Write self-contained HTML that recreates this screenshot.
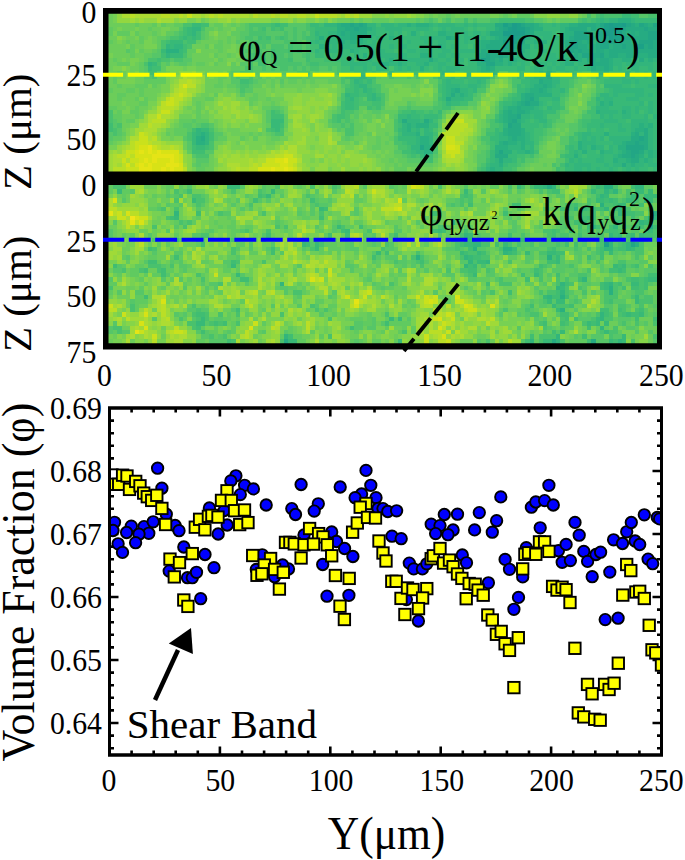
<!DOCTYPE html>
<html><head><meta charset="utf-8"><style>
html,body{margin:0;padding:0;background:#fff;width:685px;height:860px;overflow:hidden}
svg{display:block}
</style></head><body><svg width="685" height="860" viewBox="0 0 685 860"><defs><filter id="hb" x="0" y="0" width="1" height="1"><feGaussianBlur stdDeviation="0.6"/></filter></defs>
<g filter="url(#hb)"><g shape-rendering="crispEdges" transform="translate(104.112,9.422) scale(4.38800,4.37778)"><path fill="#1f988b" d="M116 4h1v1h-1z"/><path fill="#1e9d89" d="M93 3h1v1h-1zM115 3h1v1h-1zM118 3h1v1h-1zM93 4h1v1h-1zM115 4h1v1h-1zM91 5h5v1h-5zM114 5h2v1h-2zM92 6h1v1h-1zM115 6h1v1h-1z"/><path fill="#1fa187" d="M91 3h1v1h-1zM94 3h1v1h-1zM114 3h1v1h-1zM116 3h2v1h-2zM92 4h1v1h-1zM94 4h2v1h-2zM114 4h1v1h-1zM117 4h1v1h-1zM116 5h2v1h-2zM93 6h2v1h-2zM116 6h2v1h-2zM91 7h1v1h-1zM93 7h1v1h-1zM122 8h1v1h-1zM86 11h1v1h-1z"/><path fill="#21a685" d="M56 3h1v1h-1zM58 3h1v1h-1zM92 3h1v1h-1zM95 3h1v1h-1zM113 3h1v1h-1zM119 3h1v1h-1zM122 3h1v1h-1zM125 3h2v1h-2zM57 4h1v1h-1zM91 4h1v1h-1zM96 4h1v1h-1zM118 4h1v1h-1zM123 4h1v1h-1zM96 5h1v1h-1zM107 5h3v1h-3zM112 5h2v1h-2zM124 5h3v1h-3zM91 6h1v1h-1zM95 6h1v1h-1zM107 6h4v1h-4zM113 6h2v1h-2zM118 6h2v1h-2zM124 6h3v1h-3zM92 7h1v1h-1zM94 7h1v1h-1zM106 7h2v1h-2zM113 7h5v1h-5zM122 7h3v1h-3zM91 8h3v1h-3zM106 8h2v1h-2zM113 8h2v1h-2zM118 8h1v1h-1zM121 8h1v1h-1zM124 8h1v1h-1zM88 9h2v1h-2zM92 9h1v1h-1zM106 9h1v1h-1zM108 9h1v1h-1zM87 10h1v1h-1zM90 10h1v1h-1zM109 10h2v1h-2zM113 10h1v1h-1zM87 11h1v1h-1zM87 12h2v1h-2zM97 20h1v1h-1zM96 21h1v1h-1zM94 24h1v1h-1zM93 25h1v1h-1zM92 26h1v1h-1zM122 29h1v1h-1zM121 30h1v1h-1zM72 31h1v1h-1zM119 31h4v1h-4zM90 32h1v1h-1zM120 32h2v1h-2zM120 33h1v1h-1z"/><path fill="#25ab82" d="M54 3h2v1h-2zM57 3h1v1h-1zM59 3h1v1h-1zM89 3h2v1h-2zM96 3h2v1h-2zM108 3h4v1h-4zM120 3h1v1h-1zM123 3h1v1h-1zM55 4h2v1h-2zM58 4h2v1h-2zM90 4h1v1h-1zM97 4h1v1h-1zM106 4h4v1h-4zM111 4h1v1h-1zM113 4h1v1h-1zM119 4h4v1h-4zM124 4h3v1h-3zM54 5h1v1h-1zM56 5h4v1h-4zM88 5h3v1h-3zM97 5h1v1h-1zM110 5h1v1h-1zM118 5h1v1h-1zM120 5h1v1h-1zM122 5h2v1h-2zM56 6h3v1h-3zM78 6h1v1h-1zM90 6h1v1h-1zM106 6h1v1h-1zM112 6h1v1h-1zM121 6h3v1h-3zM88 7h3v1h-3zM95 7h1v1h-1zM105 7h1v1h-1zM108 7h1v1h-1zM110 7h1v1h-1zM112 7h1v1h-1zM118 7h2v1h-2zM125 7h2v1h-2zM87 8h4v1h-4zM94 8h1v1h-1zM105 8h1v1h-1zM108 8h2v1h-2zM112 8h1v1h-1zM116 8h2v1h-2zM119 8h2v1h-2zM123 8h1v1h-1zM125 8h2v1h-2zM86 9h1v1h-1zM90 9h2v1h-2zM93 9h1v1h-1zM107 9h1v1h-1zM109 9h2v1h-2zM112 9h2v1h-2zM115 9h12v1h-12zM86 10h1v1h-1zM88 10h2v1h-2zM91 10h1v1h-1zM107 10h1v1h-1zM111 10h2v1h-2zM115 10h2v1h-2zM119 10h2v1h-2zM124 10h3v1h-3zM74 11h1v1h-1zM88 11h1v1h-1zM90 11h1v1h-1zM110 11h2v1h-2zM113 11h2v1h-2zM122 11h1v1h-1zM111 12h4v1h-4zM87 13h1v1h-1zM111 13h1v1h-1zM114 13h1v1h-1zM101 15h1v1h-1zM99 16h1v1h-1zM100 17h1v1h-1zM80 18h1v1h-1zM99 18h1v1h-1zM79 19h1v1h-1zM96 19h2v1h-2zM78 20h1v1h-1zM96 20h1v1h-1zM95 21h1v1h-1zM97 21h2v1h-2zM94 22h1v1h-1zM92 23h1v1h-1zM94 23h2v1h-2zM92 24h2v1h-2zM68 25h1v1h-1zM73 25h1v1h-1zM92 25h1v1h-1zM93 26h2v1h-2zM92 27h3v1h-3zM123 27h1v1h-1zM92 28h3v1h-3zM121 28h1v1h-1zM123 28h1v1h-1zM22 29h1v1h-1zM93 29h1v1h-1zM120 29h2v1h-2zM123 29h1v1h-1zM91 30h1v1h-1zM119 30h2v1h-2zM122 30h2v1h-2zM123 31h1v1h-1zM119 32h1v1h-1zM122 32h1v1h-1zM89 33h3v1h-3zM118 33h2v1h-2zM121 33h1v1h-1zM90 34h1v1h-1zM120 34h2v1h-2zM118 35h1v1h-1z"/><path fill="#2ab07f" d="M117 2h3v1h-3zM53 3h1v1h-1zM69 3h1v1h-1zM71 3h3v1h-3zM98 3h1v1h-1zM106 3h2v1h-2zM112 3h1v1h-1zM121 3h1v1h-1zM124 3h1v1h-1zM53 4h2v1h-2zM60 4h1v1h-1zM89 4h1v1h-1zM98 4h2v1h-2zM105 4h1v1h-1zM112 4h1v1h-1zM53 5h1v1h-1zM55 5h1v1h-1zM70 5h1v1h-1zM76 5h2v1h-2zM105 5h2v1h-2zM119 5h1v1h-1zM121 5h1v1h-1zM49 6h1v1h-1zM54 6h2v1h-2zM65 6h1v1h-1zM79 6h1v1h-1zM84 6h1v1h-1zM89 6h1v1h-1zM96 6h1v1h-1zM105 6h1v1h-1zM111 6h1v1h-1zM120 6h1v1h-1zM53 7h2v1h-2zM56 7h3v1h-3zM86 7h2v1h-2zM98 7h1v1h-1zM100 7h1v1h-1zM109 7h1v1h-1zM120 7h2v1h-2zM49 8h1v1h-1zM76 8h1v1h-1zM86 8h1v1h-1zM95 8h2v1h-2zM110 8h2v1h-2zM115 8h1v1h-1zM14 9h3v1h-3zM56 9h1v1h-1zM87 9h1v1h-1zM94 9h2v1h-2zM104 9h1v1h-1zM111 9h1v1h-1zM114 9h1v1h-1zM59 10h1v1h-1zM72 10h2v1h-2zM85 10h1v1h-1zM92 10h1v1h-1zM94 10h1v1h-1zM108 10h1v1h-1zM114 10h1v1h-1zM117 10h2v1h-2zM121 10h3v1h-3zM65 11h1v1h-1zM85 11h1v1h-1zM89 11h1v1h-1zM92 11h2v1h-2zM105 11h1v1h-1zM107 11h2v1h-2zM112 11h1v1h-1zM115 11h1v1h-1zM118 11h2v1h-2zM124 11h1v1h-1zM63 12h2v1h-2zM67 12h1v1h-1zM73 12h1v1h-1zM80 12h1v1h-1zM85 12h2v1h-2zM89 12h2v1h-2zM92 12h1v1h-1zM105 12h2v1h-2zM110 12h1v1h-1zM115 12h1v1h-1zM120 12h1v1h-1zM72 13h1v1h-1zM86 13h1v1h-1zM88 13h1v1h-1zM112 13h2v1h-2zM115 13h1v1h-1zM86 14h2v1h-2zM99 14h1v1h-1zM101 14h1v1h-1zM114 14h1v1h-1zM98 15h3v1h-3zM100 16h2v1h-2zM98 17h2v1h-2zM101 17h1v1h-1zM79 18h1v1h-1zM97 18h2v1h-2zM100 18h1v1h-1zM81 19h1v1h-1zM95 19h1v1h-1zM98 19h4v1h-4zM95 20h1v1h-1zM98 20h1v1h-1zM94 21h1v1h-1zM113 21h1v1h-1zM115 21h1v1h-1zM92 22h2v1h-2zM95 22h3v1h-3zM91 23h1v1h-1zM93 23h1v1h-1zM96 23h1v1h-1zM112 23h1v1h-1zM118 23h1v1h-1zM91 24h1v1h-1zM91 25h1v1h-1zM94 25h1v1h-1zM69 26h1v1h-1zM71 26h3v1h-3zM122 26h1v1h-1zM124 26h1v1h-1zM69 27h1v1h-1zM91 27h1v1h-1zM95 27h1v1h-1zM121 27h2v1h-2zM22 28h1v1h-1zM71 28h1v1h-1zM91 28h1v1h-1zM95 28h1v1h-1zM114 28h1v1h-1zM120 28h1v1h-1zM21 29h1v1h-1zM72 29h2v1h-2zM92 29h1v1h-1zM94 29h2v1h-2zM21 30h2v1h-2zM72 30h2v1h-2zM90 30h1v1h-1zM92 30h2v1h-2zM95 30h1v1h-1zM108 30h1v1h-1zM118 30h1v1h-1zM73 31h2v1h-2zM89 31h3v1h-3zM95 31h1v1h-1zM108 31h1v1h-1zM111 31h1v1h-1zM117 31h2v1h-2zM73 32h2v1h-2zM89 32h1v1h-1zM91 32h2v1h-2zM96 32h1v1h-1zM109 32h1v1h-1zM113 32h1v1h-1zM118 32h1v1h-1zM124 32h1v1h-1zM73 33h1v1h-1zM107 33h1v1h-1zM117 33h1v1h-1zM122 33h1v1h-1zM124 33h1v1h-1zM116 34h1v1h-1zM119 34h1v1h-1zM123 34h1v1h-1zM90 35h1v1h-1zM120 35h1v1h-1zM88 36h1v1h-1zM88 37h1v1h-1z"/><path fill="#31b57b" d="M113 2h1v1h-1zM115 2h2v1h-2zM120 2h1v1h-1zM50 3h3v1h-3zM60 3h2v1h-2zM63 3h3v1h-3zM67 3h2v1h-2zM70 3h1v1h-1zM74 3h1v1h-1zM76 3h4v1h-4zM82 3h1v1h-1zM84 3h1v1h-1zM99 3h1v1h-1zM102 3h1v1h-1zM104 3h2v1h-2zM20 4h2v1h-2zM61 4h1v1h-1zM64 4h4v1h-4zM71 4h3v1h-3zM77 4h1v1h-1zM79 4h3v1h-3zM104 4h1v1h-1zM110 4h1v1h-1zM20 5h1v1h-1zM48 5h1v1h-1zM51 5h2v1h-2zM60 5h2v1h-2zM65 5h1v1h-1zM67 5h1v1h-1zM78 5h2v1h-2zM82 5h1v1h-1zM84 5h2v1h-2zM87 5h1v1h-1zM98 5h4v1h-4zM104 5h1v1h-1zM111 5h1v1h-1zM52 6h2v1h-2zM59 6h2v1h-2zM62 6h1v1h-1zM66 6h1v1h-1zM72 6h6v1h-6zM80 6h1v1h-1zM82 6h2v1h-2zM86 6h1v1h-1zM88 6h1v1h-1zM97 6h2v1h-2zM100 6h2v1h-2zM103 6h2v1h-2zM48 7h1v1h-1zM50 7h3v1h-3zM55 7h1v1h-1zM59 7h1v1h-1zM61 7h1v1h-1zM67 7h1v1h-1zM69 7h1v1h-1zM73 7h2v1h-2zM76 7h2v1h-2zM82 7h1v1h-1zM85 7h1v1h-1zM96 7h2v1h-2zM99 7h1v1h-1zM104 7h1v1h-1zM111 7h1v1h-1zM14 8h1v1h-1zM16 8h2v1h-2zM50 8h1v1h-1zM52 8h1v1h-1zM54 8h8v1h-8zM65 8h1v1h-1zM68 8h1v1h-1zM77 8h1v1h-1zM79 8h1v1h-1zM84 8h2v1h-2zM98 8h2v1h-2zM48 9h1v1h-1zM50 9h4v1h-4zM57 9h1v1h-1zM61 9h1v1h-1zM63 9h1v1h-1zM69 9h2v1h-2zM72 9h3v1h-3zM77 9h2v1h-2zM81 9h5v1h-5zM96 9h1v1h-1zM100 9h1v1h-1zM105 9h1v1h-1zM14 10h1v1h-1zM57 10h1v1h-1zM61 10h1v1h-1zM63 10h6v1h-6zM74 10h1v1h-1zM76 10h2v1h-2zM79 10h2v1h-2zM93 10h1v1h-1zM95 10h2v1h-2zM101 10h2v1h-2zM104 10h3v1h-3zM56 11h1v1h-1zM58 11h1v1h-1zM60 11h1v1h-1zM64 11h1v1h-1zM67 11h7v1h-7zM75 11h1v1h-1zM78 11h1v1h-1zM81 11h1v1h-1zM83 11h2v1h-2zM91 11h1v1h-1zM94 11h2v1h-2zM97 11h1v1h-1zM101 11h3v1h-3zM106 11h1v1h-1zM109 11h1v1h-1zM116 11h2v1h-2zM120 11h1v1h-1zM123 11h1v1h-1zM125 11h2v1h-2zM10 12h1v1h-1zM56 12h4v1h-4zM61 12h2v1h-2zM65 12h2v1h-2zM68 12h1v1h-1zM71 12h2v1h-2zM76 12h2v1h-2zM91 12h1v1h-1zM93 12h1v1h-1zM95 12h1v1h-1zM98 12h3v1h-3zM102 12h1v1h-1zM104 12h1v1h-1zM108 12h2v1h-2zM116 12h2v1h-2zM119 12h1v1h-1zM121 12h4v1h-4zM56 13h1v1h-1zM59 13h1v1h-1zM62 13h2v1h-2zM67 13h1v1h-1zM69 13h1v1h-1zM76 13h1v1h-1zM78 13h3v1h-3zM85 13h1v1h-1zM94 13h2v1h-2zM98 13h2v1h-2zM101 13h1v1h-1zM103 13h2v1h-2zM107 13h1v1h-1zM110 13h1v1h-1zM117 13h1v1h-1zM120 13h2v1h-2zM124 13h1v1h-1zM77 14h3v1h-3zM85 14h1v1h-1zM88 14h1v1h-1zM98 14h1v1h-1zM100 14h1v1h-1zM102 14h1v1h-1zM105 14h1v1h-1zM111 14h3v1h-3zM119 14h1v1h-1zM121 14h1v1h-1zM123 14h1v1h-1zM125 14h2v1h-2zM58 15h2v1h-2zM79 15h1v1h-1zM82 15h1v1h-1zM84 15h4v1h-4zM96 15h2v1h-2zM102 15h2v1h-2zM118 15h1v1h-1zM120 15h1v1h-1zM123 15h1v1h-1zM125 15h2v1h-2zM57 16h1v1h-1zM78 16h1v1h-1zM85 16h1v1h-1zM97 16h2v1h-2zM102 16h2v1h-2zM118 16h2v1h-2zM121 16h1v1h-1zM58 17h2v1h-2zM78 17h3v1h-3zM83 17h2v1h-2zM97 17h1v1h-1zM102 17h1v1h-1zM114 17h4v1h-4zM124 17h3v1h-3zM59 18h1v1h-1zM78 18h1v1h-1zM81 18h2v1h-2zM84 18h1v1h-1zM96 18h1v1h-1zM101 18h1v1h-1zM104 18h1v1h-1zM116 18h7v1h-7zM55 19h1v1h-1zM61 19h1v1h-1zM78 19h1v1h-1zM80 19h1v1h-1zM82 19h1v1h-1zM113 19h2v1h-2zM116 19h1v1h-1zM121 19h2v1h-2zM124 19h1v1h-1zM56 20h1v1h-1zM61 20h1v1h-1zM79 20h3v1h-3zM102 20h2v1h-2zM112 20h1v1h-1zM114 20h2v1h-2zM119 20h3v1h-3zM78 21h1v1h-1zM93 21h1v1h-1zM99 21h1v1h-1zM114 21h1v1h-1zM122 21h1v1h-1zM124 21h1v1h-1zM91 22h1v1h-1zM98 22h1v1h-1zM101 22h1v1h-1zM112 22h3v1h-3zM118 22h2v1h-2zM121 22h1v1h-1zM124 22h1v1h-1zM97 23h3v1h-3zM113 23h4v1h-4zM119 23h1v1h-1zM121 23h1v1h-1zM124 23h1v1h-1zM69 24h1v1h-1zM90 24h1v1h-1zM95 24h2v1h-2zM98 24h2v1h-2zM113 24h1v1h-1zM115 24h1v1h-1zM118 24h2v1h-2zM123 24h1v1h-1zM125 24h2v1h-2zM69 25h3v1h-3zM74 25h1v1h-1zM90 25h1v1h-1zM95 25h1v1h-1zM99 25h2v1h-2zM114 25h3v1h-3zM120 25h4v1h-4zM68 26h1v1h-1zM70 26h1v1h-1zM91 26h1v1h-1zM113 26h1v1h-1zM117 26h1v1h-1zM120 26h2v1h-2zM123 26h1v1h-1zM21 27h1v1h-1zM68 27h1v1h-1zM71 27h1v1h-1zM73 27h1v1h-1zM117 27h2v1h-2zM120 27h1v1h-1zM124 27h1v1h-1zM21 28h1v1h-1zM23 28h1v1h-1zM68 28h3v1h-3zM73 28h2v1h-2zM90 28h1v1h-1zM96 28h1v1h-1zM109 28h2v1h-2zM122 28h1v1h-1zM124 28h1v1h-1zM23 29h1v1h-1zM71 29h1v1h-1zM74 29h1v1h-1zM90 29h2v1h-2zM96 29h1v1h-1zM109 29h1v1h-1zM111 29h1v1h-1zM113 29h1v1h-1zM115 29h5v1h-5zM124 29h1v1h-1zM23 30h1v1h-1zM71 30h1v1h-1zM74 30h1v1h-1zM94 30h1v1h-1zM96 30h2v1h-2zM109 30h3v1h-3zM116 30h2v1h-2zM124 30h1v1h-1zM70 31h2v1h-2zM92 31h3v1h-3zM97 31h1v1h-1zM109 31h1v1h-1zM112 31h2v1h-2zM115 31h1v1h-1zM124 31h1v1h-1zM71 32h2v1h-2zM94 32h2v1h-2zM97 32h1v1h-1zM107 32h1v1h-1zM114 32h2v1h-2zM117 32h1v1h-1zM123 32h1v1h-1zM125 32h2v1h-2zM113 33h1v1h-1zM116 33h1v1h-1zM125 33h2v1h-2zM89 34h1v1h-1zM91 34h2v1h-2zM106 34h1v1h-1zM108 34h1v1h-1zM112 34h2v1h-2zM117 34h2v1h-2zM122 34h1v1h-1zM124 34h1v1h-1zM88 35h2v1h-2zM105 35h1v1h-1zM107 35h4v1h-4zM114 35h1v1h-1zM116 35h2v1h-2zM119 35h1v1h-1zM121 35h2v1h-2zM124 35h3v1h-3zM87 36h1v1h-1zM89 36h2v1h-2zM107 36h2v1h-2zM110 36h1v1h-1zM112 36h1v1h-1zM115 36h1v1h-1zM119 36h1v1h-1zM121 36h1v1h-1zM87 37h1v1h-1zM89 37h2v1h-2zM107 37h2v1h-2zM110 37h1v1h-1zM112 37h1v1h-1zM115 37h1v1h-1zM119 37h1v1h-1zM121 37h1v1h-1z"/><path fill="#38b977" d="M118 0h2v1h-2zM118 1h2v1h-2zM112 2h1v1h-1zM114 2h1v1h-1zM121 2h6v1h-6zM20 3h2v1h-2zM39 3h1v1h-1zM47 3h2v1h-2zM66 3h1v1h-1zM75 3h1v1h-1zM80 3h2v1h-2zM83 3h1v1h-1zM85 3h4v1h-4zM100 3h2v1h-2zM103 3h1v1h-1zM19 4h1v1h-1zM48 4h5v1h-5zM62 4h2v1h-2zM68 4h3v1h-3zM74 4h1v1h-1zM76 4h1v1h-1zM78 4h1v1h-1zM82 4h1v1h-1zM84 4h1v1h-1zM87 4h2v1h-2zM100 4h4v1h-4zM19 5h1v1h-1zM49 5h2v1h-2zM62 5h3v1h-3zM66 5h1v1h-1zM69 5h1v1h-1zM71 5h1v1h-1zM73 5h3v1h-3zM80 5h2v1h-2zM83 5h1v1h-1zM86 5h1v1h-1zM102 5h1v1h-1zM18 6h1v1h-1zM20 6h1v1h-1zM48 6h1v1h-1zM50 6h2v1h-2zM61 6h1v1h-1zM63 6h2v1h-2zM67 6h5v1h-5zM81 6h1v1h-1zM87 6h1v1h-1zM99 6h1v1h-1zM102 6h1v1h-1zM15 7h3v1h-3zM47 7h1v1h-1zM49 7h1v1h-1zM60 7h1v1h-1zM62 7h5v1h-5zM68 7h1v1h-1zM70 7h3v1h-3zM75 7h1v1h-1zM78 7h4v1h-4zM83 7h2v1h-2zM101 7h3v1h-3zM15 8h1v1h-1zM51 8h1v1h-1zM53 8h1v1h-1zM62 8h3v1h-3zM66 8h2v1h-2zM69 8h7v1h-7zM78 8h1v1h-1zM80 8h3v1h-3zM97 8h1v1h-1zM100 8h5v1h-5zM13 9h1v1h-1zM17 9h1v1h-1zM49 9h1v1h-1zM54 9h2v1h-2zM58 9h3v1h-3zM62 9h1v1h-1zM64 9h2v1h-2zM67 9h2v1h-2zM71 9h1v1h-1zM75 9h2v1h-2zM79 9h2v1h-2zM97 9h3v1h-3zM101 9h3v1h-3zM15 10h3v1h-3zM48 10h2v1h-2zM52 10h4v1h-4zM58 10h1v1h-1zM60 10h1v1h-1zM62 10h1v1h-1zM69 10h3v1h-3zM75 10h1v1h-1zM78 10h1v1h-1zM81 10h4v1h-4zM97 10h2v1h-2zM100 10h1v1h-1zM103 10h1v1h-1zM54 11h2v1h-2zM59 11h1v1h-1zM61 11h3v1h-3zM66 11h1v1h-1zM76 11h2v1h-2zM79 11h2v1h-2zM96 11h1v1h-1zM99 11h2v1h-2zM104 11h1v1h-1zM121 11h1v1h-1zM11 12h1v1h-1zM54 12h2v1h-2zM60 12h1v1h-1zM69 12h2v1h-2zM74 12h2v1h-2zM78 12h2v1h-2zM81 12h1v1h-1zM83 12h2v1h-2zM94 12h1v1h-1zM96 12h1v1h-1zM101 12h1v1h-1zM103 12h1v1h-1zM107 12h1v1h-1zM118 12h1v1h-1zM125 12h2v1h-2zM10 13h1v1h-1zM57 13h2v1h-2zM60 13h1v1h-1zM64 13h1v1h-1zM66 13h1v1h-1zM68 13h1v1h-1zM70 13h2v1h-2zM73 13h1v1h-1zM75 13h1v1h-1zM77 13h1v1h-1zM81 13h4v1h-4zM89 13h5v1h-5zM97 13h1v1h-1zM100 13h1v1h-1zM102 13h1v1h-1zM105 13h2v1h-2zM108 13h2v1h-2zM116 13h1v1h-1zM118 13h1v1h-1zM122 13h2v1h-2zM125 13h2v1h-2zM57 14h3v1h-3zM61 14h1v1h-1zM65 14h1v1h-1zM72 14h1v1h-1zM76 14h1v1h-1zM82 14h3v1h-3zM89 14h1v1h-1zM94 14h1v1h-1zM97 14h1v1h-1zM104 14h1v1h-1zM106 14h1v1h-1zM115 14h4v1h-4zM122 14h1v1h-1zM124 14h1v1h-1zM56 15h2v1h-2zM76 15h1v1h-1zM78 15h1v1h-1zM81 15h1v1h-1zM83 15h1v1h-1zM94 15h1v1h-1zM112 15h1v1h-1zM115 15h3v1h-3zM119 15h1v1h-1zM121 15h2v1h-2zM124 15h1v1h-1zM58 16h1v1h-1zM60 16h1v1h-1zM77 16h1v1h-1zM79 16h3v1h-3zM83 16h2v1h-2zM86 16h1v1h-1zM95 16h2v1h-2zM114 16h4v1h-4zM120 16h1v1h-1zM122 16h5v1h-5zM57 17h1v1h-1zM77 17h1v1h-1zM81 17h2v1h-2zM85 17h1v1h-1zM94 17h1v1h-1zM96 17h1v1h-1zM103 17h1v1h-1zM118 17h2v1h-2zM121 17h3v1h-3zM57 18h1v1h-1zM60 18h1v1h-1zM77 18h1v1h-1zM83 18h1v1h-1zM94 18h2v1h-2zM102 18h2v1h-2zM115 18h1v1h-1zM123 18h4v1h-4zM56 19h2v1h-2zM60 19h1v1h-1zM77 19h1v1h-1zM83 19h1v1h-1zM94 19h1v1h-1zM102 19h2v1h-2zM115 19h1v1h-1zM117 19h4v1h-4zM123 19h1v1h-1zM125 19h2v1h-2zM55 20h1v1h-1zM60 20h1v1h-1zM62 20h1v1h-1zM77 20h1v1h-1zM82 20h2v1h-2zM93 20h2v1h-2zM99 20h3v1h-3zM113 20h1v1h-1zM116 20h3v1h-3zM122 20h5v1h-5zM55 21h2v1h-2zM79 21h2v1h-2zM91 21h2v1h-2zM100 21h1v1h-1zM102 21h2v1h-2zM112 21h1v1h-1zM116 21h6v1h-6zM125 21h2v1h-2zM55 22h2v1h-2zM99 22h1v1h-1zM102 22h2v1h-2zM115 22h3v1h-3zM120 22h1v1h-1zM122 22h2v1h-2zM125 22h2v1h-2zM70 23h1v1h-1zM76 23h1v1h-1zM90 23h1v1h-1zM100 23h3v1h-3zM117 23h1v1h-1zM120 23h1v1h-1zM123 23h1v1h-1zM125 23h2v1h-2zM67 24h2v1h-2zM70 24h2v1h-2zM73 24h3v1h-3zM97 24h1v1h-1zM100 24h1v1h-1zM114 24h1v1h-1zM116 24h2v1h-2zM120 24h3v1h-3zM38 25h3v1h-3zM67 25h1v1h-1zM72 25h1v1h-1zM89 25h1v1h-1zM96 25h1v1h-1zM98 25h1v1h-1zM111 25h3v1h-3zM117 25h2v1h-2zM124 25h3v1h-3zM38 26h2v1h-2zM74 26h2v1h-2zM95 26h4v1h-4zM100 26h1v1h-1zM110 26h3v1h-3zM114 26h3v1h-3zM118 26h2v1h-2zM125 26h2v1h-2zM22 27h2v1h-2zM39 27h1v1h-1zM67 27h1v1h-1zM70 27h1v1h-1zM74 27h1v1h-1zM89 27h1v1h-1zM96 27h2v1h-2zM110 27h1v1h-1zM112 27h2v1h-2zM115 27h2v1h-2zM119 27h1v1h-1zM125 27h2v1h-2zM20 28h1v1h-1zM89 28h1v1h-1zM97 28h1v1h-1zM108 28h1v1h-1zM111 28h3v1h-3zM115 28h5v1h-5zM125 28h2v1h-2zM20 29h1v1h-1zM67 29h4v1h-4zM88 29h2v1h-2zM97 29h1v1h-1zM108 29h1v1h-1zM110 29h1v1h-1zM112 29h1v1h-1zM125 29h2v1h-2zM20 30h1v1h-1zM69 30h2v1h-2zM89 30h1v1h-1zM112 30h4v1h-4zM125 30h2v1h-2zM21 31h2v1h-2zM96 31h1v1h-1zM106 31h1v1h-1zM110 31h1v1h-1zM116 31h1v1h-1zM125 31h2v1h-2zM70 32h1v1h-1zM88 32h1v1h-1zM93 32h1v1h-1zM106 32h1v1h-1zM108 32h1v1h-1zM110 32h2v1h-2zM116 32h1v1h-1zM72 33h1v1h-1zM88 33h1v1h-1zM92 33h2v1h-2zM105 33h2v1h-2zM108 33h1v1h-1zM110 33h3v1h-3zM114 33h2v1h-2zM123 33h1v1h-1zM88 34h1v1h-1zM93 34h1v1h-1zM107 34h1v1h-1zM109 34h3v1h-3zM114 34h2v1h-2zM125 34h2v1h-2zM87 35h1v1h-1zM91 35h1v1h-1zM106 35h1v1h-1zM111 35h3v1h-3zM115 35h1v1h-1zM123 35h1v1h-1zM105 36h2v1h-2zM109 36h1v1h-1zM111 36h1v1h-1zM113 36h2v1h-2zM116 36h1v1h-1zM118 36h1v1h-1zM120 36h1v1h-1zM122 36h2v1h-2zM125 36h2v1h-2zM105 37h2v1h-2zM109 37h1v1h-1zM111 37h1v1h-1zM113 37h2v1h-2zM116 37h1v1h-1zM118 37h1v1h-1zM120 37h1v1h-1zM122 37h2v1h-2zM125 37h2v1h-2z"/><path fill="#40bd72" d="M113 0h1v1h-1zM120 0h2v1h-2zM113 1h1v1h-1zM120 1h2v1h-2zM82 2h1v1h-1zM90 2h6v1h-6zM109 2h1v1h-1zM111 2h1v1h-1zM22 3h2v1h-2zM38 3h1v1h-1zM40 3h2v1h-2zM49 3h1v1h-1zM62 3h1v1h-1zM18 4h1v1h-1zM36 4h1v1h-1zM38 4h1v1h-1zM40 4h1v1h-1zM47 4h1v1h-1zM75 4h1v1h-1zM83 4h1v1h-1zM85 4h2v1h-2zM18 5h1v1h-1zM21 5h1v1h-1zM47 5h1v1h-1zM68 5h1v1h-1zM72 5h1v1h-1zM103 5h1v1h-1zM17 6h1v1h-1zM19 6h1v1h-1zM21 6h1v1h-1zM35 6h1v1h-1zM37 6h1v1h-1zM40 6h1v1h-1zM46 6h2v1h-2zM85 6h1v1h-1zM14 7h1v1h-1zM19 7h2v1h-2zM18 8h1v1h-1zM33 8h1v1h-1zM42 8h1v1h-1zM47 8h2v1h-2zM83 8h1v1h-1zM18 9h1v1h-1zM38 9h1v1h-1zM42 9h1v1h-1zM44 9h1v1h-1zM47 9h1v1h-1zM66 9h1v1h-1zM13 10h1v1h-1zM34 10h2v1h-2zM38 10h1v1h-1zM46 10h1v1h-1zM50 10h2v1h-2zM56 10h1v1h-1zM99 10h1v1h-1zM12 11h1v1h-1zM33 11h1v1h-1zM35 11h2v1h-2zM42 11h1v1h-1zM46 11h1v1h-1zM50 11h4v1h-4zM57 11h1v1h-1zM82 11h1v1h-1zM98 11h1v1h-1zM35 12h2v1h-2zM47 12h2v1h-2zM82 12h1v1h-1zM97 12h1v1h-1zM11 13h2v1h-2zM54 13h2v1h-2zM61 13h1v1h-1zM74 13h1v1h-1zM96 13h1v1h-1zM119 13h1v1h-1zM10 14h2v1h-2zM54 14h3v1h-3zM60 14h1v1h-1zM62 14h1v1h-1zM66 14h3v1h-3zM70 14h2v1h-2zM73 14h3v1h-3zM80 14h2v1h-2zM92 14h2v1h-2zM95 14h2v1h-2zM103 14h1v1h-1zM107 14h2v1h-2zM120 14h1v1h-1zM55 15h1v1h-1zM60 15h2v1h-2zM77 15h1v1h-1zM80 15h1v1h-1zM95 15h1v1h-1zM104 15h3v1h-3zM113 15h2v1h-2zM31 16h2v1h-2zM56 16h1v1h-1zM59 16h1v1h-1zM82 16h1v1h-1zM104 16h2v1h-2zM113 16h1v1h-1zM56 17h1v1h-1zM60 17h1v1h-1zM76 17h1v1h-1zM86 17h1v1h-1zM95 17h1v1h-1zM104 17h2v1h-2zM120 17h1v1h-1zM55 18h2v1h-2zM58 18h1v1h-1zM61 18h1v1h-1zM76 18h1v1h-1zM105 18h1v1h-1zM114 18h1v1h-1zM58 19h2v1h-2zM62 19h1v1h-1zM93 19h1v1h-1zM104 19h1v1h-1zM112 19h1v1h-1zM57 20h1v1h-1zM76 20h1v1h-1zM92 20h1v1h-1zM54 21h1v1h-1zM57 21h1v1h-1zM61 21h2v1h-2zM77 21h1v1h-1zM81 21h2v1h-2zM90 21h1v1h-1zM101 21h1v1h-1zM123 21h1v1h-1zM54 22h1v1h-1zM57 22h1v1h-1zM60 22h1v1h-1zM62 22h1v1h-1zM77 22h2v1h-2zM90 22h1v1h-1zM100 22h1v1h-1zM104 22h1v1h-1zM111 22h1v1h-1zM38 23h1v1h-1zM54 23h1v1h-1zM68 23h2v1h-2zM71 23h2v1h-2zM74 23h1v1h-1zM110 23h2v1h-2zM122 23h1v1h-1zM38 24h3v1h-3zM53 24h2v1h-2zM72 24h1v1h-1zM76 24h1v1h-1zM89 24h1v1h-1zM111 24h2v1h-2zM124 24h1v1h-1zM53 25h1v1h-1zM75 25h1v1h-1zM97 25h1v1h-1zM101 25h1v1h-1zM109 25h2v1h-2zM119 25h1v1h-1zM0 26h2v1h-2zM40 26h1v1h-1zM67 26h1v1h-1zM90 26h1v1h-1zM99 26h1v1h-1zM101 26h1v1h-1zM109 26h1v1h-1zM0 27h2v1h-2zM20 27h1v1h-1zM38 27h1v1h-1zM72 27h1v1h-1zM90 27h1v1h-1zM98 27h2v1h-2zM111 27h1v1h-1zM114 27h1v1h-1zM24 28h1v1h-1zM67 28h1v1h-1zM72 28h1v1h-1zM75 28h1v1h-1zM87 28h2v1h-2zM98 28h2v1h-2zM107 28h1v1h-1zM24 29h1v1h-1zM98 29h1v1h-1zM106 29h1v1h-1zM114 29h1v1h-1zM68 30h1v1h-1zM88 30h1v1h-1zM98 30h1v1h-1zM106 30h2v1h-2zM20 31h1v1h-1zM23 31h1v1h-1zM69 31h1v1h-1zM88 31h1v1h-1zM105 31h1v1h-1zM107 31h1v1h-1zM114 31h1v1h-1zM20 32h3v1h-3zM68 32h2v1h-2zM98 32h1v1h-1zM112 32h1v1h-1zM70 33h1v1h-1zM74 33h1v1h-1zM94 33h2v1h-2zM97 33h1v1h-1zM104 33h1v1h-1zM109 33h1v1h-1zM74 34h1v1h-1zM87 34h1v1h-1zM95 34h1v1h-1zM105 34h1v1h-1zM92 35h2v1h-2zM104 35h1v1h-1zM86 36h1v1h-1zM91 36h2v1h-2zM103 36h1v1h-1zM117 36h1v1h-1zM124 36h1v1h-1zM86 37h1v1h-1zM91 37h2v1h-2zM103 37h1v1h-1zM117 37h1v1h-1zM124 37h1v1h-1z"/><path fill="#4ac16d" d="M110 0h1v1h-1zM112 0h1v1h-1zM114 0h4v1h-4zM124 0h3v1h-3zM110 1h1v1h-1zM112 1h1v1h-1zM114 1h4v1h-4zM124 1h3v1h-3zM74 2h1v1h-1zM78 2h1v1h-1zM84 2h1v1h-1zM88 2h2v1h-2zM96 2h2v1h-2zM108 2h1v1h-1zM110 2h1v1h-1zM18 3h2v1h-2zM33 3h5v1h-5zM46 3h1v1h-1zM22 4h1v1h-1zM33 4h1v1h-1zM35 4h1v1h-1zM39 4h1v1h-1zM43 4h1v1h-1zM46 4h1v1h-1zM17 5h1v1h-1zM33 5h4v1h-4zM41 5h1v1h-1zM43 5h1v1h-1zM45 5h1v1h-1zM15 6h2v1h-2zM32 6h2v1h-2zM36 6h1v1h-1zM39 6h1v1h-1zM41 6h1v1h-1zM43 6h1v1h-1zM45 6h1v1h-1zM13 7h1v1h-1zM18 7h1v1h-1zM33 7h5v1h-5zM41 7h3v1h-3zM46 7h1v1h-1zM13 8h1v1h-1zM19 8h1v1h-1zM34 8h1v1h-1zM36 8h1v1h-1zM38 8h3v1h-3zM43 8h2v1h-2zM46 8h1v1h-1zM32 9h1v1h-1zM34 9h2v1h-2zM39 9h3v1h-3zM43 9h1v1h-1zM46 9h1v1h-1zM18 10h1v1h-1zM33 10h1v1h-1zM36 10h1v1h-1zM39 10h2v1h-2zM42 10h1v1h-1zM45 10h1v1h-1zM47 10h1v1h-1zM10 11h2v1h-2zM13 11h2v1h-2zM16 11h2v1h-2zM32 11h1v1h-1zM34 11h1v1h-1zM38 11h4v1h-4zM47 11h3v1h-3zM9 12h1v1h-1zM12 12h1v1h-1zM33 12h1v1h-1zM38 12h7v1h-7zM46 12h1v1h-1zM49 12h5v1h-5zM32 13h2v1h-2zM36 13h1v1h-1zM38 13h1v1h-1zM40 13h2v1h-2zM43 13h1v1h-1zM45 13h1v1h-1zM47 13h2v1h-2zM51 13h1v1h-1zM53 13h1v1h-1zM65 13h1v1h-1zM31 14h3v1h-3zM44 14h3v1h-3zM53 14h1v1h-1zM63 14h2v1h-2zM69 14h1v1h-1zM109 14h2v1h-2zM11 15h1v1h-1zM30 15h1v1h-1zM33 15h1v1h-1zM54 15h1v1h-1zM65 15h1v1h-1zM69 15h1v1h-1zM71 15h1v1h-1zM75 15h1v1h-1zM88 15h1v1h-1zM93 15h1v1h-1zM107 15h1v1h-1zM111 15h1v1h-1zM33 16h1v1h-1zM54 16h1v1h-1zM61 16h1v1h-1zM76 16h1v1h-1zM87 16h1v1h-1zM93 16h2v1h-2zM106 16h1v1h-1zM112 16h1v1h-1zM31 17h2v1h-2zM55 17h1v1h-1zM61 17h2v1h-2zM93 17h1v1h-1zM106 17h1v1h-1zM112 17h1v1h-1zM31 18h1v1h-1zM62 18h1v1h-1zM85 18h2v1h-2zM112 18h2v1h-2zM54 19h1v1h-1zM63 19h1v1h-1zM76 19h1v1h-1zM84 19h1v1h-1zM92 19h1v1h-1zM105 19h1v1h-1zM54 20h1v1h-1zM58 20h1v1h-1zM63 20h1v1h-1zM91 20h1v1h-1zM104 20h1v1h-1zM111 20h1v1h-1zM58 21h3v1h-3zM63 21h1v1h-1zM76 21h1v1h-1zM104 21h1v1h-1zM110 21h2v1h-2zM61 22h1v1h-1zM69 22h1v1h-1zM75 22h2v1h-2zM0 23h2v1h-2zM39 23h1v1h-1zM55 23h2v1h-2zM67 23h1v1h-1zM73 23h1v1h-1zM75 23h1v1h-1zM103 23h1v1h-1zM0 24h2v1h-2zM52 24h1v1h-1zM55 24h1v1h-1zM101 24h3v1h-3zM109 24h2v1h-2zM0 25h2v1h-2zM52 25h1v1h-1zM55 25h1v1h-1zM66 25h1v1h-1zM88 25h1v1h-1zM102 25h1v1h-1zM108 25h1v1h-1zM3 26h1v1h-1zM22 26h2v1h-2zM54 26h1v1h-1zM56 26h1v1h-1zM66 26h1v1h-1zM88 26h2v1h-2zM108 26h1v1h-1zM2 27h1v1h-1zM24 27h1v1h-1zM37 27h1v1h-1zM40 27h1v1h-1zM55 27h2v1h-2zM66 27h1v1h-1zM75 27h1v1h-1zM87 27h2v1h-2zM100 27h1v1h-1zM108 27h2v1h-2zM2 28h1v1h-1zM19 28h1v1h-1zM39 28h2v1h-2zM55 28h2v1h-2zM100 28h1v1h-1zM19 29h1v1h-1zM66 29h1v1h-1zM75 29h1v1h-1zM86 29h2v1h-2zM99 29h1v1h-1zM107 29h1v1h-1zM24 30h1v1h-1zM66 30h2v1h-2zM75 30h1v1h-1zM87 30h1v1h-1zM24 31h1v1h-1zM67 31h2v1h-2zM75 31h1v1h-1zM98 31h1v1h-1zM75 32h1v1h-1zM87 32h1v1h-1zM105 32h1v1h-1zM21 33h3v1h-3zM69 33h1v1h-1zM71 33h1v1h-1zM87 33h1v1h-1zM96 33h1v1h-1zM72 34h2v1h-2zM94 34h1v1h-1zM86 35h1v1h-1zM94 35h1v1h-1zM102 35h1v1h-1zM85 36h1v1h-1zM93 36h1v1h-1zM104 36h1v1h-1zM85 37h1v1h-1zM93 37h1v1h-1zM104 37h1v1h-1z"/><path fill="#56c667" d="M122 0h2v1h-2zM122 1h2v1h-2zM71 2h1v1h-1zM73 2h1v1h-1zM75 2h1v1h-1zM77 2h1v1h-1zM80 2h2v1h-2zM83 2h1v1h-1zM85 2h3v1h-3zM98 2h2v1h-2zM32 3h1v1h-1zM42 3h4v1h-4zM17 4h1v1h-1zM32 4h1v1h-1zM34 4h1v1h-1zM37 4h1v1h-1zM41 4h2v1h-2zM44 4h2v1h-2zM16 5h1v1h-1zM22 5h1v1h-1zM31 5h2v1h-2zM37 5h4v1h-4zM42 5h1v1h-1zM44 5h1v1h-1zM46 5h1v1h-1zM14 6h1v1h-1zM22 6h1v1h-1zM31 6h1v1h-1zM34 6h1v1h-1zM38 6h1v1h-1zM42 6h1v1h-1zM44 6h1v1h-1zM30 7h1v1h-1zM38 7h3v1h-3zM44 7h1v1h-1zM31 8h2v1h-2zM35 8h1v1h-1zM41 8h1v1h-1zM45 8h1v1h-1zM5 9h1v1h-1zM12 9h1v1h-1zM31 9h1v1h-1zM33 9h1v1h-1zM36 9h2v1h-2zM45 9h1v1h-1zM11 10h2v1h-2zM31 10h2v1h-2zM37 10h1v1h-1zM41 10h1v1h-1zM43 10h2v1h-2zM15 11h1v1h-1zM18 11h2v1h-2zM37 11h1v1h-1zM43 11h3v1h-3zM14 12h1v1h-1zM17 12h2v1h-2zM31 12h2v1h-2zM37 12h1v1h-1zM45 12h1v1h-1zM9 13h1v1h-1zM34 13h2v1h-2zM37 13h1v1h-1zM39 13h1v1h-1zM42 13h1v1h-1zM44 13h1v1h-1zM46 13h1v1h-1zM49 13h2v1h-2zM52 13h1v1h-1zM9 14h1v1h-1zM12 14h1v1h-1zM29 14h2v1h-2zM34 14h10v1h-10zM48 14h1v1h-1zM52 14h1v1h-1zM90 14h2v1h-2zM9 15h2v1h-2zM29 15h1v1h-1zM31 15h2v1h-2zM35 15h1v1h-1zM42 15h3v1h-3zM46 15h1v1h-1zM62 15h1v1h-1zM66 15h3v1h-3zM70 15h1v1h-1zM92 15h1v1h-1zM108 15h1v1h-1zM110 15h1v1h-1zM29 16h2v1h-2zM34 16h1v1h-1zM40 16h1v1h-1zM55 16h1v1h-1zM107 16h1v1h-1zM111 16h1v1h-1zM30 17h1v1h-1zM33 17h1v1h-1zM54 17h1v1h-1zM87 17h1v1h-1zM113 17h1v1h-1zM32 18h2v1h-2zM93 18h1v1h-1zM31 19h1v1h-1zM85 19h1v1h-1zM111 19h1v1h-1zM59 20h1v1h-1zM84 20h2v1h-2zM105 20h1v1h-1zM69 21h1v1h-1zM75 21h1v1h-1zM83 21h2v1h-2zM38 22h2v1h-2zM53 22h1v1h-1zM63 22h1v1h-1zM67 22h2v1h-2zM70 22h5v1h-5zM79 22h1v1h-1zM89 22h1v1h-1zM110 22h1v1h-1zM37 23h1v1h-1zM40 23h1v1h-1zM53 23h1v1h-1zM57 23h1v1h-1zM61 23h2v1h-2zM77 23h1v1h-1zM89 23h1v1h-1zM104 23h2v1h-2zM109 23h1v1h-1zM37 24h1v1h-1zM57 24h1v1h-1zM66 24h1v1h-1zM2 25h1v1h-1zM20 25h1v1h-1zM37 25h1v1h-1zM51 25h1v1h-1zM54 25h1v1h-1zM56 25h1v1h-1zM76 25h1v1h-1zM87 25h1v1h-1zM103 25h2v1h-2zM2 26h1v1h-1zM18 26h2v1h-2zM21 26h1v1h-1zM24 26h1v1h-1zM52 26h2v1h-2zM55 26h1v1h-1zM76 26h1v1h-1zM102 26h1v1h-1zM106 26h2v1h-2zM3 27h1v1h-1zM19 27h1v1h-1zM53 27h1v1h-1zM101 27h1v1h-1zM106 27h2v1h-2zM0 28h2v1h-2zM3 28h1v1h-1zM25 28h2v1h-2zM38 28h1v1h-1zM66 28h1v1h-1zM101 28h2v1h-2zM106 28h1v1h-1zM0 29h2v1h-2zM18 29h1v1h-1zM25 29h1v1h-1zM55 29h1v1h-1zM100 29h1v1h-1zM104 29h2v1h-2zM19 30h1v1h-1zM86 30h1v1h-1zM99 30h1v1h-1zM104 30h2v1h-2zM19 31h1v1h-1zM87 31h1v1h-1zM23 32h2v1h-2zM66 32h2v1h-2zM86 32h1v1h-1zM104 32h1v1h-1zM20 33h1v1h-1zM68 33h1v1h-1zM75 33h1v1h-1zM85 33h2v1h-2zM98 33h1v1h-1zM21 34h3v1h-3zM69 34h3v1h-3zM85 34h2v1h-2zM96 34h2v1h-2zM103 34h2v1h-2zM21 35h1v1h-1zM85 35h1v1h-1zM95 35h1v1h-1zM103 35h1v1h-1z"/><path fill="#60ca60" d="M78 0h1v1h-1zM91 0h1v1h-1zM94 0h3v1h-3zM111 0h1v1h-1zM78 1h1v1h-1zM91 1h1v1h-1zM94 1h3v1h-3zM111 1h1v1h-1zM56 2h1v1h-1zM58 2h1v1h-1zM61 2h4v1h-4zM66 2h5v1h-5zM72 2h1v1h-1zM79 2h1v1h-1zM100 2h1v1h-1zM102 2h1v1h-1zM104 2h4v1h-4zM7 3h1v1h-1zM11 3h1v1h-1zM13 3h1v1h-1zM16 3h2v1h-2zM25 3h2v1h-2zM29 3h1v1h-1zM31 3h1v1h-1zM0 4h2v1h-2zM10 4h1v1h-1zM23 4h2v1h-2zM26 4h1v1h-1zM30 4h2v1h-2zM0 5h2v1h-2zM3 5h3v1h-3zM7 5h1v1h-1zM11 5h1v1h-1zM14 5h2v1h-2zM23 5h1v1h-1zM29 5h2v1h-2zM8 6h1v1h-1zM12 6h2v1h-2zM23 6h1v1h-1zM28 6h1v1h-1zM30 6h1v1h-1zM0 7h2v1h-2zM5 7h1v1h-1zM8 7h1v1h-1zM12 7h1v1h-1zM21 7h1v1h-1zM26 7h1v1h-1zM28 7h1v1h-1zM31 7h2v1h-2zM45 7h1v1h-1zM6 8h1v1h-1zM12 8h1v1h-1zM23 8h1v1h-1zM25 8h2v1h-2zM37 8h1v1h-1zM6 9h1v1h-1zM8 9h1v1h-1zM11 9h1v1h-1zM19 9h2v1h-2zM26 9h1v1h-1zM6 10h1v1h-1zM9 10h2v1h-2zM19 10h1v1h-1zM25 10h1v1h-1zM28 10h1v1h-1zM2 11h1v1h-1zM9 11h1v1h-1zM26 11h1v1h-1zM3 12h3v1h-3zM8 12h1v1h-1zM13 12h1v1h-1zM16 12h1v1h-1zM19 12h1v1h-1zM21 12h2v1h-2zM25 12h1v1h-1zM29 12h1v1h-1zM34 12h1v1h-1zM8 13h1v1h-1zM13 13h1v1h-1zM29 13h3v1h-3zM3 14h1v1h-1zM8 14h1v1h-1zM13 14h1v1h-1zM28 14h1v1h-1zM47 14h1v1h-1zM49 14h3v1h-3zM2 15h1v1h-1zM12 15h2v1h-2zM26 15h2v1h-2zM34 15h1v1h-1zM37 15h1v1h-1zM39 15h3v1h-3zM45 15h1v1h-1zM47 15h7v1h-7zM63 15h2v1h-2zM72 15h3v1h-3zM89 15h1v1h-1zM109 15h1v1h-1zM2 16h1v1h-1zM9 16h5v1h-5zM26 16h1v1h-1zM35 16h2v1h-2zM38 16h1v1h-1zM42 16h2v1h-2zM45 16h1v1h-1zM47 16h1v1h-1zM51 16h3v1h-3zM62 16h10v1h-10zM74 16h2v1h-2zM88 16h1v1h-1zM92 16h1v1h-1zM108 16h2v1h-2zM3 17h1v1h-1zM7 17h3v1h-3zM11 17h1v1h-1zM25 17h2v1h-2zM28 17h2v1h-2zM34 17h2v1h-2zM38 17h1v1h-1zM40 17h1v1h-1zM63 17h1v1h-1zM70 17h1v1h-1zM75 17h1v1h-1zM107 17h2v1h-2zM0 18h2v1h-2zM5 18h2v1h-2zM8 18h1v1h-1zM30 18h1v1h-1zM54 18h1v1h-1zM63 18h2v1h-2zM106 18h1v1h-1zM108 18h1v1h-1zM111 18h1v1h-1zM3 19h2v1h-2zM8 19h1v1h-1zM25 19h1v1h-1zM34 19h1v1h-1zM64 19h1v1h-1zM75 19h1v1h-1zM91 19h1v1h-1zM106 19h1v1h-1zM3 20h1v1h-1zM7 20h1v1h-1zM9 20h1v1h-1zM23 20h2v1h-2zM33 20h2v1h-2zM37 20h1v1h-1zM53 20h1v1h-1zM64 20h1v1h-1zM75 20h1v1h-1zM90 20h1v1h-1zM110 20h1v1h-1zM8 21h2v1h-2zM21 21h1v1h-1zM33 21h1v1h-1zM38 21h1v1h-1zM70 21h1v1h-1zM89 21h1v1h-1zM105 21h1v1h-1zM0 22h3v1h-3zM7 22h1v1h-1zM21 22h1v1h-1zM36 22h2v1h-2zM40 22h1v1h-1zM58 22h2v1h-2zM80 22h3v1h-3zM84 22h1v1h-1zM105 22h1v1h-1zM3 23h1v1h-1zM6 23h2v1h-2zM21 23h1v1h-1zM52 23h1v1h-1zM58 23h1v1h-1zM60 23h1v1h-1zM63 23h4v1h-4zM78 23h1v1h-1zM2 24h2v1h-2zM7 24h1v1h-1zM21 24h1v1h-1zM41 24h1v1h-1zM56 24h1v1h-1zM59 24h2v1h-2zM62 24h1v1h-1zM65 24h1v1h-1zM77 24h1v1h-1zM87 24h2v1h-2zM104 24h1v1h-1zM108 24h1v1h-1zM3 25h1v1h-1zM5 25h2v1h-2zM17 25h3v1h-3zM21 25h3v1h-3zM41 25h1v1h-1zM57 25h1v1h-1zM60 25h1v1h-1zM107 25h1v1h-1zM17 26h1v1h-1zM20 26h1v1h-1zM37 26h1v1h-1zM41 26h1v1h-1zM51 26h1v1h-1zM57 26h2v1h-2zM87 26h1v1h-1zM103 26h3v1h-3zM16 27h3v1h-3zM25 27h1v1h-1zM54 27h1v1h-1zM57 27h2v1h-2zM76 27h1v1h-1zM86 27h1v1h-1zM102 27h1v1h-1zM104 27h1v1h-1zM4 28h1v1h-1zM14 28h1v1h-1zM16 28h3v1h-3zM33 28h1v1h-1zM35 28h1v1h-1zM37 28h1v1h-1zM57 28h1v1h-1zM60 28h1v1h-1zM64 28h1v1h-1zM86 28h1v1h-1zM103 28h1v1h-1zM105 28h1v1h-1zM2 29h2v1h-2zM26 29h2v1h-2zM31 29h1v1h-1zM34 29h1v1h-1zM38 29h2v1h-2zM54 29h1v1h-1zM56 29h1v1h-1zM62 29h1v1h-1zM65 29h1v1h-1zM85 29h1v1h-1zM101 29h1v1h-1zM0 30h2v1h-2zM57 30h1v1h-1zM62 30h1v1h-1zM64 30h1v1h-1zM100 30h1v1h-1zM61 31h2v1h-2zM66 31h1v1h-1zM85 31h2v1h-2zM99 31h1v1h-1zM104 31h1v1h-1zM19 32h1v1h-1zM85 32h1v1h-1zM103 32h1v1h-1zM66 33h2v1h-2zM99 33h1v1h-1zM65 34h1v1h-1zM67 34h2v1h-2zM75 34h1v1h-1zM98 34h1v1h-1zM20 35h1v1h-1zM22 35h2v1h-2zM66 35h1v1h-1zM68 35h7v1h-7zM96 35h1v1h-1zM100 35h1v1h-1zM21 36h2v1h-2zM66 36h3v1h-3zM71 36h1v1h-1zM94 36h2v1h-2zM102 36h1v1h-1zM21 37h2v1h-2zM66 37h3v1h-3zM71 37h1v1h-1zM94 37h2v1h-2zM102 37h1v1h-1z"/><path fill="#6ccd5a" d="M0 0h2v1h-2zM74 0h1v1h-1zM76 0h2v1h-2zM79 0h1v1h-1zM81 0h7v1h-7zM90 0h1v1h-1zM92 0h1v1h-1zM97 0h1v1h-1zM109 0h1v1h-1zM0 1h2v1h-2zM74 1h1v1h-1zM76 1h2v1h-2zM79 1h1v1h-1zM81 1h7v1h-7zM90 1h1v1h-1zM92 1h1v1h-1zM97 1h1v1h-1zM109 1h1v1h-1zM0 2h2v1h-2zM22 2h1v1h-1zM50 2h1v1h-1zM53 2h3v1h-3zM57 2h1v1h-1zM59 2h2v1h-2zM65 2h1v1h-1zM76 2h1v1h-1zM101 2h1v1h-1zM103 2h1v1h-1zM0 3h7v1h-7zM8 3h3v1h-3zM14 3h2v1h-2zM24 3h1v1h-1zM28 3h1v1h-1zM30 3h1v1h-1zM2 4h1v1h-1zM4 4h3v1h-3zM8 4h2v1h-2zM11 4h2v1h-2zM15 4h2v1h-2zM25 4h1v1h-1zM27 4h2v1h-2zM8 5h3v1h-3zM12 5h1v1h-1zM26 5h2v1h-2zM0 6h3v1h-3zM5 6h2v1h-2zM9 6h1v1h-1zM11 6h1v1h-1zM24 6h1v1h-1zM26 6h2v1h-2zM29 6h1v1h-1zM2 7h1v1h-1zM4 7h1v1h-1zM6 7h2v1h-2zM11 7h1v1h-1zM22 7h4v1h-4zM27 7h1v1h-1zM29 7h1v1h-1zM0 8h5v1h-5zM7 8h2v1h-2zM20 8h3v1h-3zM27 8h2v1h-2zM30 8h1v1h-1zM0 9h5v1h-5zM9 9h2v1h-2zM22 9h4v1h-4zM27 9h1v1h-1zM30 9h1v1h-1zM2 10h4v1h-4zM7 10h2v1h-2zM20 10h4v1h-4zM26 10h2v1h-2zM29 10h1v1h-1zM0 11h2v1h-2zM3 11h1v1h-1zM5 11h1v1h-1zM8 11h1v1h-1zM20 11h5v1h-5zM27 11h1v1h-1zM30 11h2v1h-2zM0 12h3v1h-3zM7 12h1v1h-1zM15 12h1v1h-1zM20 12h1v1h-1zM23 12h1v1h-1zM26 12h2v1h-2zM0 13h2v1h-2zM6 13h2v1h-2zM18 13h1v1h-1zM21 13h8v1h-8zM0 14h3v1h-3zM4 14h1v1h-1zM6 14h1v1h-1zM14 14h1v1h-1zM23 14h1v1h-1zM26 14h1v1h-1zM0 15h2v1h-2zM3 15h2v1h-2zM7 15h2v1h-2zM23 15h1v1h-1zM25 15h1v1h-1zM28 15h1v1h-1zM36 15h1v1h-1zM38 15h1v1h-1zM90 15h2v1h-2zM0 16h2v1h-2zM7 16h2v1h-2zM23 16h3v1h-3zM27 16h2v1h-2zM37 16h1v1h-1zM39 16h1v1h-1zM41 16h1v1h-1zM44 16h1v1h-1zM46 16h1v1h-1zM48 16h3v1h-3zM72 16h1v1h-1zM110 16h1v1h-1zM0 17h3v1h-3zM4 17h3v1h-3zM12 17h1v1h-1zM23 17h2v1h-2zM27 17h1v1h-1zM37 17h1v1h-1zM41 17h5v1h-5zM47 17h2v1h-2zM53 17h1v1h-1zM64 17h2v1h-2zM68 17h2v1h-2zM71 17h1v1h-1zM73 17h1v1h-1zM92 17h1v1h-1zM111 17h1v1h-1zM2 18h3v1h-3zM7 18h1v1h-1zM9 18h4v1h-4zM23 18h4v1h-4zM28 18h2v1h-2zM34 18h3v1h-3zM38 18h1v1h-1zM44 18h1v1h-1zM53 18h1v1h-1zM66 18h1v1h-1zM70 18h2v1h-2zM75 18h1v1h-1zM87 18h1v1h-1zM91 18h2v1h-2zM107 18h1v1h-1zM110 18h1v1h-1zM0 19h3v1h-3zM5 19h3v1h-3zM9 19h3v1h-3zM22 19h2v1h-2zM30 19h1v1h-1zM32 19h2v1h-2zM35 19h2v1h-2zM53 19h1v1h-1zM86 19h1v1h-1zM90 19h1v1h-1zM107 19h1v1h-1zM109 19h2v1h-2zM0 20h3v1h-3zM4 20h3v1h-3zM10 20h2v1h-2zM20 20h3v1h-3zM32 20h1v1h-1zM35 20h2v1h-2zM38 20h3v1h-3zM68 20h4v1h-4zM106 20h2v1h-2zM109 20h1v1h-1zM0 21h4v1h-4zM5 21h3v1h-3zM20 21h1v1h-1zM22 21h1v1h-1zM34 21h1v1h-1zM36 21h2v1h-2zM39 21h1v1h-1zM53 21h1v1h-1zM64 21h1v1h-1zM66 21h3v1h-3zM71 21h4v1h-4zM85 21h1v1h-1zM106 21h2v1h-2zM109 21h1v1h-1zM3 22h2v1h-2zM6 22h1v1h-1zM8 22h2v1h-2zM19 22h1v1h-1zM22 22h1v1h-1zM41 22h1v1h-1zM52 22h1v1h-1zM64 22h3v1h-3zM83 22h1v1h-1zM88 22h1v1h-1zM108 22h2v1h-2zM2 23h1v1h-1zM8 23h1v1h-1zM20 23h1v1h-1zM23 23h1v1h-1zM36 23h1v1h-1zM41 23h1v1h-1zM51 23h1v1h-1zM59 23h1v1h-1zM88 23h1v1h-1zM106 23h1v1h-1zM108 23h1v1h-1zM4 24h3v1h-3zM8 24h1v1h-1zM17 24h3v1h-3zM22 24h2v1h-2zM36 24h1v1h-1zM51 24h1v1h-1zM58 24h1v1h-1zM61 24h1v1h-1zM63 24h1v1h-1zM105 24h3v1h-3zM4 25h1v1h-1zM25 25h1v1h-1zM36 25h1v1h-1zM58 25h1v1h-1zM63 25h1v1h-1zM65 25h1v1h-1zM86 25h1v1h-1zM105 25h2v1h-2zM4 26h2v1h-2zM16 26h1v1h-1zM25 26h1v1h-1zM36 26h1v1h-1zM59 26h1v1h-1zM62 26h1v1h-1zM64 26h2v1h-2zM86 26h1v1h-1zM4 27h1v1h-1zM14 27h2v1h-2zM26 27h1v1h-1zM28 27h3v1h-3zM36 27h1v1h-1zM41 27h1v1h-1zM52 27h1v1h-1zM59 27h1v1h-1zM62 27h4v1h-4zM103 27h1v1h-1zM105 27h1v1h-1zM15 28h1v1h-1zM27 28h1v1h-1zM29 28h4v1h-4zM34 28h1v1h-1zM36 28h1v1h-1zM54 28h1v1h-1zM58 28h2v1h-2zM62 28h2v1h-2zM65 28h1v1h-1zM104 28h1v1h-1zM4 29h1v1h-1zM15 29h1v1h-1zM32 29h1v1h-1zM37 29h1v1h-1zM40 29h2v1h-2zM57 29h2v1h-2zM60 29h2v1h-2zM63 29h2v1h-2zM102 29h1v1h-1zM2 30h1v1h-1zM18 30h1v1h-1zM25 30h2v1h-2zM30 30h1v1h-1zM37 30h2v1h-2zM53 30h3v1h-3zM60 30h2v1h-2zM63 30h1v1h-1zM65 30h1v1h-1zM85 30h1v1h-1zM103 30h1v1h-1zM18 31h1v1h-1zM25 31h1v1h-1zM60 31h1v1h-1zM63 31h3v1h-3zM100 31h1v1h-1zM103 31h1v1h-1zM61 32h1v1h-1zM63 32h1v1h-1zM65 32h1v1h-1zM84 32h1v1h-1zM99 32h3v1h-3zM24 33h1v1h-1zM62 33h1v1h-1zM64 33h2v1h-2zM76 33h1v1h-1zM84 33h1v1h-1zM100 33h1v1h-1zM103 33h1v1h-1zM20 34h1v1h-1zM24 34h1v1h-1zM63 34h2v1h-2zM66 34h1v1h-1zM84 34h1v1h-1zM99 34h4v1h-4zM24 35h1v1h-1zM64 35h2v1h-2zM67 35h1v1h-1zM75 35h1v1h-1zM97 35h3v1h-3zM101 35h1v1h-1zM23 36h2v1h-2zM64 36h1v1h-1zM70 36h1v1h-1zM72 36h3v1h-3zM84 36h1v1h-1zM96 36h1v1h-1zM98 36h4v1h-4zM23 37h2v1h-2zM64 37h1v1h-1zM70 37h1v1h-1zM72 37h3v1h-3zM84 37h1v1h-1zM96 37h1v1h-1zM98 37h4v1h-4z"/><path fill="#77d153" d="M2 0h1v1h-1zM73 0h1v1h-1zM75 0h1v1h-1zM80 0h1v1h-1zM88 0h2v1h-2zM93 0h1v1h-1zM108 0h1v1h-1zM2 1h1v1h-1zM73 1h1v1h-1zM75 1h1v1h-1zM80 1h1v1h-1zM88 1h2v1h-2zM93 1h1v1h-1zM108 1h1v1h-1zM2 2h1v1h-1zM19 2h2v1h-2zM23 2h1v1h-1zM38 2h2v1h-2zM43 2h1v1h-1zM46 2h2v1h-2zM49 2h1v1h-1zM52 2h1v1h-1zM12 3h1v1h-1zM27 3h1v1h-1zM3 4h1v1h-1zM7 4h1v1h-1zM13 4h2v1h-2zM29 4h1v1h-1zM2 5h1v1h-1zM6 5h1v1h-1zM13 5h1v1h-1zM24 5h1v1h-1zM28 5h1v1h-1zM4 6h1v1h-1zM7 6h1v1h-1zM10 6h1v1h-1zM25 6h1v1h-1zM3 7h1v1h-1zM9 7h2v1h-2zM5 8h1v1h-1zM9 8h3v1h-3zM24 8h1v1h-1zM29 8h1v1h-1zM7 9h1v1h-1zM28 9h2v1h-2zM0 10h2v1h-2zM24 10h1v1h-1zM30 10h1v1h-1zM4 11h1v1h-1zM6 11h2v1h-2zM25 11h1v1h-1zM28 11h2v1h-2zM6 12h1v1h-1zM24 12h1v1h-1zM30 12h1v1h-1zM2 13h2v1h-2zM5 13h1v1h-1zM14 13h4v1h-4zM19 13h2v1h-2zM5 14h1v1h-1zM7 14h1v1h-1zM15 14h2v1h-2zM21 14h2v1h-2zM24 14h2v1h-2zM27 14h1v1h-1zM5 15h2v1h-2zM14 15h1v1h-1zM24 15h1v1h-1zM3 16h4v1h-4zM14 16h1v1h-1zM89 16h1v1h-1zM91 16h1v1h-1zM10 17h1v1h-1zM13 17h2v1h-2zM36 17h1v1h-1zM39 17h1v1h-1zM46 17h1v1h-1zM49 17h3v1h-3zM66 17h2v1h-2zM72 17h1v1h-1zM74 17h1v1h-1zM110 17h1v1h-1zM13 18h2v1h-2zM27 18h1v1h-1zM37 18h1v1h-1zM39 18h5v1h-5zM45 18h3v1h-3zM51 18h2v1h-2zM65 18h1v1h-1zM67 18h3v1h-3zM89 18h2v1h-2zM109 18h1v1h-1zM12 19h1v1h-1zM21 19h1v1h-1zM24 19h1v1h-1zM27 19h2v1h-2zM37 19h1v1h-1zM39 19h2v1h-2zM65 19h5v1h-5zM71 19h1v1h-1zM73 19h1v1h-1zM88 19h2v1h-2zM8 20h1v1h-1zM25 20h1v1h-1zM30 20h2v1h-2zM65 20h3v1h-3zM72 20h3v1h-3zM86 20h2v1h-2zM89 20h1v1h-1zM108 20h1v1h-1zM4 21h1v1h-1zM10 21h2v1h-2zM23 21h2v1h-2zM35 21h1v1h-1zM40 21h2v1h-2zM65 21h1v1h-1zM88 21h1v1h-1zM5 22h1v1h-1zM10 22h1v1h-1zM18 22h1v1h-1zM20 22h1v1h-1zM24 22h1v1h-1zM33 22h1v1h-1zM35 22h1v1h-1zM51 22h1v1h-1zM85 22h1v1h-1zM106 22h2v1h-2zM4 23h2v1h-2zM9 23h1v1h-1zM18 23h2v1h-2zM22 23h1v1h-1zM25 23h1v1h-1zM34 23h2v1h-2zM50 23h1v1h-1zM79 23h2v1h-2zM84 23h2v1h-2zM107 23h1v1h-1zM20 24h1v1h-1zM24 24h1v1h-1zM50 24h1v1h-1zM84 24h2v1h-2zM7 25h1v1h-1zM16 25h1v1h-1zM24 25h1v1h-1zM26 25h1v1h-1zM32 25h1v1h-1zM42 25h1v1h-1zM49 25h2v1h-2zM59 25h1v1h-1zM61 25h1v1h-1zM64 25h1v1h-1zM77 25h1v1h-1zM85 25h1v1h-1zM6 26h2v1h-2zM15 26h1v1h-1zM26 26h1v1h-1zM28 26h1v1h-1zM31 26h1v1h-1zM33 26h3v1h-3zM47 26h1v1h-1zM50 26h1v1h-1zM60 26h2v1h-2zM85 26h1v1h-1zM5 27h1v1h-1zM27 27h1v1h-1zM31 27h4v1h-4zM47 27h1v1h-1zM60 27h2v1h-2zM85 27h1v1h-1zM5 28h1v1h-1zM13 28h1v1h-1zM28 28h1v1h-1zM41 28h2v1h-2zM53 28h1v1h-1zM76 28h1v1h-1zM85 28h1v1h-1zM13 29h2v1h-2zM16 29h2v1h-2zM28 29h3v1h-3zM33 29h1v1h-1zM35 29h2v1h-2zM48 29h1v1h-1zM59 29h1v1h-1zM76 29h1v1h-1zM84 29h1v1h-1zM103 29h1v1h-1zM3 30h1v1h-1zM27 30h1v1h-1zM29 30h1v1h-1zM32 30h5v1h-5zM39 30h2v1h-2zM56 30h1v1h-1zM58 30h1v1h-1zM76 30h1v1h-1zM84 30h1v1h-1zM101 30h2v1h-2zM0 31h3v1h-3zM29 31h3v1h-3zM33 31h3v1h-3zM37 31h2v1h-2zM47 31h1v1h-1zM55 31h2v1h-2zM59 31h1v1h-1zM83 31h1v1h-1zM101 31h2v1h-2zM54 32h1v1h-1zM58 32h3v1h-3zM62 32h1v1h-1zM64 32h1v1h-1zM76 32h1v1h-1zM83 32h1v1h-1zM102 32h1v1h-1zM60 33h2v1h-2zM63 33h1v1h-1zM83 33h1v1h-1zM101 33h2v1h-2zM25 34h1v1h-1zM47 34h1v1h-1zM49 34h1v1h-1zM62 34h1v1h-1zM76 34h1v1h-1zM82 34h2v1h-2zM25 35h1v1h-1zM62 35h2v1h-2zM76 35h1v1h-1zM83 35h2v1h-2zM20 36h1v1h-1zM47 36h1v1h-1zM51 36h1v1h-1zM63 36h1v1h-1zM65 36h1v1h-1zM69 36h1v1h-1zM75 36h1v1h-1zM83 36h1v1h-1zM97 36h1v1h-1zM20 37h1v1h-1zM47 37h1v1h-1zM51 37h1v1h-1zM63 37h1v1h-1zM65 37h1v1h-1zM69 37h1v1h-1zM75 37h1v1h-1zM83 37h1v1h-1zM97 37h1v1h-1z"/><path fill="#86d549" d="M61 0h3v1h-3zM65 0h1v1h-1zM71 0h2v1h-2zM98 0h3v1h-3zM104 0h2v1h-2zM61 1h3v1h-3zM65 1h1v1h-1zM71 1h2v1h-2zM98 1h3v1h-3zM104 1h2v1h-2zM16 2h1v1h-1zM21 2h1v1h-1zM24 2h2v1h-2zM29 2h1v1h-1zM31 2h7v1h-7zM40 2h2v1h-2zM44 2h2v1h-2zM48 2h1v1h-1zM51 2h1v1h-1zM25 5h1v1h-1zM3 6h1v1h-1zM21 9h1v1h-1zM28 12h1v1h-1zM4 13h1v1h-1zM17 14h3v1h-3zM15 15h2v1h-2zM15 16h1v1h-1zM73 16h1v1h-1zM90 16h1v1h-1zM22 17h1v1h-1zM52 17h1v1h-1zM88 17h2v1h-2zM91 17h1v1h-1zM109 17h1v1h-1zM22 18h1v1h-1zM48 18h3v1h-3zM72 18h3v1h-3zM88 18h1v1h-1zM13 19h1v1h-1zM26 19h1v1h-1zM29 19h1v1h-1zM38 19h1v1h-1zM41 19h3v1h-3zM45 19h4v1h-4zM52 19h1v1h-1zM70 19h1v1h-1zM72 19h1v1h-1zM74 19h1v1h-1zM87 19h1v1h-1zM108 19h1v1h-1zM12 20h1v1h-1zM26 20h1v1h-1zM29 20h1v1h-1zM41 20h2v1h-2zM45 20h2v1h-2zM48 20h2v1h-2zM52 20h1v1h-1zM88 20h1v1h-1zM19 21h1v1h-1zM25 21h1v1h-1zM31 21h2v1h-2zM42 21h1v1h-1zM45 21h1v1h-1zM52 21h1v1h-1zM87 21h1v1h-1zM108 21h1v1h-1zM11 22h1v1h-1zM23 22h1v1h-1zM25 22h2v1h-2zM31 22h1v1h-1zM34 22h1v1h-1zM47 22h1v1h-1zM49 22h1v1h-1zM86 22h1v1h-1zM17 23h1v1h-1zM24 23h1v1h-1zM33 23h1v1h-1zM42 23h2v1h-2zM47 23h1v1h-1zM81 23h3v1h-3zM86 23h2v1h-2zM25 24h2v1h-2zM29 24h1v1h-1zM35 24h1v1h-1zM45 24h1v1h-1zM64 24h1v1h-1zM78 24h1v1h-1zM86 24h1v1h-1zM8 25h1v1h-1zM15 25h1v1h-1zM27 25h2v1h-2zM30 25h2v1h-2zM35 25h1v1h-1zM45 25h2v1h-2zM48 25h1v1h-1zM62 25h1v1h-1zM27 26h1v1h-1zM29 26h2v1h-2zM32 26h1v1h-1zM42 26h1v1h-1zM46 26h1v1h-1zM49 26h1v1h-1zM63 26h1v1h-1zM6 27h1v1h-1zM13 27h1v1h-1zM42 27h1v1h-1zM49 27h2v1h-2zM77 27h1v1h-1zM6 28h1v1h-1zM12 28h1v1h-1zM47 28h2v1h-2zM52 28h1v1h-1zM61 28h1v1h-1zM84 28h1v1h-1zM5 29h1v1h-1zM42 29h1v1h-1zM46 29h2v1h-2zM52 29h2v1h-2zM83 29h1v1h-1zM4 30h1v1h-1zM28 30h1v1h-1zM31 30h1v1h-1zM46 30h3v1h-3zM59 30h1v1h-1zM83 30h1v1h-1zM26 31h1v1h-1zM28 31h1v1h-1zM32 31h1v1h-1zM36 31h1v1h-1zM39 31h1v1h-1zM46 31h1v1h-1zM48 31h2v1h-2zM52 31h1v1h-1zM54 31h1v1h-1zM57 31h1v1h-1zM76 31h1v1h-1zM84 31h1v1h-1zM18 32h1v1h-1zM25 32h2v1h-2zM29 32h1v1h-1zM31 32h1v1h-1zM33 32h1v1h-1zM35 32h2v1h-2zM47 32h1v1h-1zM49 32h1v1h-1zM51 32h2v1h-2zM57 32h1v1h-1zM82 32h1v1h-1zM19 33h1v1h-1zM25 33h1v1h-1zM45 33h3v1h-3zM50 33h1v1h-1zM53 33h1v1h-1zM82 33h1v1h-1zM19 34h1v1h-1zM45 34h2v1h-2zM48 34h1v1h-1zM51 34h1v1h-1zM53 34h1v1h-1zM55 34h1v1h-1zM61 34h1v1h-1zM19 35h1v1h-1zM26 35h1v1h-1zM46 35h3v1h-3zM51 35h2v1h-2zM54 35h2v1h-2zM58 35h1v1h-1zM61 35h1v1h-1zM77 35h1v1h-1zM82 35h1v1h-1zM19 36h1v1h-1zM25 36h1v1h-1zM52 36h2v1h-2zM55 36h3v1h-3zM59 36h1v1h-1zM61 36h1v1h-1zM76 36h1v1h-1zM78 36h2v1h-2zM82 36h1v1h-1zM19 37h1v1h-1zM25 37h1v1h-1zM52 37h2v1h-2zM55 37h3v1h-3zM59 37h1v1h-1zM61 37h1v1h-1zM76 37h1v1h-1zM78 37h2v1h-2zM82 37h1v1h-1z"/><path fill="#93d741" d="M3 0h1v1h-1zM64 0h1v1h-1zM66 0h3v1h-3zM70 0h1v1h-1zM101 0h3v1h-3zM106 0h2v1h-2zM3 1h1v1h-1zM64 1h1v1h-1zM66 1h3v1h-3zM70 1h1v1h-1zM101 1h3v1h-3zM106 1h2v1h-2zM3 2h3v1h-3zM7 2h1v1h-1zM9 2h3v1h-3zM17 2h2v1h-2zM26 2h2v1h-2zM30 2h1v1h-1zM42 2h1v1h-1zM20 14h1v1h-1zM17 15h1v1h-1zM21 15h2v1h-2zM16 16h1v1h-1zM22 16h1v1h-1zM15 17h1v1h-1zM21 17h1v1h-1zM90 17h1v1h-1zM15 18h1v1h-1zM21 18h1v1h-1zM14 19h1v1h-1zM20 19h1v1h-1zM44 19h1v1h-1zM49 19h2v1h-2zM13 20h1v1h-1zM19 20h1v1h-1zM27 20h2v1h-2zM43 20h2v1h-2zM47 20h1v1h-1zM50 20h2v1h-2zM12 21h1v1h-1zM18 21h1v1h-1zM27 21h2v1h-2zM43 21h2v1h-2zM46 21h5v1h-5zM86 21h1v1h-1zM17 22h1v1h-1zM28 22h1v1h-1zM30 22h1v1h-1zM32 22h1v1h-1zM42 22h1v1h-1zM45 22h2v1h-2zM48 22h1v1h-1zM50 22h1v1h-1zM87 22h1v1h-1zM10 23h2v1h-2zM16 23h1v1h-1zM26 23h3v1h-3zM31 23h2v1h-2zM44 23h3v1h-3zM48 23h2v1h-2zM9 24h1v1h-1zM16 24h1v1h-1zM27 24h2v1h-2zM31 24h2v1h-2zM34 24h1v1h-1zM42 24h1v1h-1zM46 24h1v1h-1zM49 24h1v1h-1zM79 24h1v1h-1zM83 24h1v1h-1zM9 25h1v1h-1zM14 25h1v1h-1zM29 25h1v1h-1zM33 25h2v1h-2zM44 25h1v1h-1zM14 26h1v1h-1zM45 26h1v1h-1zM48 26h1v1h-1zM77 26h1v1h-1zM84 26h1v1h-1zM12 27h1v1h-1zM35 27h1v1h-1zM43 27h2v1h-2zM46 27h1v1h-1zM48 27h1v1h-1zM51 27h1v1h-1zM84 27h1v1h-1zM43 28h4v1h-4zM49 28h2v1h-2zM12 29h1v1h-1zM43 29h2v1h-2zM49 29h2v1h-2zM5 30h1v1h-1zM14 30h4v1h-4zM42 30h2v1h-2zM49 30h2v1h-2zM82 30h1v1h-1zM3 31h1v1h-1zM27 31h1v1h-1zM41 31h1v1h-1zM44 31h2v1h-2zM50 31h2v1h-2zM53 31h1v1h-1zM58 31h1v1h-1zM82 31h1v1h-1zM0 32h2v1h-2zM3 32h1v1h-1zM27 32h2v1h-2zM30 32h1v1h-1zM32 32h1v1h-1zM34 32h1v1h-1zM37 32h1v1h-1zM44 32h3v1h-3zM48 32h1v1h-1zM50 32h1v1h-1zM53 32h1v1h-1zM55 32h2v1h-2zM18 33h1v1h-1zM26 33h1v1h-1zM28 33h1v1h-1zM31 33h1v1h-1zM33 33h2v1h-2zM51 33h2v1h-2zM54 33h1v1h-1zM56 33h4v1h-4zM18 34h1v1h-1zM27 34h1v1h-1zM50 34h1v1h-1zM52 34h1v1h-1zM54 34h1v1h-1zM56 34h3v1h-3zM60 34h1v1h-1zM27 35h1v1h-1zM45 35h1v1h-1zM49 35h2v1h-2zM53 35h1v1h-1zM56 35h2v1h-2zM59 35h2v1h-2zM79 35h1v1h-1zM81 35h1v1h-1zM26 36h2v1h-2zM45 36h2v1h-2zM48 36h3v1h-3zM58 36h1v1h-1zM60 36h1v1h-1zM62 36h1v1h-1zM77 36h1v1h-1zM80 36h2v1h-2zM26 37h2v1h-2zM45 37h2v1h-2zM48 37h3v1h-3zM58 37h1v1h-1zM60 37h1v1h-1zM62 37h1v1h-1zM77 37h1v1h-1zM80 37h2v1h-2z"/><path fill="#a0da39" d="M22 0h1v1h-1zM33 0h1v1h-1zM54 0h1v1h-1zM58 0h3v1h-3zM69 0h1v1h-1zM22 1h1v1h-1zM33 1h1v1h-1zM54 1h1v1h-1zM58 1h3v1h-3zM69 1h1v1h-1zM6 2h1v1h-1zM8 2h1v1h-1zM13 2h3v1h-3zM28 2h1v1h-1zM19 15h2v1h-2zM21 16h1v1h-1zM16 17h1v1h-1zM19 18h2v1h-2zM51 19h1v1h-1zM18 20h1v1h-1zM17 21h1v1h-1zM26 21h1v1h-1zM29 21h2v1h-2zM51 21h1v1h-1zM27 22h1v1h-1zM29 22h1v1h-1zM43 22h2v1h-2zM29 23h2v1h-2zM15 24h1v1h-1zM30 24h1v1h-1zM33 24h1v1h-1zM43 24h2v1h-2zM47 24h2v1h-2zM82 24h1v1h-1zM43 25h1v1h-1zM47 25h1v1h-1zM78 25h1v1h-1zM82 25h3v1h-3zM8 26h2v1h-2zM13 26h1v1h-1zM43 26h2v1h-2zM78 26h1v1h-1zM83 26h1v1h-1zM7 27h2v1h-2zM45 27h1v1h-1zM7 28h1v1h-1zM11 28h1v1h-1zM51 28h1v1h-1zM83 28h1v1h-1zM45 29h1v1h-1zM82 29h1v1h-1zM13 30h1v1h-1zM41 30h1v1h-1zM44 30h2v1h-2zM52 30h1v1h-1zM4 31h1v1h-1zM17 31h1v1h-1zM40 31h1v1h-1zM81 31h1v1h-1zM2 32h1v1h-1zM39 32h1v1h-1zM77 32h1v1h-1zM0 33h2v1h-2zM27 33h1v1h-1zM29 33h2v1h-2zM32 33h1v1h-1zM35 33h2v1h-2zM44 33h1v1h-1zM48 33h2v1h-2zM55 33h1v1h-1zM0 34h2v1h-2zM26 34h1v1h-1zM28 34h5v1h-5zM34 34h1v1h-1zM59 34h1v1h-1zM77 34h1v1h-1zM81 34h1v1h-1zM0 35h2v1h-2zM3 35h1v1h-1zM18 35h1v1h-1zM31 35h2v1h-2zM44 35h1v1h-1zM78 35h1v1h-1zM80 35h1v1h-1zM0 36h2v1h-2zM28 36h1v1h-1zM54 36h1v1h-1zM0 37h2v1h-2zM28 37h1v1h-1zM54 37h1v1h-1z"/><path fill="#addc30" d="M4 0h2v1h-2zM7 0h6v1h-6zM15 0h2v1h-2zM18 0h1v1h-1zM20 0h2v1h-2zM23 0h1v1h-1zM25 0h1v1h-1zM27 0h6v1h-6zM35 0h3v1h-3zM39 0h1v1h-1zM42 0h2v1h-2zM46 0h2v1h-2zM53 0h1v1h-1zM56 0h1v1h-1zM4 1h2v1h-2zM7 1h6v1h-6zM15 1h2v1h-2zM18 1h1v1h-1zM20 1h2v1h-2zM23 1h1v1h-1zM25 1h1v1h-1zM27 1h6v1h-6zM35 1h3v1h-3zM39 1h1v1h-1zM42 1h2v1h-2zM46 1h2v1h-2zM53 1h1v1h-1zM56 1h1v1h-1zM12 2h1v1h-1zM18 15h1v1h-1zM17 16h2v1h-2zM20 16h1v1h-1zM16 18h1v1h-1zM15 19h1v1h-1zM19 19h1v1h-1zM12 22h1v1h-1zM16 22h1v1h-1zM12 23h1v1h-1zM15 23h1v1h-1zM10 24h2v1h-2zM13 24h2v1h-2zM80 24h2v1h-2zM10 25h1v1h-1zM79 25h1v1h-1zM11 26h2v1h-2zM9 27h3v1h-3zM82 27h2v1h-2zM10 28h1v1h-1zM81 28h2v1h-2zM6 29h2v1h-2zM10 29h1v1h-1zM51 29h1v1h-1zM77 29h1v1h-1zM80 29h2v1h-2zM11 30h2v1h-2zM51 30h1v1h-1zM77 30h1v1h-1zM5 31h1v1h-1zM13 31h2v1h-2zM16 31h1v1h-1zM42 31h2v1h-2zM77 31h1v1h-1zM4 32h1v1h-1zM17 32h1v1h-1zM38 32h1v1h-1zM40 32h1v1h-1zM42 32h2v1h-2zM81 32h1v1h-1zM2 33h1v1h-1zM37 33h2v1h-2zM43 33h1v1h-1zM77 33h1v1h-1zM80 33h2v1h-2zM2 34h2v1h-2zM5 34h1v1h-1zM33 34h1v1h-1zM35 34h2v1h-2zM44 34h1v1h-1zM78 34h3v1h-3zM2 35h1v1h-1zM28 35h3v1h-3zM33 35h1v1h-1zM35 35h1v1h-1zM29 36h1v1h-1zM31 36h2v1h-2zM44 36h1v1h-1zM29 37h1v1h-1zM31 37h2v1h-2zM44 37h1v1h-1z"/><path fill="#bade28" d="M6 0h1v1h-1zM13 0h2v1h-2zM17 0h1v1h-1zM24 0h1v1h-1zM26 0h1v1h-1zM34 0h1v1h-1zM38 0h1v1h-1zM40 0h2v1h-2zM44 0h2v1h-2zM49 0h4v1h-4zM55 0h1v1h-1zM57 0h1v1h-1zM6 1h1v1h-1zM13 1h2v1h-2zM17 1h1v1h-1zM24 1h1v1h-1zM26 1h1v1h-1zM34 1h1v1h-1zM38 1h1v1h-1zM40 1h2v1h-2zM44 1h2v1h-2zM49 1h4v1h-4zM55 1h1v1h-1zM57 1h1v1h-1zM19 16h1v1h-1zM17 17h1v1h-1zM19 17h2v1h-2zM17 18h2v1h-2zM16 19h1v1h-1zM18 19h1v1h-1zM14 20h1v1h-1zM16 20h2v1h-2zM13 21h1v1h-1zM16 21h1v1h-1zM13 22h3v1h-3zM11 25h3v1h-3zM10 26h1v1h-1zM79 26h4v1h-4zM78 27h4v1h-4zM9 28h1v1h-1zM77 28h4v1h-4zM11 29h1v1h-1zM6 30h1v1h-1zM10 30h1v1h-1zM80 30h2v1h-2zM6 31h1v1h-1zM12 31h1v1h-1zM15 31h1v1h-1zM41 32h1v1h-1zM3 33h2v1h-2zM6 33h1v1h-1zM39 33h2v1h-2zM78 33h1v1h-1zM4 35h1v1h-1zM6 35h1v1h-1zM34 35h1v1h-1zM43 35h1v1h-1zM2 36h3v1h-3zM18 36h1v1h-1zM30 36h1v1h-1zM33 36h2v1h-2zM2 37h3v1h-3zM18 37h1v1h-1zM30 37h1v1h-1zM33 37h2v1h-2z"/><path fill="#cae11f" d="M19 0h1v1h-1zM48 0h1v1h-1zM19 1h1v1h-1zM48 1h1v1h-1zM17 19h1v1h-1zM15 20h1v1h-1zM14 21h2v1h-2zM13 23h2v1h-2zM12 24h1v1h-1zM80 25h2v1h-2zM8 28h1v1h-1zM8 29h2v1h-2zM78 29h2v1h-2zM7 30h3v1h-3zM78 30h2v1h-2zM7 31h1v1h-1zM11 31h1v1h-1zM80 31h1v1h-1zM5 32h2v1h-2zM78 32h3v1h-3zM5 33h1v1h-1zM17 33h1v1h-1zM41 33h2v1h-2zM79 33h1v1h-1zM4 34h1v1h-1zM6 34h2v1h-2zM17 34h1v1h-1zM37 34h2v1h-2zM42 34h2v1h-2zM36 35h4v1h-4zM42 35h1v1h-1zM5 36h3v1h-3zM43 36h1v1h-1zM5 37h3v1h-3zM43 37h1v1h-1z"/><path fill="#d8e219" d="M18 17h1v1h-1zM8 31h2v1h-2zM78 31h2v1h-2zM7 32h1v1h-1zM9 32h1v1h-1zM11 32h1v1h-1zM13 32h4v1h-4zM7 33h4v1h-4zM16 33h1v1h-1zM8 34h1v1h-1zM10 34h1v1h-1zM12 34h3v1h-3zM16 34h1v1h-1zM39 34h2v1h-2zM5 35h1v1h-1zM7 35h1v1h-1zM9 35h1v1h-1zM11 35h3v1h-3zM17 35h1v1h-1zM40 35h2v1h-2zM11 36h2v1h-2zM14 36h1v1h-1zM16 36h2v1h-2zM35 36h3v1h-3zM39 36h2v1h-2zM42 36h1v1h-1zM11 37h2v1h-2zM14 37h1v1h-1zM16 37h2v1h-2zM35 37h3v1h-3zM39 37h2v1h-2zM42 37h1v1h-1z"/><path fill="#e5e419" d="M10 31h1v1h-1zM8 32h1v1h-1zM10 32h1v1h-1zM12 32h1v1h-1zM11 33h5v1h-5zM9 34h1v1h-1zM11 34h1v1h-1zM15 34h1v1h-1zM41 34h1v1h-1zM8 35h1v1h-1zM10 35h1v1h-1zM14 35h3v1h-3zM8 36h3v1h-3zM13 36h1v1h-1zM15 36h1v1h-1zM38 36h1v1h-1zM41 36h1v1h-1zM8 37h3v1h-3zM13 37h1v1h-1zM15 37h1v1h-1zM38 37h1v1h-1zM41 37h1v1h-1z"/></g></g>
<g filter="url(#hb)"><g shape-rendering="crispEdges" transform="translate(104.112,180.606) scale(4.38800,4.39444)"><path fill="#1fa187" d="M114 14h1v1h-1z"/><path fill="#21a685" d="M120 14h1v1h-1z"/><path fill="#25ab82" d="M101 0h1v1h-1zM101 1h1v1h-1zM124 10h1v1h-1zM41 36h1v1h-1zM102 36h1v1h-1zM111 36h1v1h-1zM41 37h1v1h-1zM102 37h1v1h-1zM111 37h1v1h-1z"/><path fill="#2ab07f" d="M114 0h2v1h-2zM114 1h2v1h-2zM113 5h1v1h-1zM125 7h2v1h-2zM124 8h1v1h-1zM118 10h1v1h-1zM92 13h1v1h-1zM109 13h1v1h-1zM121 14h1v1h-1zM84 15h1v1h-1zM91 15h2v1h-2zM71 17h1v1h-1zM101 17h1v1h-1zM115 24h1v1h-1zM115 25h1v1h-1zM104 26h1v1h-1zM104 29h1v1h-1z"/><path fill="#31b57b" d="M100 0h1v1h-1zM102 0h1v1h-1zM121 0h2v1h-2zM100 1h1v1h-1zM102 1h1v1h-1zM121 1h2v1h-2zM114 2h1v1h-1zM116 2h1v1h-1zM113 3h1v1h-1zM123 4h1v1h-1zM107 6h1v1h-1zM114 6h1v1h-1zM117 6h1v1h-1zM16 7h1v1h-1zM117 7h1v1h-1zM125 8h2v1h-2zM79 9h1v1h-1zM122 9h1v1h-1zM124 9h1v1h-1zM111 10h1v1h-1zM116 10h1v1h-1zM82 12h1v1h-1zM115 12h1v1h-1zM108 13h1v1h-1zM84 14h2v1h-2zM115 14h1v1h-1zM119 14h1v1h-1zM114 15h2v1h-2zM119 15h1v1h-1zM91 16h1v1h-1zM82 17h1v1h-1zM83 18h1v1h-1zM87 18h1v1h-1zM82 19h1v1h-1zM109 22h1v1h-1zM40 23h1v1h-1zM104 23h1v1h-1zM115 23h1v1h-1zM103 24h1v1h-1zM104 25h1v1h-1zM101 26h1v1h-1zM113 30h1v1h-1zM113 31h1v1h-1zM113 33h1v1h-1zM41 35h1v1h-1zM103 35h1v1h-1zM97 36h1v1h-1zM103 36h1v1h-1zM117 36h1v1h-1zM97 37h1v1h-1zM103 37h1v1h-1zM117 37h1v1h-1z"/><path fill="#38b977" d="M28 0h3v1h-3zM94 0h1v1h-1zM98 0h2v1h-2zM112 0h1v1h-1zM28 1h3v1h-3zM94 1h1v1h-1zM98 1h2v1h-2zM112 1h1v1h-1zM3 2h1v1h-1zM38 2h1v1h-1zM82 2h1v1h-1zM111 2h1v1h-1zM121 2h2v1h-2zM124 2h1v1h-1zM37 3h1v1h-1zM114 3h1v1h-1zM120 3h2v1h-2zM123 3h4v1h-4zM20 4h1v1h-1zM112 4h2v1h-2zM115 4h1v1h-1zM119 4h2v1h-2zM124 4h1v1h-1zM117 5h2v1h-2zM49 6h1v1h-1zM109 6h1v1h-1zM16 8h1v1h-1zM110 8h1v1h-1zM109 9h1v1h-1zM117 9h1v1h-1zM123 9h1v1h-1zM53 10h1v1h-1zM110 10h1v1h-1zM55 11h1v1h-1zM76 11h1v1h-1zM106 11h1v1h-1zM124 11h1v1h-1zM83 12h1v1h-1zM117 12h1v1h-1zM120 12h1v1h-1zM122 12h1v1h-1zM16 13h1v1h-1zM83 13h1v1h-1zM94 13h2v1h-2zM102 13h1v1h-1zM115 13h1v1h-1zM122 13h1v1h-1zM45 14h1v1h-1zM48 14h1v1h-1zM82 14h2v1h-2zM91 14h1v1h-1zM48 15h1v1h-1zM93 15h1v1h-1zM120 15h1v1h-1zM62 16h1v1h-1zM81 16h1v1h-1zM85 16h1v1h-1zM92 16h1v1h-1zM96 16h1v1h-1zM101 16h2v1h-2zM115 16h1v1h-1zM83 17h1v1h-1zM103 17h1v1h-1zM85 18h2v1h-2zM103 18h1v1h-1zM29 19h1v1h-1zM84 19h1v1h-1zM116 19h1v1h-1zM118 19h1v1h-1zM117 20h1v1h-1zM30 21h1v1h-1zM84 21h1v1h-1zM98 21h1v1h-1zM124 22h3v1h-3zM114 23h1v1h-1zM120 23h2v1h-2zM104 24h1v1h-1zM114 24h1v1h-1zM100 26h1v1h-1zM121 26h1v1h-1zM101 27h1v1h-1zM103 27h2v1h-2zM121 27h1v1h-1zM102 28h1v1h-1zM103 29h1v1h-1zM119 30h1v1h-1zM122 30h1v1h-1zM22 31h1v1h-1zM65 31h1v1h-1zM67 31h1v1h-1zM112 31h1v1h-1zM21 32h2v1h-2zM110 32h1v1h-1zM112 32h1v1h-1zM114 32h1v1h-1zM104 34h1v1h-1zM114 34h1v1h-1zM118 35h1v1h-1zM42 36h2v1h-2zM67 36h1v1h-1zM100 36h2v1h-2zM115 36h1v1h-1zM118 36h1v1h-1zM42 37h2v1h-2zM67 37h1v1h-1zM100 37h2v1h-2zM115 37h1v1h-1zM118 37h1v1h-1z"/><path fill="#40bd72" d="M113 0h1v1h-1zM120 0h1v1h-1zM113 1h1v1h-1zM120 1h1v1h-1zM19 2h1v1h-1zM102 2h2v1h-2zM115 2h1v1h-1zM35 3h1v1h-1zM82 3h1v1h-1zM112 3h1v1h-1zM34 4h1v1h-1zM47 4h1v1h-1zM114 4h1v1h-1zM116 4h1v1h-1zM83 5h1v1h-1zM93 5h2v1h-2zM107 5h1v1h-1zM116 5h1v1h-1zM122 5h1v1h-1zM50 6h1v1h-1zM104 6h1v1h-1zM110 6h2v1h-2zM113 6h1v1h-1zM116 6h1v1h-1zM21 7h1v1h-1zM75 7h1v1h-1zM91 7h1v1h-1zM111 7h1v1h-1zM118 7h3v1h-3zM15 8h1v1h-1zM49 8h1v1h-1zM105 8h1v1h-1zM108 8h2v1h-2zM111 8h1v1h-1zM120 8h1v1h-1zM107 9h2v1h-2zM116 9h1v1h-1zM58 10h1v1h-1zM77 10h1v1h-1zM108 10h1v1h-1zM112 10h1v1h-1zM115 10h1v1h-1zM121 10h2v1h-2zM125 10h2v1h-2zM54 11h1v1h-1zM75 11h1v1h-1zM77 11h1v1h-1zM82 11h1v1h-1zM102 11h1v1h-1zM110 11h1v1h-1zM115 11h2v1h-2zM123 11h1v1h-1zM37 12h1v1h-1zM51 12h1v1h-1zM55 12h1v1h-1zM66 12h1v1h-1zM92 12h1v1h-1zM102 12h1v1h-1zM108 12h1v1h-1zM116 12h1v1h-1zM119 12h1v1h-1zM123 12h2v1h-2zM21 13h1v1h-1zM46 13h1v1h-1zM82 13h1v1h-1zM84 13h1v1h-1zM93 13h1v1h-1zM103 13h2v1h-2zM113 13h2v1h-2zM22 14h1v1h-1zM46 14h1v1h-1zM81 14h1v1h-1zM89 14h1v1h-1zM105 14h1v1h-1zM107 14h1v1h-1zM118 14h1v1h-1zM10 15h1v1h-1zM38 15h1v1h-1zM83 15h1v1h-1zM102 15h1v1h-1zM113 15h1v1h-1zM117 15h2v1h-2zM38 16h1v1h-1zM64 16h1v1h-1zM82 16h1v1h-1zM86 16h1v1h-1zM93 16h1v1h-1zM103 16h2v1h-2zM113 16h1v1h-1zM16 17h1v1h-1zM61 17h1v1h-1zM84 17h2v1h-2zM110 17h1v1h-1zM113 17h1v1h-1zM10 18h2v1h-2zM29 18h1v1h-1zM72 18h1v1h-1zM101 18h2v1h-2zM2 19h1v1h-1zM83 19h1v1h-1zM99 19h1v1h-1zM117 19h1v1h-1zM121 19h1v1h-1zM9 20h1v1h-1zM13 20h1v1h-1zM83 20h2v1h-2zM98 20h1v1h-1zM115 20h2v1h-2zM118 20h1v1h-1zM13 21h1v1h-1zM95 21h1v1h-1zM103 21h1v1h-1zM124 21h3v1h-3zM31 22h2v1h-2zM96 22h1v1h-1zM108 22h1v1h-1zM120 22h2v1h-2zM123 22h1v1h-1zM87 23h1v1h-1zM105 23h1v1h-1zM113 23h1v1h-1zM117 23h1v1h-1zM123 23h1v1h-1zM113 24h1v1h-1zM118 24h1v1h-1zM120 24h2v1h-2zM123 24h1v1h-1zM92 25h1v1h-1zM103 25h1v1h-1zM9 26h1v1h-1zM102 26h2v1h-2zM105 26h1v1h-1zM115 27h1v1h-1zM97 28h1v1h-1zM106 28h1v1h-1zM30 29h1v1h-1zM113 29h2v1h-2zM117 29h1v1h-1zM122 29h1v1h-1zM21 30h2v1h-2zM104 30h2v1h-2zM114 30h1v1h-1zM118 30h1v1h-1zM120 30h2v1h-2zM105 31h1v1h-1zM107 31h1v1h-1zM121 31h1v1h-1zM125 31h2v1h-2zM25 32h1v1h-1zM27 32h1v1h-1zM64 32h1v1h-1zM100 32h1v1h-1zM104 32h1v1h-1zM111 32h1v1h-1zM21 33h1v1h-1zM56 33h1v1h-1zM110 33h1v1h-1zM22 34h1v1h-1zM102 34h1v1h-1zM42 35h1v1h-1zM97 35h1v1h-1zM109 35h1v1h-1zM28 36h1v1h-1zM96 36h1v1h-1zM110 36h1v1h-1zM116 36h1v1h-1zM28 37h1v1h-1zM96 37h1v1h-1zM110 37h1v1h-1zM116 37h1v1h-1z"/><path fill="#4ac16d" d="M2 0h3v1h-3zM39 0h1v1h-1zM47 0h1v1h-1zM52 0h1v1h-1zM76 0h1v1h-1zM92 0h1v1h-1zM95 0h1v1h-1zM97 0h1v1h-1zM111 0h1v1h-1zM116 0h1v1h-1zM2 1h3v1h-3zM39 1h1v1h-1zM47 1h1v1h-1zM52 1h1v1h-1zM76 1h1v1h-1zM92 1h1v1h-1zM95 1h1v1h-1zM97 1h1v1h-1zM111 1h1v1h-1zM116 1h1v1h-1zM16 2h1v1h-1zM29 2h1v1h-1zM35 2h1v1h-1zM99 2h1v1h-1zM101 2h1v1h-1zM112 2h2v1h-2zM119 2h1v1h-1zM17 3h1v1h-1zM20 3h2v1h-2zM36 3h1v1h-1zM46 3h1v1h-1zM81 3h1v1h-1zM83 3h1v1h-1zM119 3h1v1h-1zM16 4h1v1h-1zM21 4h2v1h-2zM81 4h1v1h-1zM83 4h1v1h-1zM110 4h1v1h-1zM118 4h1v1h-1zM121 4h1v1h-1zM21 5h1v1h-1zM33 5h1v1h-1zM48 5h1v1h-1zM79 5h1v1h-1zM81 5h1v1h-1zM105 5h2v1h-2zM110 5h1v1h-1zM114 5h2v1h-2zM120 5h1v1h-1zM13 6h1v1h-1zM16 6h1v1h-1zM105 6h2v1h-2zM112 6h1v1h-1zM119 6h1v1h-1zM124 6h1v1h-1zM26 7h1v1h-1zM36 7h1v1h-1zM49 7h1v1h-1zM108 7h3v1h-3zM115 7h1v1h-1zM121 7h2v1h-2zM14 8h1v1h-1zM106 8h1v1h-1zM114 8h1v1h-1zM116 8h2v1h-2zM123 8h1v1h-1zM17 9h1v1h-1zM19 9h1v1h-1zM75 9h1v1h-1zM110 9h2v1h-2zM118 9h1v1h-1zM121 9h1v1h-1zM11 10h1v1h-1zM18 10h1v1h-1zM39 10h1v1h-1zM41 10h1v1h-1zM54 10h1v1h-1zM76 10h1v1h-1zM105 10h1v1h-1zM120 10h1v1h-1zM32 11h1v1h-1zM37 11h1v1h-1zM60 11h1v1h-1zM100 11h2v1h-2zM103 11h1v1h-1zM108 11h1v1h-1zM114 11h1v1h-1zM117 11h1v1h-1zM125 11h2v1h-2zM22 12h2v1h-2zM81 12h1v1h-1zM95 12h1v1h-1zM101 12h1v1h-1zM104 12h2v1h-2zM112 12h2v1h-2zM125 12h2v1h-2zM11 13h1v1h-1zM29 13h1v1h-1zM36 13h1v1h-1zM44 13h2v1h-2zM48 13h1v1h-1zM79 13h1v1h-1zM85 13h1v1h-1zM96 13h1v1h-1zM101 13h1v1h-1zM106 13h1v1h-1zM112 13h1v1h-1zM116 13h1v1h-1zM118 13h2v1h-2zM123 13h1v1h-1zM49 14h1v1h-1zM64 14h1v1h-1zM80 14h1v1h-1zM86 14h2v1h-2zM92 14h1v1h-1zM94 14h1v1h-1zM97 14h1v1h-1zM103 14h1v1h-1zM113 14h1v1h-1zM117 14h1v1h-1zM122 14h1v1h-1zM11 15h1v1h-1zM29 15h1v1h-1zM47 15h1v1h-1zM63 15h1v1h-1zM80 15h1v1h-1zM90 15h1v1h-1zM101 15h1v1h-1zM107 15h1v1h-1zM110 15h1v1h-1zM112 15h1v1h-1zM116 15h1v1h-1zM121 15h2v1h-2zM29 16h1v1h-1zM71 16h1v1h-1zM83 16h2v1h-2zM99 16h2v1h-2zM112 16h1v1h-1zM121 16h2v1h-2zM70 17h1v1h-1zM72 17h1v1h-1zM81 17h1v1h-1zM86 17h2v1h-2zM102 17h1v1h-1zM121 17h1v1h-1zM30 18h1v1h-1zM36 18h1v1h-1zM66 18h1v1h-1zM71 18h1v1h-1zM84 18h1v1h-1zM92 18h1v1h-1zM112 18h1v1h-1zM117 18h2v1h-2zM10 19h3v1h-3zM15 19h1v1h-1zM72 19h1v1h-1zM86 19h1v1h-1zM100 19h1v1h-1zM106 19h1v1h-1zM120 19h1v1h-1zM124 19h1v1h-1zM4 20h1v1h-1zM8 20h1v1h-1zM12 20h1v1h-1zM78 20h1v1h-1zM81 20h2v1h-2zM87 20h1v1h-1zM99 20h1v1h-1zM110 20h1v1h-1zM21 21h1v1h-1zM83 21h1v1h-1zM99 21h1v1h-1zM108 21h2v1h-2zM22 22h1v1h-1zM90 22h1v1h-1zM99 22h1v1h-1zM103 22h1v1h-1zM105 22h1v1h-1zM119 22h1v1h-1zM122 22h1v1h-1zM26 23h1v1h-1zM65 23h1v1h-1zM90 23h3v1h-3zM103 23h1v1h-1zM106 23h1v1h-1zM116 23h1v1h-1zM122 23h1v1h-1zM0 24h2v1h-2zM105 24h1v1h-1zM108 24h1v1h-1zM116 24h1v1h-1zM122 24h1v1h-1zM43 25h2v1h-2zM88 25h1v1h-1zM99 25h1v1h-1zM101 25h2v1h-2zM105 25h1v1h-1zM109 25h1v1h-1zM114 25h1v1h-1zM116 25h1v1h-1zM121 25h2v1h-2zM114 26h3v1h-3zM120 26h1v1h-1zM123 26h2v1h-2zM100 27h1v1h-1zM107 27h1v1h-1zM114 27h1v1h-1zM122 27h3v1h-3zM6 28h1v1h-1zM20 28h1v1h-1zM47 28h1v1h-1zM103 28h3v1h-3zM117 28h2v1h-2zM122 28h1v1h-1zM6 29h1v1h-1zM21 29h1v1h-1zM48 29h1v1h-1zM50 29h1v1h-1zM91 29h1v1h-1zM96 29h1v1h-1zM118 29h1v1h-1zM121 29h1v1h-1zM20 30h1v1h-1zM23 30h1v1h-1zM26 30h1v1h-1zM30 30h1v1h-1zM40 30h1v1h-1zM64 30h1v1h-1zM97 30h2v1h-2zM112 30h1v1h-1zM115 30h1v1h-1zM117 30h1v1h-1zM17 31h1v1h-1zM21 31h1v1h-1zM23 31h1v1h-1zM51 31h1v1h-1zM104 31h1v1h-1zM111 31h1v1h-1zM114 31h2v1h-2zM19 32h2v1h-2zM24 32h1v1h-1zM26 32h1v1h-1zM30 32h1v1h-1zM99 32h1v1h-1zM105 32h1v1h-1zM109 32h1v1h-1zM118 32h1v1h-1zM121 32h1v1h-1zM125 32h2v1h-2zM2 33h2v1h-2zM20 33h1v1h-1zM100 33h1v1h-1zM116 33h1v1h-1zM3 34h1v1h-1zM68 34h1v1h-1zM113 34h1v1h-1zM115 34h2v1h-2zM24 35h1v1h-1zM27 35h1v1h-1zM51 35h1v1h-1zM99 35h4v1h-4zM115 35h1v1h-1zM125 35h2v1h-2zM29 36h1v1h-1zM40 36h1v1h-1zM87 36h1v1h-1zM99 36h1v1h-1zM104 36h1v1h-1zM120 36h1v1h-1zM29 37h1v1h-1zM40 37h1v1h-1zM87 37h1v1h-1zM99 37h1v1h-1zM104 37h1v1h-1zM120 37h1v1h-1z"/><path fill="#56c667" d="M19 0h1v1h-1zM31 0h1v1h-1zM36 0h1v1h-1zM53 0h1v1h-1zM59 0h1v1h-1zM65 0h1v1h-1zM82 0h1v1h-1zM19 1h1v1h-1zM31 1h1v1h-1zM36 1h1v1h-1zM53 1h1v1h-1zM59 1h1v1h-1zM65 1h1v1h-1zM82 1h1v1h-1zM6 2h1v1h-1zM18 2h1v1h-1zM36 2h1v1h-1zM48 2h1v1h-1zM52 2h1v1h-1zM83 2h1v1h-1zM86 2h1v1h-1zM92 2h1v1h-1zM94 2h1v1h-1zM110 2h1v1h-1zM117 2h1v1h-1zM123 2h1v1h-1zM14 3h1v1h-1zM16 3h1v1h-1zM22 3h1v1h-1zM32 3h1v1h-1zM40 3h1v1h-1zM47 3h1v1h-1zM103 3h2v1h-2zM111 3h1v1h-1zM122 3h1v1h-1zM4 4h1v1h-1zM30 4h1v1h-1zM35 4h1v1h-1zM37 4h1v1h-1zM48 4h1v1h-1zM51 4h1v1h-1zM80 4h1v1h-1zM82 4h1v1h-1zM111 4h1v1h-1zM117 4h1v1h-1zM122 4h1v1h-1zM125 4h2v1h-2zM14 5h1v1h-1zM17 5h1v1h-1zM22 5h1v1h-1zM29 5h1v1h-1zM47 5h1v1h-1zM49 5h2v1h-2zM78 5h1v1h-1zM80 5h1v1h-1zM108 5h1v1h-1zM12 6h1v1h-1zM21 6h1v1h-1zM31 6h1v1h-1zM33 6h1v1h-1zM47 6h1v1h-1zM57 6h1v1h-1zM82 6h1v1h-1zM91 6h1v1h-1zM94 6h1v1h-1zM100 6h1v1h-1zM115 6h1v1h-1zM118 6h1v1h-1zM27 7h2v1h-2zM44 7h1v1h-1zM47 7h1v1h-1zM57 7h1v1h-1zM105 7h2v1h-2zM113 7h1v1h-1zM116 7h1v1h-1zM124 7h1v1h-1zM92 8h1v1h-1zM104 8h1v1h-1zM121 8h1v1h-1zM2 9h1v1h-1zM18 9h1v1h-1zM39 9h1v1h-1zM53 9h1v1h-1zM71 9h1v1h-1zM80 9h1v1h-1zM93 9h1v1h-1zM104 9h3v1h-3zM113 9h1v1h-1zM115 9h1v1h-1zM125 9h2v1h-2zM16 10h1v1h-1zM48 10h1v1h-1zM52 10h1v1h-1zM66 10h1v1h-1zM82 10h1v1h-1zM93 10h1v1h-1zM99 10h1v1h-1zM104 10h1v1h-1zM113 10h1v1h-1zM117 10h1v1h-1zM119 10h1v1h-1zM123 10h1v1h-1zM0 11h2v1h-2zM14 11h1v1h-1zM24 11h1v1h-1zM31 11h1v1h-1zM52 11h1v1h-1zM66 11h2v1h-2zM83 11h1v1h-1zM92 11h2v1h-2zM104 11h1v1h-1zM109 11h1v1h-1zM112 11h1v1h-1zM120 11h2v1h-2zM0 12h2v1h-2zM10 12h1v1h-1zM20 12h2v1h-2zM36 12h1v1h-1zM59 12h1v1h-1zM61 12h1v1h-1zM65 12h1v1h-1zM76 12h1v1h-1zM85 12h1v1h-1zM103 12h1v1h-1zM109 12h3v1h-3zM17 13h1v1h-1zM22 13h1v1h-1zM28 13h1v1h-1zM39 13h1v1h-1zM47 13h1v1h-1zM49 13h1v1h-1zM52 13h1v1h-1zM80 13h1v1h-1zM98 13h1v1h-1zM100 13h1v1h-1zM105 13h1v1h-1zM107 13h1v1h-1zM117 13h1v1h-1zM125 13h2v1h-2zM33 14h1v1h-1zM38 14h1v1h-1zM47 14h1v1h-1zM56 14h1v1h-1zM61 14h1v1h-1zM65 14h1v1h-1zM95 14h2v1h-2zM99 14h4v1h-4zM104 14h1v1h-1zM109 14h1v1h-1zM112 14h1v1h-1zM116 14h1v1h-1zM30 15h1v1h-1zM33 15h1v1h-1zM37 15h1v1h-1zM45 15h1v1h-1zM56 15h2v1h-2zM64 15h2v1h-2zM78 15h2v1h-2zM81 15h1v1h-1zM85 15h2v1h-2zM95 15h1v1h-1zM97 15h2v1h-2zM103 15h1v1h-1zM108 15h1v1h-1zM11 16h1v1h-1zM16 16h2v1h-2zM40 16h1v1h-1zM61 16h1v1h-1zM87 16h1v1h-1zM90 16h1v1h-1zM94 16h1v1h-1zM97 16h1v1h-1zM107 16h2v1h-2zM111 16h1v1h-1zM116 16h1v1h-1zM118 16h1v1h-1zM120 16h1v1h-1zM5 17h1v1h-1zM30 17h1v1h-1zM62 17h1v1h-1zM64 17h3v1h-3zM68 17h1v1h-1zM96 17h2v1h-2zM99 17h2v1h-2zM104 17h1v1h-1zM108 17h1v1h-1zM111 17h1v1h-1zM9 18h1v1h-1zM15 18h1v1h-1zM17 18h1v1h-1zM27 18h2v1h-2zM61 18h1v1h-1zM67 18h2v1h-2zM70 18h1v1h-1zM73 18h1v1h-1zM81 18h2v1h-2zM96 18h1v1h-1zM104 18h1v1h-1zM108 18h1v1h-1zM110 18h1v1h-1zM122 18h2v1h-2zM3 19h1v1h-1zM13 19h1v1h-1zM17 19h2v1h-2zM28 19h1v1h-1zM44 19h1v1h-1zM55 19h2v1h-2zM68 19h1v1h-1zM70 19h1v1h-1zM78 19h1v1h-1zM101 19h1v1h-1zM103 19h3v1h-3zM113 19h1v1h-1zM119 19h1v1h-1zM2 20h2v1h-2zM18 20h1v1h-1zM56 20h1v1h-1zM67 20h1v1h-1zM73 20h1v1h-1zM88 20h1v1h-1zM94 20h1v1h-1zM97 20h1v1h-1zM102 20h3v1h-3zM107 20h1v1h-1zM113 20h1v1h-1zM121 20h1v1h-1zM123 20h4v1h-4zM14 21h1v1h-1zM31 21h1v1h-1zM78 21h2v1h-2zM82 21h1v1h-1zM87 21h2v1h-2zM101 21h1v1h-1zM106 21h2v1h-2zM110 21h1v1h-1zM117 21h2v1h-2zM123 21h1v1h-1zM0 22h2v1h-2zM13 22h1v1h-1zM17 22h1v1h-1zM60 22h1v1h-1zM83 22h2v1h-2zM89 22h1v1h-1zM114 22h2v1h-2zM22 23h1v1h-1zM24 23h2v1h-2zM32 23h1v1h-1zM61 23h1v1h-1zM100 23h1v1h-1zM109 23h2v1h-2zM124 23h1v1h-1zM18 24h1v1h-1zM23 24h1v1h-1zM25 24h1v1h-1zM40 24h2v1h-2zM63 24h1v1h-1zM82 24h1v1h-1zM87 24h1v1h-1zM98 24h1v1h-1zM109 24h1v1h-1zM117 24h1v1h-1zM3 25h1v1h-1zM7 25h2v1h-2zM41 25h1v1h-1zM52 25h1v1h-1zM75 25h1v1h-1zM86 25h1v1h-1zM106 25h1v1h-1zM111 25h1v1h-1zM120 25h1v1h-1zM44 26h1v1h-1zM51 26h1v1h-1zM107 26h1v1h-1zM122 26h1v1h-1zM6 27h1v1h-1zM97 27h1v1h-1zM99 27h1v1h-1zM102 27h1v1h-1zM106 27h1v1h-1zM108 27h1v1h-1zM116 27h3v1h-3zM38 28h1v1h-1zM44 28h1v1h-1zM48 28h1v1h-1zM96 28h1v1h-1zM99 28h2v1h-2zM114 28h2v1h-2zM119 28h1v1h-1zM125 28h2v1h-2zM19 29h2v1h-2zM22 29h2v1h-2zM29 29h1v1h-1zM97 29h1v1h-1zM107 29h1v1h-1zM115 29h1v1h-1zM123 29h1v1h-1zM16 30h1v1h-1zM18 30h1v1h-1zM49 30h1v1h-1zM90 30h1v1h-1zM94 30h1v1h-1zM96 30h1v1h-1zM103 30h1v1h-1zM106 30h1v1h-1zM108 30h1v1h-1zM110 30h1v1h-1zM123 30h1v1h-1zM125 30h2v1h-2zM11 31h1v1h-1zM20 31h1v1h-1zM25 31h2v1h-2zM61 31h1v1h-1zM69 31h1v1h-1zM98 31h1v1h-1zM100 31h1v1h-1zM108 31h3v1h-3zM117 31h3v1h-3zM2 32h1v1h-1zM23 32h1v1h-1zM57 32h2v1h-2zM61 32h1v1h-1zM63 32h1v1h-1zM117 32h1v1h-1zM123 32h1v1h-1zM0 33h2v1h-2zM57 33h2v1h-2zM60 33h2v1h-2zM94 33h1v1h-1zM101 33h1v1h-1zM104 33h1v1h-1zM119 33h2v1h-2zM0 34h2v1h-2zM4 34h2v1h-2zM21 34h1v1h-1zM23 34h1v1h-1zM28 34h1v1h-1zM36 34h1v1h-1zM41 34h1v1h-1zM100 34h1v1h-1zM103 34h1v1h-1zM112 34h1v1h-1zM121 34h1v1h-1zM124 34h1v1h-1zM22 35h2v1h-2zM26 35h1v1h-1zM107 35h1v1h-1zM111 35h3v1h-3zM116 35h2v1h-2zM24 36h4v1h-4zM57 36h1v1h-1zM85 36h1v1h-1zM95 36h1v1h-1zM112 36h3v1h-3zM125 36h2v1h-2zM24 37h4v1h-4zM57 37h1v1h-1zM85 37h1v1h-1zM95 37h1v1h-1zM112 37h3v1h-3zM125 37h2v1h-2z"/><path fill="#60ca60" d="M0 0h2v1h-2zM14 0h2v1h-2zM17 0h1v1h-1zM37 0h2v1h-2zM44 0h1v1h-1zM66 0h1v1h-1zM68 0h1v1h-1zM88 0h2v1h-2zM103 0h1v1h-1zM123 0h2v1h-2zM0 1h2v1h-2zM14 1h2v1h-2zM17 1h1v1h-1zM37 1h2v1h-2zM44 1h1v1h-1zM66 1h1v1h-1zM68 1h1v1h-1zM88 1h2v1h-2zM103 1h1v1h-1zM123 1h2v1h-2zM0 2h2v1h-2zM4 2h2v1h-2zM14 2h1v1h-1zM17 2h1v1h-1zM28 2h1v1h-1zM37 2h1v1h-1zM39 2h2v1h-2zM46 2h1v1h-1zM66 2h1v1h-1zM81 2h1v1h-1zM95 2h1v1h-1zM98 2h1v1h-1zM100 2h1v1h-1zM120 2h1v1h-1zM4 3h1v1h-1zM11 3h1v1h-1zM15 3h1v1h-1zM23 3h1v1h-1zM33 3h1v1h-1zM38 3h1v1h-1zM45 3h1v1h-1zM48 3h1v1h-1zM57 3h1v1h-1zM101 3h1v1h-1zM110 3h1v1h-1zM115 3h2v1h-2zM118 3h1v1h-1zM23 4h1v1h-1zM28 4h1v1h-1zM33 4h1v1h-1zM45 4h1v1h-1zM49 4h2v1h-2zM57 4h2v1h-2zM68 4h1v1h-1zM72 4h1v1h-1zM78 4h2v1h-2zM86 4h1v1h-1zM94 4h1v1h-1zM101 4h1v1h-1zM104 4h1v1h-1zM12 5h1v1h-1zM15 5h2v1h-2zM20 5h1v1h-1zM32 5h1v1h-1zM51 5h1v1h-1zM92 5h1v1h-1zM104 5h1v1h-1zM109 5h1v1h-1zM111 5h1v1h-1zM121 5h1v1h-1zM124 5h1v1h-1zM10 6h2v1h-2zM44 6h1v1h-1zM95 6h1v1h-1zM102 6h1v1h-1zM121 6h1v1h-1zM25 7h1v1h-1zM35 7h1v1h-1zM45 7h1v1h-1zM51 7h1v1h-1zM56 7h1v1h-1zM74 7h1v1h-1zM76 7h1v1h-1zM92 7h1v1h-1zM104 7h1v1h-1zM107 7h1v1h-1zM21 8h1v1h-1zM28 8h1v1h-1zM39 8h1v1h-1zM45 8h2v1h-2zM55 8h1v1h-1zM67 8h1v1h-1zM73 8h1v1h-1zM75 8h1v1h-1zM91 8h1v1h-1zM94 8h1v1h-1zM118 8h2v1h-2zM16 9h1v1h-1zM20 9h1v1h-1zM25 9h1v1h-1zM29 9h1v1h-1zM40 9h1v1h-1zM49 9h1v1h-1zM52 9h1v1h-1zM57 9h2v1h-2zM64 9h1v1h-1zM81 9h1v1h-1zM87 9h1v1h-1zM92 9h1v1h-1zM99 9h1v1h-1zM103 9h1v1h-1zM112 9h1v1h-1zM114 9h1v1h-1zM119 9h2v1h-2zM26 10h1v1h-1zM28 10h2v1h-2zM32 10h2v1h-2zM40 10h1v1h-1zM55 10h2v1h-2zM59 10h1v1h-1zM72 10h1v1h-1zM75 10h1v1h-1zM78 10h1v1h-1zM83 10h1v1h-1zM94 10h1v1h-1zM98 10h1v1h-1zM103 10h1v1h-1zM106 10h1v1h-1zM109 10h1v1h-1zM114 10h1v1h-1zM23 11h1v1h-1zM29 11h2v1h-2zM33 11h1v1h-1zM41 11h1v1h-1zM49 11h1v1h-1zM53 11h1v1h-1zM59 11h1v1h-1zM78 11h1v1h-1zM81 11h1v1h-1zM94 11h2v1h-2zM105 11h1v1h-1zM119 11h1v1h-1zM4 12h1v1h-1zM6 12h1v1h-1zM16 12h1v1h-1zM29 12h1v1h-1zM50 12h1v1h-1zM60 12h1v1h-1zM78 12h1v1h-1zM86 12h2v1h-2zM90 12h2v1h-2zM93 12h2v1h-2zM96 12h1v1h-1zM100 12h1v1h-1zM106 12h2v1h-2zM118 12h1v1h-1zM121 12h1v1h-1zM0 13h2v1h-2zM18 13h1v1h-1zM33 13h1v1h-1zM59 13h1v1h-1zM61 13h1v1h-1zM65 13h1v1h-1zM99 13h1v1h-1zM110 13h1v1h-1zM120 13h2v1h-2zM12 14h1v1h-1zM14 14h1v1h-1zM21 14h1v1h-1zM30 14h2v1h-2zM50 14h3v1h-3zM55 14h1v1h-1zM60 14h1v1h-1zM62 14h1v1h-1zM73 14h1v1h-1zM79 14h1v1h-1zM90 14h1v1h-1zM93 14h1v1h-1zM108 14h1v1h-1zM15 15h1v1h-1zM17 15h1v1h-1zM39 15h1v1h-1zM46 15h1v1h-1zM49 15h1v1h-1zM51 15h3v1h-3zM55 15h1v1h-1zM66 15h1v1h-1zM77 15h1v1h-1zM82 15h1v1h-1zM87 15h1v1h-1zM89 15h1v1h-1zM94 15h1v1h-1zM96 15h1v1h-1zM99 15h2v1h-2zM104 15h3v1h-3zM33 16h2v1h-2zM37 16h1v1h-1zM49 16h1v1h-1zM51 16h1v1h-1zM53 16h1v1h-1zM57 16h1v1h-1zM63 16h1v1h-1zM66 16h2v1h-2zM72 16h1v1h-1zM78 16h3v1h-3zM109 16h1v1h-1zM114 16h1v1h-1zM117 16h1v1h-1zM4 17h1v1h-1zM10 17h2v1h-2zM15 17h1v1h-1zM17 17h1v1h-1zM28 17h2v1h-2zM73 17h1v1h-1zM78 17h1v1h-1zM80 17h1v1h-1zM89 17h1v1h-1zM92 17h2v1h-2zM107 17h1v1h-1zM112 17h1v1h-1zM116 17h1v1h-1zM120 17h1v1h-1zM122 17h1v1h-1zM124 17h1v1h-1zM5 18h1v1h-1zM12 18h1v1h-1zM16 18h1v1h-1zM22 18h2v1h-2zM55 18h1v1h-1zM62 18h1v1h-1zM65 18h1v1h-1zM69 18h1v1h-1zM97 18h1v1h-1zM99 18h2v1h-2zM106 18h2v1h-2zM113 18h1v1h-1zM116 18h1v1h-1zM119 18h3v1h-3zM4 19h1v1h-1zM7 19h2v1h-2zM14 19h1v1h-1zM19 19h1v1h-1zM27 19h1v1h-1zM30 19h1v1h-1zM57 19h1v1h-1zM62 19h1v1h-1zM66 19h2v1h-2zM85 19h1v1h-1zM87 19h1v1h-1zM98 19h1v1h-1zM107 19h1v1h-1zM122 19h1v1h-1zM125 19h2v1h-2zM6 20h2v1h-2zM14 20h2v1h-2zM17 20h1v1h-1zM23 20h1v1h-1zM27 20h2v1h-2zM30 20h1v1h-1zM43 20h1v1h-1zM61 20h1v1h-1zM71 20h1v1h-1zM76 20h1v1h-1zM85 20h1v1h-1zM95 20h2v1h-2zM100 20h1v1h-1zM105 20h2v1h-2zM109 20h1v1h-1zM114 20h1v1h-1zM119 20h2v1h-2zM122 20h1v1h-1zM3 21h1v1h-1zM6 21h2v1h-2zM9 21h1v1h-1zM11 21h2v1h-2zM16 21h1v1h-1zM22 21h1v1h-1zM29 21h1v1h-1zM58 21h1v1h-1zM60 21h1v1h-1zM65 21h1v1h-1zM67 21h2v1h-2zM77 21h1v1h-1zM96 21h2v1h-2zM104 21h1v1h-1zM115 21h1v1h-1zM119 21h1v1h-1zM122 21h1v1h-1zM8 22h1v1h-1zM15 22h1v1h-1zM19 22h1v1h-1zM29 22h2v1h-2zM33 22h1v1h-1zM59 22h1v1h-1zM66 22h1v1h-1zM79 22h1v1h-1zM85 22h3v1h-3zM91 22h3v1h-3zM101 22h1v1h-1zM104 22h1v1h-1zM106 22h2v1h-2zM110 22h1v1h-1zM118 22h1v1h-1zM0 23h3v1h-3zM9 23h1v1h-1zM14 23h1v1h-1zM18 23h1v1h-1zM44 23h1v1h-1zM62 23h1v1h-1zM66 23h1v1h-1zM96 23h2v1h-2zM99 23h1v1h-1zM102 23h1v1h-1zM108 23h1v1h-1zM111 23h2v1h-2zM118 23h2v1h-2zM125 23h2v1h-2zM8 24h1v1h-1zM13 24h1v1h-1zM39 24h1v1h-1zM42 24h2v1h-2zM45 24h1v1h-1zM55 24h1v1h-1zM62 24h1v1h-1zM64 24h2v1h-2zM68 24h1v1h-1zM76 24h1v1h-1zM101 24h1v1h-1zM0 25h2v1h-2zM23 25h1v1h-1zM26 25h1v1h-1zM45 25h1v1h-1zM84 25h1v1h-1zM87 25h1v1h-1zM98 25h1v1h-1zM100 25h1v1h-1zM113 25h1v1h-1zM117 25h1v1h-1zM119 25h1v1h-1zM123 25h1v1h-1zM125 25h2v1h-2zM7 26h2v1h-2zM43 26h1v1h-1zM52 26h1v1h-1zM66 26h1v1h-1zM86 26h1v1h-1zM92 26h1v1h-1zM99 26h1v1h-1zM106 26h1v1h-1zM109 26h1v1h-1zM113 26h1v1h-1zM118 26h2v1h-2zM125 26h2v1h-2zM7 27h3v1h-3zM31 27h1v1h-1zM43 27h1v1h-1zM48 27h2v1h-2zM69 27h1v1h-1zM77 27h2v1h-2zM91 27h1v1h-1zM98 27h1v1h-1zM113 27h1v1h-1zM125 27h2v1h-2zM7 28h1v1h-1zM19 28h1v1h-1zM22 28h1v1h-1zM51 28h2v1h-2zM68 28h1v1h-1zM70 28h1v1h-1zM95 28h1v1h-1zM101 28h1v1h-1zM109 28h1v1h-1zM121 28h1v1h-1zM124 28h1v1h-1zM7 29h1v1h-1zM36 29h1v1h-1zM46 29h1v1h-1zM49 29h1v1h-1zM51 29h1v1h-1zM90 29h1v1h-1zM94 29h2v1h-2zM98 29h1v1h-1zM105 29h1v1h-1zM119 29h1v1h-1zM125 29h2v1h-2zM17 30h1v1h-1zM28 30h1v1h-1zM32 30h1v1h-1zM52 30h1v1h-1zM60 30h1v1h-1zM67 30h2v1h-2zM95 30h1v1h-1zM99 30h1v1h-1zM109 30h1v1h-1zM111 30h1v1h-1zM124 30h1v1h-1zM18 31h1v1h-1zM24 31h1v1h-1zM27 31h2v1h-2zM30 31h1v1h-1zM56 31h3v1h-3zM60 31h1v1h-1zM64 31h1v1h-1zM66 31h1v1h-1zM96 31h1v1h-1zM99 31h1v1h-1zM102 31h1v1h-1zM116 31h1v1h-1zM120 31h1v1h-1zM29 32h1v1h-1zM36 32h1v1h-1zM59 32h2v1h-2zM65 32h5v1h-5zM98 32h1v1h-1zM106 32h1v1h-1zM119 32h1v1h-1zM122 32h1v1h-1zM22 33h1v1h-1zM25 33h1v1h-1zM29 33h1v1h-1zM42 33h1v1h-1zM55 33h1v1h-1zM64 33h1v1h-1zM68 33h1v1h-1zM70 33h1v1h-1zM102 33h1v1h-1zM105 33h2v1h-2zM112 33h1v1h-1zM114 33h1v1h-1zM121 33h1v1h-1zM2 34h1v1h-1zM24 34h2v1h-2zM27 34h1v1h-1zM29 34h1v1h-1zM35 34h1v1h-1zM42 34h1v1h-1zM47 34h1v1h-1zM57 34h1v1h-1zM63 34h1v1h-1zM67 34h1v1h-1zM70 34h1v1h-1zM97 34h1v1h-1zM101 34h1v1h-1zM117 34h1v1h-1zM25 35h1v1h-1zM40 35h1v1h-1zM43 35h2v1h-2zM49 35h1v1h-1zM108 35h1v1h-1zM21 36h2v1h-2zM44 36h2v1h-2zM56 36h1v1h-1zM58 36h1v1h-1zM61 36h2v1h-2zM66 36h1v1h-1zM86 36h1v1h-1zM98 36h1v1h-1zM106 36h4v1h-4zM21 37h2v1h-2zM44 37h2v1h-2zM56 37h1v1h-1zM58 37h1v1h-1zM61 37h2v1h-2zM66 37h1v1h-1zM86 37h1v1h-1zM98 37h1v1h-1zM106 37h4v1h-4z"/><path fill="#6ccd5a" d="M9 0h3v1h-3zM13 0h1v1h-1zM18 0h1v1h-1zM25 0h1v1h-1zM43 0h1v1h-1zM45 0h1v1h-1zM51 0h1v1h-1zM58 0h1v1h-1zM67 0h1v1h-1zM74 0h1v1h-1zM81 0h1v1h-1zM84 0h1v1h-1zM86 0h1v1h-1zM91 0h1v1h-1zM93 0h1v1h-1zM96 0h1v1h-1zM110 0h1v1h-1zM117 0h1v1h-1zM9 1h3v1h-3zM13 1h1v1h-1zM18 1h1v1h-1zM25 1h1v1h-1zM43 1h1v1h-1zM45 1h1v1h-1zM51 1h1v1h-1zM58 1h1v1h-1zM67 1h1v1h-1zM74 1h1v1h-1zM81 1h1v1h-1zM84 1h1v1h-1zM86 1h1v1h-1zM91 1h1v1h-1zM93 1h1v1h-1zM96 1h1v1h-1zM110 1h1v1h-1zM117 1h1v1h-1zM20 2h3v1h-3zM27 2h1v1h-1zM30 2h1v1h-1zM53 2h1v1h-1zM67 2h2v1h-2zM75 2h1v1h-1zM91 2h1v1h-1zM97 2h1v1h-1zM104 2h1v1h-1zM109 2h1v1h-1zM118 2h1v1h-1zM125 2h2v1h-2zM3 3h1v1h-1zM5 3h1v1h-1zM9 3h1v1h-1zM12 3h2v1h-2zM19 3h1v1h-1zM29 3h1v1h-1zM34 3h1v1h-1zM49 3h1v1h-1zM51 3h1v1h-1zM59 3h1v1h-1zM74 3h1v1h-1zM84 3h1v1h-1zM92 3h3v1h-3zM102 3h1v1h-1zM106 3h1v1h-1zM108 3h1v1h-1zM117 3h1v1h-1zM5 4h1v1h-1zM10 4h2v1h-2zM13 4h2v1h-2zM18 4h1v1h-1zM27 4h1v1h-1zM29 4h1v1h-1zM36 4h1v1h-1zM39 4h1v1h-1zM43 4h1v1h-1zM46 4h1v1h-1zM52 4h1v1h-1zM59 4h1v1h-1zM71 4h1v1h-1zM73 4h1v1h-1zM88 4h1v1h-1zM92 4h2v1h-2zM106 4h2v1h-2zM10 5h2v1h-2zM23 5h1v1h-1zM25 5h1v1h-1zM28 5h1v1h-1zM30 5h1v1h-1zM40 5h1v1h-1zM45 5h1v1h-1zM57 5h1v1h-1zM82 5h1v1h-1zM84 5h4v1h-4zM119 5h1v1h-1zM125 5h2v1h-2zM15 6h1v1h-1zM17 6h1v1h-1zM22 6h2v1h-2zM28 6h1v1h-1zM30 6h1v1h-1zM32 6h1v1h-1zM35 6h1v1h-1zM41 6h1v1h-1zM45 6h1v1h-1zM76 6h1v1h-1zM78 6h3v1h-3zM85 6h2v1h-2zM93 6h1v1h-1zM101 6h1v1h-1zM103 6h1v1h-1zM108 6h1v1h-1zM120 6h1v1h-1zM122 6h1v1h-1zM125 6h2v1h-2zM13 7h1v1h-1zM15 7h1v1h-1zM17 7h1v1h-1zM23 7h1v1h-1zM30 7h1v1h-1zM39 7h3v1h-3zM46 7h1v1h-1zM48 7h1v1h-1zM50 7h1v1h-1zM52 7h2v1h-2zM58 7h1v1h-1zM72 7h1v1h-1zM77 7h1v1h-1zM80 7h1v1h-1zM84 7h3v1h-3zM90 7h1v1h-1zM93 7h1v1h-1zM100 7h1v1h-1zM12 8h1v1h-1zM17 8h1v1h-1zM20 8h1v1h-1zM24 8h1v1h-1zM26 8h2v1h-2zM29 8h1v1h-1zM44 8h1v1h-1zM47 8h2v1h-2zM50 8h1v1h-1zM53 8h2v1h-2zM69 8h1v1h-1zM77 8h1v1h-1zM79 8h2v1h-2zM93 8h1v1h-1zM107 8h1v1h-1zM112 8h2v1h-2zM122 8h1v1h-1zM11 9h2v1h-2zM15 9h1v1h-1zM24 9h1v1h-1zM26 9h3v1h-3zM38 9h1v1h-1zM41 9h1v1h-1zM54 9h2v1h-2zM65 9h3v1h-3zM72 9h1v1h-1zM76 9h2v1h-2zM84 9h1v1h-1zM90 9h1v1h-1zM0 10h3v1h-3zM13 10h1v1h-1zM17 10h1v1h-1zM24 10h2v1h-2zM27 10h1v1h-1zM31 10h1v1h-1zM43 10h1v1h-1zM49 10h1v1h-1zM60 10h2v1h-2zM67 10h1v1h-1zM69 10h1v1h-1zM80 10h1v1h-1zM87 10h1v1h-1zM102 10h1v1h-1zM107 10h1v1h-1zM2 11h1v1h-1zM8 11h2v1h-2zM11 11h1v1h-1zM16 11h1v1h-1zM22 11h1v1h-1zM25 11h1v1h-1zM28 11h1v1h-1zM36 11h1v1h-1zM40 11h1v1h-1zM42 11h1v1h-1zM48 11h1v1h-1zM51 11h1v1h-1zM69 11h1v1h-1zM85 11h2v1h-2zM88 11h1v1h-1zM90 11h2v1h-2zM96 11h1v1h-1zM98 11h2v1h-2zM111 11h1v1h-1zM113 11h1v1h-1zM122 11h1v1h-1zM2 12h1v1h-1zM5 12h1v1h-1zM9 12h1v1h-1zM11 12h1v1h-1zM24 12h1v1h-1zM28 12h1v1h-1zM34 12h1v1h-1zM38 12h1v1h-1zM42 12h1v1h-1zM54 12h1v1h-1zM67 12h2v1h-2zM80 12h1v1h-1zM84 12h1v1h-1zM114 12h1v1h-1zM10 13h1v1h-1zM12 13h1v1h-1zM30 13h3v1h-3zM34 13h1v1h-1zM50 13h2v1h-2zM66 13h1v1h-1zM73 13h1v1h-1zM81 13h1v1h-1zM87 13h1v1h-1zM89 13h1v1h-1zM91 13h1v1h-1zM97 13h1v1h-1zM111 13h1v1h-1zM124 13h1v1h-1zM5 14h1v1h-1zM10 14h1v1h-1zM18 14h3v1h-3zM28 14h1v1h-1zM36 14h2v1h-2zM53 14h2v1h-2zM59 14h1v1h-1zM72 14h1v1h-1zM78 14h1v1h-1zM98 14h1v1h-1zM123 14h4v1h-4zM4 15h2v1h-2zM9 15h1v1h-1zM12 15h1v1h-1zM36 15h1v1h-1zM54 15h1v1h-1zM59 15h1v1h-1zM88 15h1v1h-1zM109 15h1v1h-1zM111 15h1v1h-1zM124 15h1v1h-1zM4 16h1v1h-1zM10 16h1v1h-1zM12 16h2v1h-2zM19 16h1v1h-1zM24 16h2v1h-2zM28 16h1v1h-1zM30 16h1v1h-1zM45 16h1v1h-1zM47 16h2v1h-2zM50 16h1v1h-1zM60 16h1v1h-1zM70 16h1v1h-1zM88 16h1v1h-1zM95 16h1v1h-1zM98 16h1v1h-1zM106 16h1v1h-1zM110 16h1v1h-1zM119 16h1v1h-1zM9 17h1v1h-1zM12 17h2v1h-2zM23 17h1v1h-1zM26 17h1v1h-1zM31 17h1v1h-1zM37 17h1v1h-1zM39 17h1v1h-1zM46 17h1v1h-1zM53 17h1v1h-1zM57 17h1v1h-1zM60 17h1v1h-1zM63 17h1v1h-1zM74 17h2v1h-2zM90 17h1v1h-1zM98 17h1v1h-1zM117 17h2v1h-2zM8 18h1v1h-1zM14 18h1v1h-1zM24 18h1v1h-1zM34 18h2v1h-2zM56 18h1v1h-1zM64 18h1v1h-1zM74 18h1v1h-1zM77 18h2v1h-2zM91 18h1v1h-1zM95 18h1v1h-1zM105 18h1v1h-1zM111 18h1v1h-1zM115 18h1v1h-1zM9 19h1v1h-1zM24 19h3v1h-3zM34 19h1v1h-1zM39 19h1v1h-1zM43 19h1v1h-1zM60 19h1v1h-1zM69 19h1v1h-1zM71 19h1v1h-1zM73 19h3v1h-3zM77 19h1v1h-1zM81 19h1v1h-1zM88 19h2v1h-2zM111 19h2v1h-2zM114 19h2v1h-2zM0 20h2v1h-2zM5 20h1v1h-1zM10 20h2v1h-2zM19 20h2v1h-2zM33 20h1v1h-1zM39 20h1v1h-1zM48 20h1v1h-1zM50 20h1v1h-1zM57 20h2v1h-2zM60 20h1v1h-1zM65 20h1v1h-1zM72 20h1v1h-1zM75 20h1v1h-1zM80 20h1v1h-1zM93 20h1v1h-1zM108 20h1v1h-1zM2 21h1v1h-1zM5 21h1v1h-1zM17 21h1v1h-1zM23 21h1v1h-1zM32 21h2v1h-2zM40 21h1v1h-1zM43 21h1v1h-1zM66 21h1v1h-1zM71 21h1v1h-1zM81 21h1v1h-1zM89 21h1v1h-1zM92 21h1v1h-1zM94 21h1v1h-1zM100 21h1v1h-1zM102 21h1v1h-1zM105 21h1v1h-1zM116 21h1v1h-1zM3 22h1v1h-1zM7 22h1v1h-1zM21 22h1v1h-1zM23 22h1v1h-1zM63 22h1v1h-1zM65 22h1v1h-1zM88 22h1v1h-1zM98 22h1v1h-1zM100 22h1v1h-1zM112 22h1v1h-1zM117 22h1v1h-1zM19 23h1v1h-1zM21 23h1v1h-1zM23 23h1v1h-1zM28 23h1v1h-1zM30 23h1v1h-1zM33 23h1v1h-1zM39 23h1v1h-1zM46 23h1v1h-1zM59 23h1v1h-1zM63 23h1v1h-1zM76 23h1v1h-1zM86 23h1v1h-1zM94 23h1v1h-1zM5 24h2v1h-2zM12 24h1v1h-1zM24 24h1v1h-1zM44 24h1v1h-1zM61 24h1v1h-1zM66 24h2v1h-2zM81 24h1v1h-1zM83 24h1v1h-1zM91 24h3v1h-3zM99 24h2v1h-2zM102 24h1v1h-1zM5 25h1v1h-1zM10 25h1v1h-1zM17 25h1v1h-1zM20 25h1v1h-1zM22 25h1v1h-1zM25 25h1v1h-1zM31 25h1v1h-1zM36 25h1v1h-1zM42 25h1v1h-1zM46 25h1v1h-1zM63 25h1v1h-1zM66 25h3v1h-3zM83 25h1v1h-1zM93 25h1v1h-1zM107 25h2v1h-2zM112 25h1v1h-1zM118 25h1v1h-1zM124 25h1v1h-1zM0 26h2v1h-2zM3 26h3v1h-3zM10 26h1v1h-1zM15 26h2v1h-2zM18 26h1v1h-1zM22 26h1v1h-1zM24 26h1v1h-1zM48 26h1v1h-1zM68 26h1v1h-1zM76 26h3v1h-3zM84 26h2v1h-2zM90 26h1v1h-1zM93 26h1v1h-1zM98 26h1v1h-1zM117 26h1v1h-1zM5 27h1v1h-1zM16 27h1v1h-1zM27 27h1v1h-1zM44 27h1v1h-1zM52 27h1v1h-1zM63 27h1v1h-1zM66 27h1v1h-1zM70 27h1v1h-1zM86 27h1v1h-1zM90 27h1v1h-1zM92 27h1v1h-1zM95 27h2v1h-2zM105 27h1v1h-1zM120 27h1v1h-1zM5 28h1v1h-1zM8 28h2v1h-2zM21 28h1v1h-1zM23 28h1v1h-1zM29 28h2v1h-2zM35 28h1v1h-1zM40 28h1v1h-1zM69 28h1v1h-1zM91 28h1v1h-1zM98 28h1v1h-1zM107 28h2v1h-2zM116 28h1v1h-1zM120 28h1v1h-1zM11 29h1v1h-1zM27 29h2v1h-2zM32 29h1v1h-1zM35 29h1v1h-1zM47 29h1v1h-1zM52 29h1v1h-1zM54 29h1v1h-1zM64 29h1v1h-1zM69 29h1v1h-1zM92 29h2v1h-2zM102 29h1v1h-1zM106 29h1v1h-1zM116 29h1v1h-1zM124 29h1v1h-1zM19 30h1v1h-1zM29 30h1v1h-1zM33 30h1v1h-1zM35 30h1v1h-1zM37 30h1v1h-1zM50 30h2v1h-2zM54 30h1v1h-1zM58 30h2v1h-2zM63 30h1v1h-1zM69 30h1v1h-1zM89 30h1v1h-1zM16 31h1v1h-1zM29 31h1v1h-1zM34 31h1v1h-1zM44 31h1v1h-1zM55 31h1v1h-1zM59 31h1v1h-1zM68 31h1v1h-1zM81 31h1v1h-1zM90 31h1v1h-1zM122 31h3v1h-3zM17 32h1v1h-1zM28 32h1v1h-1zM41 32h1v1h-1zM62 32h1v1h-1zM101 32h1v1h-1zM113 32h1v1h-1zM115 32h2v1h-2zM120 32h1v1h-1zM124 32h1v1h-1zM4 33h2v1h-2zM13 33h1v1h-1zM43 33h1v1h-1zM48 33h1v1h-1zM50 33h1v1h-1zM59 33h1v1h-1zM66 33h2v1h-2zM87 33h1v1h-1zM103 33h1v1h-1zM109 33h1v1h-1zM115 33h1v1h-1zM118 33h1v1h-1zM123 33h4v1h-4zM43 34h1v1h-1zM50 34h1v1h-1zM56 34h1v1h-1zM62 34h1v1h-1zM89 34h1v1h-1zM94 34h1v1h-1zM98 34h1v1h-1zM105 34h1v1h-1zM109 34h1v1h-1zM125 34h2v1h-2zM2 35h1v1h-1zM13 35h1v1h-1zM28 35h1v1h-1zM34 35h1v1h-1zM45 35h2v1h-2zM56 35h2v1h-2zM59 35h1v1h-1zM61 35h1v1h-1zM66 35h1v1h-1zM85 35h2v1h-2zM94 35h1v1h-1zM96 35h1v1h-1zM98 35h1v1h-1zM106 35h1v1h-1zM110 35h1v1h-1zM120 35h1v1h-1zM124 35h1v1h-1zM0 36h2v1h-2zM6 36h1v1h-1zM23 36h1v1h-1zM35 36h1v1h-1zM59 36h1v1h-1zM64 36h1v1h-1zM81 36h3v1h-3zM88 36h1v1h-1zM105 36h1v1h-1zM124 36h1v1h-1zM0 37h2v1h-2zM6 37h1v1h-1zM23 37h1v1h-1zM35 37h1v1h-1zM59 37h1v1h-1zM64 37h1v1h-1zM81 37h3v1h-3zM88 37h1v1h-1zM105 37h1v1h-1zM124 37h1v1h-1z"/><path fill="#77d153" d="M5 0h1v1h-1zM20 0h1v1h-1zM24 0h1v1h-1zM35 0h1v1h-1zM49 0h1v1h-1zM77 0h1v1h-1zM80 0h1v1h-1zM83 0h1v1h-1zM85 0h1v1h-1zM87 0h1v1h-1zM105 0h1v1h-1zM118 0h2v1h-2zM125 0h2v1h-2zM5 1h1v1h-1zM20 1h1v1h-1zM24 1h1v1h-1zM35 1h1v1h-1zM49 1h1v1h-1zM77 1h1v1h-1zM80 1h1v1h-1zM83 1h1v1h-1zM85 1h1v1h-1zM87 1h1v1h-1zM105 1h1v1h-1zM118 1h2v1h-2zM125 1h2v1h-2zM2 2h1v1h-1zM10 2h2v1h-2zM13 2h1v1h-1zM15 2h1v1h-1zM31 2h1v1h-1zM34 2h1v1h-1zM41 2h1v1h-1zM45 2h1v1h-1zM54 2h1v1h-1zM58 2h2v1h-2zM74 2h1v1h-1zM76 2h1v1h-1zM90 2h1v1h-1zM93 2h1v1h-1zM96 2h1v1h-1zM0 3h2v1h-2zM10 3h1v1h-1zM28 3h1v1h-1zM31 3h1v1h-1zM39 3h1v1h-1zM41 3h1v1h-1zM65 3h1v1h-1zM68 3h1v1h-1zM70 3h2v1h-2zM76 3h1v1h-1zM78 3h2v1h-2zM88 3h1v1h-1zM95 3h2v1h-2zM99 3h1v1h-1zM109 3h1v1h-1zM3 4h1v1h-1zM19 4h1v1h-1zM24 4h1v1h-1zM32 4h1v1h-1zM38 4h1v1h-1zM44 4h1v1h-1zM77 4h1v1h-1zM84 4h2v1h-2zM89 4h2v1h-2zM95 4h1v1h-1zM99 4h1v1h-1zM102 4h1v1h-1zM108 4h1v1h-1zM13 5h1v1h-1zM19 5h1v1h-1zM26 5h1v1h-1zM31 5h1v1h-1zM34 5h2v1h-2zM43 5h2v1h-2zM46 5h1v1h-1zM59 5h2v1h-2zM72 5h1v1h-1zM95 5h2v1h-2zM100 5h4v1h-4zM112 5h1v1h-1zM20 6h1v1h-1zM24 6h1v1h-1zM27 6h1v1h-1zM34 6h1v1h-1zM40 6h1v1h-1zM48 6h1v1h-1zM58 6h1v1h-1zM71 6h1v1h-1zM81 6h1v1h-1zM83 6h1v1h-1zM87 6h1v1h-1zM90 6h1v1h-1zM92 6h1v1h-1zM96 6h1v1h-1zM123 6h1v1h-1zM11 7h2v1h-2zM14 7h1v1h-1zM31 7h1v1h-1zM37 7h1v1h-1zM42 7h1v1h-1zM79 7h1v1h-1zM94 7h1v1h-1zM99 7h1v1h-1zM102 7h2v1h-2zM112 7h1v1h-1zM114 7h1v1h-1zM11 8h1v1h-1zM13 8h1v1h-1zM18 8h1v1h-1zM25 8h1v1h-1zM34 8h1v1h-1zM40 8h1v1h-1zM42 8h2v1h-2zM52 8h1v1h-1zM58 8h1v1h-1zM63 8h1v1h-1zM74 8h1v1h-1zM76 8h1v1h-1zM89 8h1v1h-1zM103 8h1v1h-1zM115 8h1v1h-1zM14 9h1v1h-1zM22 9h2v1h-2zM32 9h2v1h-2zM37 9h1v1h-1zM42 9h1v1h-1zM50 9h2v1h-2zM59 9h1v1h-1zM68 9h1v1h-1zM70 9h1v1h-1zM74 9h1v1h-1zM82 9h2v1h-2zM86 9h1v1h-1zM89 9h1v1h-1zM94 9h1v1h-1zM97 9h1v1h-1zM7 10h1v1h-1zM14 10h1v1h-1zM22 10h1v1h-1zM30 10h1v1h-1zM34 10h1v1h-1zM42 10h1v1h-1zM46 10h1v1h-1zM51 10h1v1h-1zM57 10h1v1h-1zM62 10h2v1h-2zM65 10h1v1h-1zM68 10h1v1h-1zM71 10h1v1h-1zM73 10h1v1h-1zM79 10h1v1h-1zM81 10h1v1h-1zM84 10h1v1h-1zM90 10h1v1h-1zM92 10h1v1h-1zM97 10h1v1h-1zM101 10h1v1h-1zM3 11h1v1h-1zM12 11h1v1h-1zM17 11h1v1h-1zM21 11h1v1h-1zM26 11h2v1h-2zM35 11h1v1h-1zM38 11h2v1h-2zM50 11h1v1h-1zM57 11h2v1h-2zM68 11h1v1h-1zM74 11h1v1h-1zM107 11h1v1h-1zM3 12h1v1h-1zM17 12h1v1h-1zM26 12h1v1h-1zM30 12h1v1h-1zM33 12h1v1h-1zM35 12h1v1h-1zM39 12h2v1h-2zM46 12h3v1h-3zM73 12h1v1h-1zM77 12h1v1h-1zM79 12h1v1h-1zM88 12h2v1h-2zM97 12h3v1h-3zM2 13h1v1h-1zM5 13h2v1h-2zM14 13h1v1h-1zM20 13h1v1h-1zM23 13h1v1h-1zM27 13h1v1h-1zM53 13h1v1h-1zM55 13h1v1h-1zM60 13h1v1h-1zM62 13h2v1h-2zM69 13h1v1h-1zM74 13h1v1h-1zM77 13h1v1h-1zM88 13h1v1h-1zM90 13h1v1h-1zM4 14h1v1h-1zM6 14h1v1h-1zM15 14h1v1h-1zM24 14h1v1h-1zM26 14h1v1h-1zM43 14h1v1h-1zM58 14h1v1h-1zM66 14h1v1h-1zM106 14h1v1h-1zM110 14h1v1h-1zM14 15h1v1h-1zM16 15h1v1h-1zM18 15h1v1h-1zM20 15h1v1h-1zM22 15h1v1h-1zM27 15h2v1h-2zM31 15h2v1h-2zM34 15h1v1h-1zM44 15h1v1h-1zM58 15h1v1h-1zM60 15h3v1h-3zM72 15h1v1h-1zM123 15h1v1h-1zM125 15h2v1h-2zM5 16h1v1h-1zM8 16h1v1h-1zM14 16h1v1h-1zM23 16h1v1h-1zM39 16h1v1h-1zM55 16h2v1h-2zM59 16h1v1h-1zM65 16h1v1h-1zM68 16h2v1h-2zM73 16h2v1h-2zM77 16h1v1h-1zM89 16h1v1h-1zM123 16h1v1h-1zM125 16h2v1h-2zM6 17h1v1h-1zM8 17h1v1h-1zM19 17h1v1h-1zM27 17h1v1h-1zM33 17h4v1h-4zM38 17h1v1h-1zM45 17h1v1h-1zM55 17h2v1h-2zM69 17h1v1h-1zM79 17h1v1h-1zM88 17h1v1h-1zM94 17h1v1h-1zM109 17h1v1h-1zM114 17h2v1h-2zM119 17h1v1h-1zM125 17h2v1h-2zM0 18h3v1h-3zM13 18h1v1h-1zM18 18h1v1h-1zM20 18h1v1h-1zM37 18h2v1h-2zM60 18h1v1h-1zM63 18h1v1h-1zM89 18h1v1h-1zM93 18h2v1h-2zM109 18h1v1h-1zM6 19h1v1h-1zM16 19h1v1h-1zM23 19h1v1h-1zM32 19h2v1h-2zM38 19h1v1h-1zM53 19h1v1h-1zM61 19h1v1h-1zM79 19h1v1h-1zM91 19h1v1h-1zM94 19h4v1h-4zM102 19h1v1h-1zM108 19h1v1h-1zM16 20h1v1h-1zM21 20h2v1h-2zM26 20h1v1h-1zM29 20h1v1h-1zM40 20h2v1h-2zM45 20h1v1h-1zM54 20h2v1h-2zM59 20h1v1h-1zM74 20h1v1h-1zM86 20h1v1h-1zM90 20h1v1h-1zM101 20h1v1h-1zM112 20h1v1h-1zM8 21h1v1h-1zM15 21h1v1h-1zM20 21h1v1h-1zM26 21h3v1h-3zM37 21h1v1h-1zM53 21h2v1h-2zM59 21h1v1h-1zM61 21h1v1h-1zM75 21h1v1h-1zM86 21h1v1h-1zM90 21h1v1h-1zM111 21h1v1h-1zM113 21h2v1h-2zM6 22h1v1h-1zM10 22h1v1h-1zM14 22h1v1h-1zM18 22h1v1h-1zM20 22h1v1h-1zM26 22h1v1h-1zM50 22h1v1h-1zM58 22h1v1h-1zM61 22h1v1h-1zM64 22h1v1h-1zM67 22h2v1h-2zM70 22h3v1h-3zM94 22h2v1h-2zM111 22h1v1h-1zM113 22h1v1h-1zM6 23h1v1h-1zM8 23h1v1h-1zM10 23h1v1h-1zM20 23h1v1h-1zM31 23h1v1h-1zM34 23h1v1h-1zM43 23h1v1h-1zM45 23h1v1h-1zM60 23h1v1h-1zM67 23h1v1h-1zM71 23h1v1h-1zM77 23h1v1h-1zM81 23h2v1h-2zM84 23h1v1h-1zM89 23h1v1h-1zM93 23h1v1h-1zM2 24h3v1h-3zM7 24h1v1h-1zM10 24h1v1h-1zM16 24h1v1h-1zM20 24h1v1h-1zM22 24h1v1h-1zM47 24h1v1h-1zM51 24h1v1h-1zM57 24h1v1h-1zM86 24h1v1h-1zM88 24h1v1h-1zM90 24h1v1h-1zM97 24h1v1h-1zM110 24h1v1h-1zM119 24h1v1h-1zM124 24h3v1h-3zM2 25h1v1h-1zM9 25h1v1h-1zM12 25h1v1h-1zM15 25h1v1h-1zM18 25h1v1h-1zM35 25h1v1h-1zM51 25h1v1h-1zM57 25h1v1h-1zM62 25h1v1h-1zM65 25h1v1h-1zM69 25h1v1h-1zM73 25h1v1h-1zM77 25h1v1h-1zM82 25h1v1h-1zM89 25h1v1h-1zM91 25h1v1h-1zM97 25h1v1h-1zM110 25h1v1h-1zM14 26h1v1h-1zM17 26h1v1h-1zM19 26h3v1h-3zM23 26h1v1h-1zM35 26h1v1h-1zM49 26h1v1h-1zM67 26h1v1h-1zM79 26h1v1h-1zM91 26h1v1h-1zM108 26h1v1h-1zM10 27h1v1h-1zM14 27h1v1h-1zM18 27h1v1h-1zM20 27h1v1h-1zM28 27h1v1h-1zM30 27h1v1h-1zM36 27h1v1h-1zM38 27h1v1h-1zM46 27h1v1h-1zM50 27h2v1h-2zM68 27h1v1h-1zM79 27h1v1h-1zM119 27h1v1h-1zM36 28h1v1h-1zM42 28h2v1h-2zM49 28h1v1h-1zM64 28h1v1h-1zM71 28h1v1h-1zM79 28h1v1h-1zM90 28h1v1h-1zM92 28h2v1h-2zM113 28h1v1h-1zM123 28h1v1h-1zM4 29h1v1h-1zM15 29h1v1h-1zM18 29h1v1h-1zM25 29h1v1h-1zM31 29h1v1h-1zM38 29h1v1h-1zM41 29h1v1h-1zM58 29h1v1h-1zM62 29h2v1h-2zM68 29h1v1h-1zM70 29h1v1h-1zM99 29h1v1h-1zM101 29h1v1h-1zM108 29h1v1h-1zM111 29h1v1h-1zM120 29h1v1h-1zM3 30h1v1h-1zM24 30h2v1h-2zM27 30h1v1h-1zM47 30h2v1h-2zM53 30h1v1h-1zM57 30h1v1h-1zM61 30h2v1h-2zM65 30h1v1h-1zM74 30h1v1h-1zM80 30h1v1h-1zM85 30h1v1h-1zM92 30h1v1h-1zM101 30h2v1h-2zM116 30h1v1h-1zM31 31h2v1h-2zM37 31h4v1h-4zM50 31h1v1h-1zM53 31h2v1h-2zM62 31h2v1h-2zM70 31h1v1h-1zM92 31h4v1h-4zM101 31h1v1h-1zM4 32h1v1h-1zM16 32h1v1h-1zM37 32h1v1h-1zM42 32h1v1h-1zM48 32h1v1h-1zM50 32h1v1h-1zM54 32h3v1h-3zM70 32h1v1h-1zM90 32h4v1h-4zM95 32h1v1h-1zM103 32h1v1h-1zM107 32h2v1h-2zM19 33h1v1h-1zM23 33h2v1h-2zM26 33h1v1h-1zM28 33h1v1h-1zM35 33h2v1h-2zM40 33h2v1h-2zM44 33h1v1h-1zM49 33h1v1h-1zM51 33h1v1h-1zM54 33h1v1h-1zM62 33h2v1h-2zM85 33h1v1h-1zM92 33h1v1h-1zM98 33h1v1h-1zM108 33h1v1h-1zM111 33h1v1h-1zM117 33h1v1h-1zM13 34h1v1h-1zM26 34h1v1h-1zM40 34h1v1h-1zM44 34h1v1h-1zM49 34h1v1h-1zM51 34h1v1h-1zM54 34h2v1h-2zM58 34h1v1h-1zM61 34h1v1h-1zM65 34h2v1h-2zM79 34h1v1h-1zM85 34h1v1h-1zM93 34h1v1h-1zM96 34h1v1h-1zM99 34h1v1h-1zM108 34h1v1h-1zM118 34h3v1h-3zM122 34h2v1h-2zM0 35h2v1h-2zM4 35h1v1h-1zM21 35h1v1h-1zM30 35h1v1h-1zM35 35h1v1h-1zM47 35h1v1h-1zM55 35h1v1h-1zM62 35h1v1h-1zM65 35h1v1h-1zM67 35h1v1h-1zM84 35h1v1h-1zM87 35h1v1h-1zM92 35h1v1h-1zM105 35h1v1h-1zM114 35h1v1h-1zM119 35h1v1h-1zM121 35h2v1h-2zM2 36h2v1h-2zM9 36h1v1h-1zM12 36h2v1h-2zM31 36h1v1h-1zM36 36h1v1h-1zM46 36h1v1h-1zM49 36h1v1h-1zM52 36h1v1h-1zM63 36h1v1h-1zM90 36h1v1h-1zM121 36h1v1h-1zM2 37h2v1h-2zM9 37h1v1h-1zM12 37h2v1h-2zM31 37h1v1h-1zM36 37h1v1h-1zM46 37h1v1h-1zM49 37h1v1h-1zM52 37h1v1h-1zM63 37h1v1h-1zM90 37h1v1h-1zM121 37h1v1h-1z"/><path fill="#86d549" d="M12 0h1v1h-1zM27 0h1v1h-1zM41 0h1v1h-1zM46 0h1v1h-1zM48 0h1v1h-1zM64 0h1v1h-1zM75 0h1v1h-1zM79 0h1v1h-1zM90 0h1v1h-1zM104 0h1v1h-1zM12 1h1v1h-1zM27 1h1v1h-1zM41 1h1v1h-1zM46 1h1v1h-1zM48 1h1v1h-1zM64 1h1v1h-1zM75 1h1v1h-1zM79 1h1v1h-1zM90 1h1v1h-1zM104 1h1v1h-1zM9 2h1v1h-1zM12 2h1v1h-1zM23 2h1v1h-1zM26 2h1v1h-1zM44 2h1v1h-1zM47 2h1v1h-1zM49 2h1v1h-1zM65 2h1v1h-1zM70 2h1v1h-1zM85 2h1v1h-1zM87 2h1v1h-1zM8 3h1v1h-1zM24 3h1v1h-1zM26 3h1v1h-1zM30 3h1v1h-1zM52 3h2v1h-2zM58 3h1v1h-1zM60 3h1v1h-1zM67 3h1v1h-1zM69 3h1v1h-1zM73 3h1v1h-1zM75 3h1v1h-1zM77 3h1v1h-1zM80 3h1v1h-1zM85 3h3v1h-3zM89 3h2v1h-2zM97 3h2v1h-2zM100 3h1v1h-1zM105 3h1v1h-1zM9 4h1v1h-1zM12 4h1v1h-1zM41 4h2v1h-2zM60 4h1v1h-1zM63 4h1v1h-1zM70 4h1v1h-1zM74 4h3v1h-3zM91 4h1v1h-1zM103 4h1v1h-1zM105 4h1v1h-1zM109 4h1v1h-1zM3 5h1v1h-1zM7 5h1v1h-1zM24 5h1v1h-1zM37 5h2v1h-2zM56 5h1v1h-1zM58 5h1v1h-1zM61 5h2v1h-2zM71 5h1v1h-1zM75 5h1v1h-1zM77 5h1v1h-1zM88 5h1v1h-1zM91 5h1v1h-1zM97 5h1v1h-1zM123 5h1v1h-1zM14 6h1v1h-1zM18 6h1v1h-1zM25 6h2v1h-2zM29 6h1v1h-1zM36 6h1v1h-1zM39 6h1v1h-1zM42 6h1v1h-1zM46 6h1v1h-1zM51 6h1v1h-1zM62 6h1v1h-1zM70 6h1v1h-1zM74 6h2v1h-2zM84 6h1v1h-1zM97 6h2v1h-2zM10 7h1v1h-1zM18 7h1v1h-1zM24 7h1v1h-1zM38 7h1v1h-1zM43 7h1v1h-1zM61 7h2v1h-2zM69 7h2v1h-2zM123 7h1v1h-1zM19 8h1v1h-1zM22 8h2v1h-2zM35 8h3v1h-3zM41 8h1v1h-1zM57 8h1v1h-1zM59 8h1v1h-1zM61 8h2v1h-2zM66 8h1v1h-1zM68 8h1v1h-1zM78 8h1v1h-1zM81 8h2v1h-2zM84 8h1v1h-1zM88 8h1v1h-1zM90 8h1v1h-1zM95 8h1v1h-1zM98 8h4v1h-4zM0 9h2v1h-2zM3 9h1v1h-1zM10 9h1v1h-1zM13 9h1v1h-1zM30 9h1v1h-1zM36 9h1v1h-1zM46 9h1v1h-1zM56 9h1v1h-1zM63 9h1v1h-1zM73 9h1v1h-1zM78 9h1v1h-1zM85 9h1v1h-1zM95 9h1v1h-1zM98 9h1v1h-1zM3 10h1v1h-1zM9 10h2v1h-2zM12 10h1v1h-1zM15 10h1v1h-1zM19 10h1v1h-1zM36 10h2v1h-2zM47 10h1v1h-1zM64 10h1v1h-1zM74 10h1v1h-1zM85 10h2v1h-2zM91 10h1v1h-1zM95 10h1v1h-1zM100 10h1v1h-1zM4 11h1v1h-1zM10 11h1v1h-1zM13 11h1v1h-1zM34 11h1v1h-1zM43 11h2v1h-2zM56 11h1v1h-1zM65 11h1v1h-1zM70 11h2v1h-2zM80 11h1v1h-1zM87 11h1v1h-1zM97 11h1v1h-1zM118 11h1v1h-1zM7 12h1v1h-1zM15 12h1v1h-1zM18 12h2v1h-2zM25 12h1v1h-1zM31 12h1v1h-1zM41 12h1v1h-1zM43 12h1v1h-1zM45 12h1v1h-1zM52 12h2v1h-2zM62 12h1v1h-1zM64 12h1v1h-1zM69 12h2v1h-2zM72 12h1v1h-1zM75 12h1v1h-1zM3 13h2v1h-2zM13 13h1v1h-1zM19 13h1v1h-1zM35 13h1v1h-1zM37 13h2v1h-2zM43 13h1v1h-1zM64 13h1v1h-1zM72 13h1v1h-1zM78 13h1v1h-1zM3 14h1v1h-1zM9 14h1v1h-1zM11 14h1v1h-1zM13 14h1v1h-1zM16 14h1v1h-1zM23 14h1v1h-1zM29 14h1v1h-1zM32 14h1v1h-1zM34 14h1v1h-1zM57 14h1v1h-1zM67 14h1v1h-1zM70 14h1v1h-1zM74 14h1v1h-1zM77 14h1v1h-1zM88 14h1v1h-1zM111 14h1v1h-1zM0 15h2v1h-2zM6 15h1v1h-1zM23 15h4v1h-4zM35 15h1v1h-1zM41 15h1v1h-1zM67 15h1v1h-1zM69 15h1v1h-1zM71 15h1v1h-1zM73 15h3v1h-3zM6 16h1v1h-1zM9 16h1v1h-1zM15 16h1v1h-1zM18 16h1v1h-1zM26 16h1v1h-1zM35 16h1v1h-1zM44 16h1v1h-1zM52 16h1v1h-1zM54 16h1v1h-1zM58 16h1v1h-1zM75 16h1v1h-1zM124 16h1v1h-1zM7 17h1v1h-1zM22 17h1v1h-1zM32 17h1v1h-1zM42 17h1v1h-1zM44 17h1v1h-1zM48 17h1v1h-1zM52 17h1v1h-1zM59 17h1v1h-1zM77 17h1v1h-1zM4 18h1v1h-1zM6 18h2v1h-2zM19 18h1v1h-1zM46 18h1v1h-1zM53 18h1v1h-1zM58 18h2v1h-2zM76 18h1v1h-1zM79 18h1v1h-1zM88 18h1v1h-1zM90 18h1v1h-1zM98 18h1v1h-1zM114 18h1v1h-1zM124 18h3v1h-3zM0 19h2v1h-2zM5 19h1v1h-1zM20 19h1v1h-1zM31 19h1v1h-1zM35 19h1v1h-1zM42 19h1v1h-1zM58 19h1v1h-1zM65 19h1v1h-1zM76 19h1v1h-1zM80 19h1v1h-1zM92 19h1v1h-1zM109 19h2v1h-2zM123 19h1v1h-1zM32 20h1v1h-1zM34 20h1v1h-1zM37 20h2v1h-2zM42 20h1v1h-1zM44 20h1v1h-1zM52 20h1v1h-1zM62 20h1v1h-1zM68 20h1v1h-1zM77 20h1v1h-1zM79 20h1v1h-1zM0 21h2v1h-2zM4 21h1v1h-1zM19 21h1v1h-1zM24 21h1v1h-1zM34 21h1v1h-1zM38 21h1v1h-1zM44 21h1v1h-1zM49 21h2v1h-2zM55 21h3v1h-3zM63 21h2v1h-2zM70 21h1v1h-1zM76 21h1v1h-1zM80 21h1v1h-1zM85 21h1v1h-1zM91 21h1v1h-1zM93 21h1v1h-1zM112 21h1v1h-1zM120 21h2v1h-2zM5 22h1v1h-1zM9 22h1v1h-1zM11 22h1v1h-1zM24 22h2v1h-2zM34 22h1v1h-1zM36 22h1v1h-1zM39 22h3v1h-3zM44 22h2v1h-2zM55 22h1v1h-1zM57 22h1v1h-1zM62 22h1v1h-1zM76 22h1v1h-1zM78 22h1v1h-1zM80 22h1v1h-1zM82 22h1v1h-1zM116 22h1v1h-1zM5 23h1v1h-1zM7 23h1v1h-1zM11 23h1v1h-1zM13 23h1v1h-1zM37 23h1v1h-1zM50 23h1v1h-1zM54 23h2v1h-2zM64 23h1v1h-1zM70 23h1v1h-1zM75 23h1v1h-1zM80 23h1v1h-1zM83 23h1v1h-1zM95 23h1v1h-1zM101 23h1v1h-1zM9 24h1v1h-1zM14 24h2v1h-2zM19 24h1v1h-1zM31 24h4v1h-4zM37 24h1v1h-1zM46 24h1v1h-1zM59 24h1v1h-1zM69 24h3v1h-3zM77 24h1v1h-1zM84 24h1v1h-1zM89 24h1v1h-1zM95 24h1v1h-1zM106 24h1v1h-1zM112 24h1v1h-1zM13 25h1v1h-1zM16 25h1v1h-1zM24 25h1v1h-1zM39 25h2v1h-2zM47 25h3v1h-3zM56 25h1v1h-1zM61 25h1v1h-1zM64 25h1v1h-1zM70 25h1v1h-1zM74 25h1v1h-1zM76 25h1v1h-1zM85 25h1v1h-1zM96 25h1v1h-1zM2 26h1v1h-1zM27 26h1v1h-1zM38 26h1v1h-1zM41 26h2v1h-2zM50 26h1v1h-1zM53 26h1v1h-1zM57 26h1v1h-1zM60 26h1v1h-1zM62 26h1v1h-1zM65 26h1v1h-1zM83 26h1v1h-1zM87 26h2v1h-2zM94 26h2v1h-2zM97 26h1v1h-1zM110 26h1v1h-1zM3 27h1v1h-1zM15 27h1v1h-1zM17 27h1v1h-1zM21 27h3v1h-3zM26 27h1v1h-1zM29 27h1v1h-1zM35 27h1v1h-1zM37 27h1v1h-1zM40 27h1v1h-1zM47 27h1v1h-1zM54 27h2v1h-2zM64 27h1v1h-1zM84 27h2v1h-2zM93 27h2v1h-2zM109 27h2v1h-2zM17 28h1v1h-1zM24 28h1v1h-1zM31 28h1v1h-1zM37 28h1v1h-1zM46 28h1v1h-1zM50 28h1v1h-1zM53 28h3v1h-3zM59 28h1v1h-1zM63 28h1v1h-1zM66 28h1v1h-1zM75 28h1v1h-1zM77 28h1v1h-1zM85 28h1v1h-1zM87 28h1v1h-1zM94 28h1v1h-1zM112 28h1v1h-1zM3 29h1v1h-1zM16 29h2v1h-2zM24 29h1v1h-1zM40 29h1v1h-1zM45 29h1v1h-1zM59 29h1v1h-1zM65 29h1v1h-1zM73 29h2v1h-2zM89 29h1v1h-1zM100 29h1v1h-1zM109 29h2v1h-2zM2 30h1v1h-1zM15 30h1v1h-1zM31 30h1v1h-1zM34 30h1v1h-1zM41 30h1v1h-1zM43 30h1v1h-1zM45 30h1v1h-1zM55 30h2v1h-2zM70 30h1v1h-1zM91 30h1v1h-1zM93 30h1v1h-1zM107 30h1v1h-1zM4 31h1v1h-1zM15 31h1v1h-1zM19 31h1v1h-1zM42 31h1v1h-1zM45 31h1v1h-1zM48 31h2v1h-2zM52 31h1v1h-1zM80 31h1v1h-1zM89 31h1v1h-1zM91 31h1v1h-1zM97 31h1v1h-1zM103 31h1v1h-1zM106 31h1v1h-1zM0 32h2v1h-2zM5 32h2v1h-2zM18 32h1v1h-1zM31 32h1v1h-1zM35 32h1v1h-1zM45 32h1v1h-1zM49 32h1v1h-1zM73 32h1v1h-1zM82 32h2v1h-2zM86 32h1v1h-1zM94 32h1v1h-1zM96 32h1v1h-1zM102 32h1v1h-1zM11 33h1v1h-1zM27 33h1v1h-1zM30 33h1v1h-1zM34 33h1v1h-1zM37 33h1v1h-1zM45 33h1v1h-1zM78 33h1v1h-1zM80 33h1v1h-1zM89 33h1v1h-1zM93 33h1v1h-1zM96 33h2v1h-2zM122 33h1v1h-1zM12 34h1v1h-1zM19 34h2v1h-2zM31 34h1v1h-1zM37 34h1v1h-1zM48 34h1v1h-1zM53 34h1v1h-1zM59 34h2v1h-2zM69 34h1v1h-1zM83 34h1v1h-1zM86 34h2v1h-2zM95 34h1v1h-1zM106 34h1v1h-1zM110 34h2v1h-2zM3 35h1v1h-1zM7 35h1v1h-1zM29 35h1v1h-1zM36 35h2v1h-2zM50 35h1v1h-1zM54 35h1v1h-1zM63 35h2v1h-2zM68 35h2v1h-2zM89 35h1v1h-1zM104 35h1v1h-1zM4 36h1v1h-1zM7 36h2v1h-2zM18 36h2v1h-2zM32 36h1v1h-1zM47 36h1v1h-1zM50 36h2v1h-2zM55 36h1v1h-1zM60 36h1v1h-1zM65 36h1v1h-1zM69 36h3v1h-3zM74 36h1v1h-1zM80 36h1v1h-1zM119 36h1v1h-1zM122 36h2v1h-2zM4 37h1v1h-1zM7 37h2v1h-2zM18 37h2v1h-2zM32 37h1v1h-1zM47 37h1v1h-1zM50 37h2v1h-2zM55 37h1v1h-1zM60 37h1v1h-1zM65 37h1v1h-1zM69 37h3v1h-3zM74 37h1v1h-1zM80 37h1v1h-1zM119 37h1v1h-1zM122 37h2v1h-2z"/><path fill="#93d741" d="M16 0h1v1h-1zM21 0h2v1h-2zM26 0h1v1h-1zM32 0h1v1h-1zM34 0h1v1h-1zM40 0h1v1h-1zM42 0h1v1h-1zM50 0h1v1h-1zM54 0h1v1h-1zM60 0h1v1h-1zM73 0h1v1h-1zM16 1h1v1h-1zM21 1h2v1h-2zM26 1h1v1h-1zM32 1h1v1h-1zM34 1h1v1h-1zM40 1h1v1h-1zM42 1h1v1h-1zM50 1h1v1h-1zM54 1h1v1h-1zM60 1h1v1h-1zM73 1h1v1h-1zM24 2h1v1h-1zM32 2h2v1h-2zM42 2h1v1h-1zM51 2h1v1h-1zM57 2h1v1h-1zM64 2h1v1h-1zM71 2h1v1h-1zM73 2h1v1h-1zM77 2h1v1h-1zM79 2h1v1h-1zM84 2h1v1h-1zM89 2h1v1h-1zM105 2h1v1h-1zM108 2h1v1h-1zM2 3h1v1h-1zM7 3h1v1h-1zM18 3h1v1h-1zM25 3h1v1h-1zM44 3h1v1h-1zM64 3h1v1h-1zM66 3h1v1h-1zM72 3h1v1h-1zM91 3h1v1h-1zM6 4h3v1h-3zM15 4h1v1h-1zM31 4h1v1h-1zM40 4h1v1h-1zM53 4h4v1h-4zM62 4h1v1h-1zM66 4h1v1h-1zM69 4h1v1h-1zM87 4h1v1h-1zM96 4h1v1h-1zM98 4h1v1h-1zM100 4h1v1h-1zM2 5h1v1h-1zM4 5h3v1h-3zM9 5h1v1h-1zM27 5h1v1h-1zM36 5h1v1h-1zM41 5h1v1h-1zM52 5h1v1h-1zM63 5h1v1h-1zM68 5h1v1h-1zM73 5h1v1h-1zM90 5h1v1h-1zM98 5h1v1h-1zM8 6h1v1h-1zM38 6h1v1h-1zM53 6h2v1h-2zM60 6h1v1h-1zM68 6h1v1h-1zM73 6h1v1h-1zM77 6h1v1h-1zM88 6h1v1h-1zM99 6h1v1h-1zM19 7h2v1h-2zM22 7h1v1h-1zM29 7h1v1h-1zM32 7h2v1h-2zM54 7h1v1h-1zM59 7h1v1h-1zM63 7h1v1h-1zM66 7h1v1h-1zM71 7h1v1h-1zM73 7h1v1h-1zM78 7h1v1h-1zM82 7h1v1h-1zM87 7h1v1h-1zM89 7h1v1h-1zM95 7h1v1h-1zM101 7h1v1h-1zM56 8h1v1h-1zM64 8h2v1h-2zM71 8h2v1h-2zM83 8h1v1h-1zM85 8h2v1h-2zM97 8h1v1h-1zM102 8h1v1h-1zM21 9h1v1h-1zM35 9h1v1h-1zM43 9h2v1h-2zM47 9h2v1h-2zM60 9h1v1h-1zM88 9h1v1h-1zM91 9h1v1h-1zM100 9h3v1h-3zM4 10h1v1h-1zM21 10h1v1h-1zM23 10h1v1h-1zM35 10h1v1h-1zM38 10h1v1h-1zM70 10h1v1h-1zM88 10h2v1h-2zM5 11h3v1h-3zM18 11h1v1h-1zM64 11h1v1h-1zM72 11h2v1h-2zM79 11h1v1h-1zM89 11h1v1h-1zM12 12h3v1h-3zM27 12h1v1h-1zM49 12h1v1h-1zM71 12h1v1h-1zM9 13h1v1h-1zM26 13h1v1h-1zM40 13h2v1h-2zM54 13h1v1h-1zM56 13h1v1h-1zM58 13h1v1h-1zM86 13h1v1h-1zM0 14h2v1h-2zM25 14h1v1h-1zM27 14h1v1h-1zM35 14h1v1h-1zM39 14h1v1h-1zM41 14h1v1h-1zM44 14h1v1h-1zM63 14h1v1h-1zM68 14h1v1h-1zM13 15h1v1h-1zM19 15h1v1h-1zM50 15h1v1h-1zM70 15h1v1h-1zM76 15h1v1h-1zM3 16h1v1h-1zM21 16h1v1h-1zM27 16h1v1h-1zM31 16h1v1h-1zM46 16h1v1h-1zM76 16h1v1h-1zM2 17h1v1h-1zM18 17h1v1h-1zM24 17h1v1h-1zM40 17h1v1h-1zM49 17h1v1h-1zM54 17h1v1h-1zM67 17h1v1h-1zM91 17h1v1h-1zM95 17h1v1h-1zM105 17h1v1h-1zM123 17h1v1h-1zM3 18h1v1h-1zM25 18h2v1h-2zM31 18h3v1h-3zM40 18h3v1h-3zM45 18h1v1h-1zM49 18h1v1h-1zM54 18h1v1h-1zM57 18h1v1h-1zM75 18h1v1h-1zM80 18h1v1h-1zM21 19h1v1h-1zM45 19h1v1h-1zM54 19h1v1h-1zM63 19h2v1h-2zM24 20h1v1h-1zM31 20h1v1h-1zM36 20h1v1h-1zM46 20h1v1h-1zM49 20h1v1h-1zM53 20h1v1h-1zM63 20h1v1h-1zM66 20h1v1h-1zM89 20h1v1h-1zM91 20h2v1h-2zM111 20h1v1h-1zM10 21h1v1h-1zM18 21h1v1h-1zM41 21h1v1h-1zM45 21h1v1h-1zM72 21h2v1h-2zM2 22h1v1h-1zM12 22h1v1h-1zM37 22h1v1h-1zM56 22h1v1h-1zM77 22h1v1h-1zM97 22h1v1h-1zM3 23h1v1h-1zM12 23h1v1h-1zM15 23h1v1h-1zM29 23h1v1h-1zM41 23h1v1h-1zM47 23h1v1h-1zM57 23h1v1h-1zM68 23h1v1h-1zM72 23h1v1h-1zM78 23h1v1h-1zM88 23h1v1h-1zM98 23h1v1h-1zM107 23h1v1h-1zM17 24h1v1h-1zM27 24h2v1h-2zM30 24h1v1h-1zM36 24h1v1h-1zM38 24h1v1h-1zM48 24h1v1h-1zM53 24h1v1h-1zM56 24h1v1h-1zM58 24h1v1h-1zM72 24h4v1h-4zM78 24h2v1h-2zM85 24h1v1h-1zM94 24h1v1h-1zM96 24h1v1h-1zM107 24h1v1h-1zM111 24h1v1h-1zM4 25h1v1h-1zM6 25h1v1h-1zM11 25h1v1h-1zM19 25h1v1h-1zM21 25h1v1h-1zM28 25h1v1h-1zM55 25h1v1h-1zM71 25h1v1h-1zM78 25h1v1h-1zM81 25h1v1h-1zM90 25h1v1h-1zM95 25h1v1h-1zM6 26h1v1h-1zM26 26h1v1h-1zM32 26h2v1h-2zM36 26h2v1h-2zM45 26h3v1h-3zM56 26h1v1h-1zM81 26h2v1h-2zM89 26h1v1h-1zM96 26h1v1h-1zM111 26h1v1h-1zM0 27h3v1h-3zM4 27h1v1h-1zM11 27h1v1h-1zM19 27h1v1h-1zM39 27h1v1h-1zM42 27h1v1h-1zM45 27h1v1h-1zM53 27h1v1h-1zM62 27h1v1h-1zM65 27h1v1h-1zM76 27h1v1h-1zM88 27h1v1h-1zM112 27h1v1h-1zM4 28h1v1h-1zM10 28h1v1h-1zM14 28h1v1h-1zM27 28h2v1h-2zM34 28h1v1h-1zM41 28h1v1h-1zM45 28h1v1h-1zM60 28h1v1h-1zM62 28h1v1h-1zM67 28h1v1h-1zM80 28h1v1h-1zM86 28h1v1h-1zM111 28h1v1h-1zM5 29h1v1h-1zM8 29h1v1h-1zM26 29h1v1h-1zM33 29h2v1h-2zM37 29h1v1h-1zM39 29h1v1h-1zM43 29h1v1h-1zM53 29h1v1h-1zM55 29h1v1h-1zM57 29h1v1h-1zM66 29h2v1h-2zM71 29h2v1h-2zM77 29h1v1h-1zM79 29h1v1h-1zM81 29h1v1h-1zM87 29h2v1h-2zM112 29h1v1h-1zM6 30h2v1h-2zM12 30h1v1h-1zM36 30h1v1h-1zM38 30h2v1h-2zM44 30h1v1h-1zM66 30h1v1h-1zM71 30h1v1h-1zM87 30h2v1h-2zM0 31h2v1h-2zM10 31h1v1h-1zM12 31h1v1h-1zM35 31h1v1h-1zM41 31h1v1h-1zM43 31h1v1h-1zM46 31h1v1h-1zM83 31h2v1h-2zM7 32h1v1h-1zM11 32h1v1h-1zM32 32h2v1h-2zM38 32h1v1h-1zM43 32h1v1h-1zM52 32h2v1h-2zM75 32h1v1h-1zM80 32h1v1h-1zM84 32h2v1h-2zM97 32h1v1h-1zM10 33h1v1h-1zM12 33h1v1h-1zM14 33h2v1h-2zM17 33h2v1h-2zM31 33h2v1h-2zM47 33h1v1h-1zM52 33h1v1h-1zM69 33h1v1h-1zM73 33h1v1h-1zM75 33h1v1h-1zM82 33h1v1h-1zM86 33h1v1h-1zM88 33h1v1h-1zM90 33h1v1h-1zM95 33h1v1h-1zM107 33h1v1h-1zM30 34h1v1h-1zM34 34h1v1h-1zM38 34h1v1h-1zM45 34h1v1h-1zM52 34h1v1h-1zM64 34h1v1h-1zM71 34h1v1h-1zM73 34h1v1h-1zM84 34h1v1h-1zM90 34h1v1h-1zM8 35h1v1h-1zM12 35h1v1h-1zM14 35h1v1h-1zM19 35h2v1h-2zM38 35h2v1h-2zM48 35h1v1h-1zM58 35h1v1h-1zM60 35h1v1h-1zM70 35h2v1h-2zM78 35h1v1h-1zM82 35h2v1h-2zM90 35h2v1h-2zM93 35h1v1h-1zM95 35h1v1h-1zM10 36h1v1h-1zM20 36h1v1h-1zM33 36h1v1h-1zM39 36h1v1h-1zM53 36h2v1h-2zM68 36h1v1h-1zM72 36h1v1h-1zM75 36h1v1h-1zM79 36h1v1h-1zM84 36h1v1h-1zM91 36h1v1h-1zM10 37h1v1h-1zM20 37h1v1h-1zM33 37h1v1h-1zM39 37h1v1h-1zM53 37h2v1h-2zM68 37h1v1h-1zM72 37h1v1h-1zM75 37h1v1h-1zM79 37h1v1h-1zM84 37h1v1h-1zM91 37h1v1h-1z"/><path fill="#a0da39" d="M6 0h3v1h-3zM23 0h1v1h-1zM33 0h1v1h-1zM61 0h3v1h-3zM78 0h1v1h-1zM108 0h2v1h-2zM6 1h3v1h-3zM23 1h1v1h-1zM33 1h1v1h-1zM61 1h3v1h-3zM78 1h1v1h-1zM108 1h2v1h-2zM7 2h1v1h-1zM43 2h1v1h-1zM50 2h1v1h-1zM60 2h1v1h-1zM72 2h1v1h-1zM80 2h1v1h-1zM88 2h1v1h-1zM106 2h1v1h-1zM6 3h1v1h-1zM27 3h1v1h-1zM42 3h2v1h-2zM50 3h1v1h-1zM55 3h1v1h-1zM62 3h1v1h-1zM17 4h1v1h-1zM26 4h1v1h-1zM61 4h1v1h-1zM65 4h1v1h-1zM8 5h1v1h-1zM18 5h1v1h-1zM39 5h1v1h-1zM42 5h1v1h-1zM53 5h1v1h-1zM55 5h1v1h-1zM64 5h1v1h-1zM76 5h1v1h-1zM89 5h1v1h-1zM99 5h1v1h-1zM3 6h5v1h-5zM9 6h1v1h-1zM19 6h1v1h-1zM37 6h1v1h-1zM43 6h1v1h-1zM52 6h1v1h-1zM55 6h2v1h-2zM59 6h1v1h-1zM61 6h1v1h-1zM69 6h1v1h-1zM72 6h1v1h-1zM89 6h1v1h-1zM4 7h1v1h-1zM8 7h2v1h-2zM34 7h1v1h-1zM55 7h1v1h-1zM60 7h1v1h-1zM65 7h1v1h-1zM67 7h1v1h-1zM81 7h1v1h-1zM97 7h2v1h-2zM0 8h3v1h-3zM10 8h1v1h-1zM31 8h3v1h-3zM51 8h1v1h-1zM60 8h1v1h-1zM70 8h1v1h-1zM87 8h1v1h-1zM96 8h1v1h-1zM4 9h1v1h-1zM31 9h1v1h-1zM34 9h1v1h-1zM45 9h1v1h-1zM62 9h1v1h-1zM69 9h1v1h-1zM96 9h1v1h-1zM6 10h1v1h-1zM8 10h1v1h-1zM20 10h1v1h-1zM44 10h1v1h-1zM50 10h1v1h-1zM15 11h1v1h-1zM19 11h2v1h-2zM46 11h2v1h-2zM61 11h1v1h-1zM63 11h1v1h-1zM32 12h1v1h-1zM58 12h1v1h-1zM7 13h1v1h-1zM15 13h1v1h-1zM24 13h2v1h-2zM57 13h1v1h-1zM67 13h2v1h-2zM75 13h2v1h-2zM2 14h1v1h-1zM7 14h1v1h-1zM17 14h1v1h-1zM75 14h1v1h-1zM2 15h2v1h-2zM7 15h2v1h-2zM40 15h1v1h-1zM43 15h1v1h-1zM68 15h1v1h-1zM0 16h3v1h-3zM7 16h1v1h-1zM22 16h1v1h-1zM32 16h1v1h-1zM36 16h1v1h-1zM42 16h1v1h-1zM105 16h1v1h-1zM0 17h2v1h-2zM3 17h1v1h-1zM14 17h1v1h-1zM21 17h1v1h-1zM25 17h1v1h-1zM43 17h1v1h-1zM47 17h1v1h-1zM50 17h2v1h-2zM58 17h1v1h-1zM76 17h1v1h-1zM106 17h1v1h-1zM39 18h1v1h-1zM44 18h1v1h-1zM51 18h2v1h-2zM22 19h1v1h-1zM36 19h2v1h-2zM40 19h2v1h-2zM48 19h1v1h-1zM50 19h3v1h-3zM59 19h1v1h-1zM90 19h1v1h-1zM93 19h1v1h-1zM25 20h1v1h-1zM35 20h1v1h-1zM47 20h1v1h-1zM64 20h1v1h-1zM70 20h1v1h-1zM35 21h2v1h-2zM39 21h1v1h-1zM42 21h1v1h-1zM52 21h1v1h-1zM62 21h1v1h-1zM69 21h1v1h-1zM74 21h1v1h-1zM4 22h1v1h-1zM38 22h1v1h-1zM42 22h1v1h-1zM52 22h3v1h-3zM75 22h1v1h-1zM81 22h1v1h-1zM102 22h1v1h-1zM17 23h1v1h-1zM27 23h1v1h-1zM36 23h1v1h-1zM38 23h1v1h-1zM48 23h2v1h-2zM51 23h1v1h-1zM53 23h1v1h-1zM56 23h1v1h-1zM69 23h1v1h-1zM79 23h1v1h-1zM85 23h1v1h-1zM11 24h1v1h-1zM21 24h1v1h-1zM29 24h1v1h-1zM52 24h1v1h-1zM54 24h1v1h-1zM80 24h1v1h-1zM14 25h1v1h-1zM27 25h1v1h-1zM29 25h1v1h-1zM32 25h1v1h-1zM53 25h1v1h-1zM79 25h2v1h-2zM94 25h1v1h-1zM25 26h1v1h-1zM29 26h1v1h-1zM31 26h1v1h-1zM34 26h1v1h-1zM39 26h1v1h-1zM58 26h1v1h-1zM61 26h1v1h-1zM64 26h1v1h-1zM69 26h2v1h-2zM72 26h1v1h-1zM112 26h1v1h-1zM24 27h2v1h-2zM33 27h2v1h-2zM41 27h1v1h-1zM60 27h2v1h-2zM67 27h1v1h-1zM71 27h1v1h-1zM83 27h1v1h-1zM87 27h1v1h-1zM2 28h1v1h-1zM11 28h1v1h-1zM15 28h1v1h-1zM32 28h1v1h-1zM39 28h1v1h-1zM58 28h1v1h-1zM76 28h1v1h-1zM84 28h1v1h-1zM89 28h1v1h-1zM10 29h1v1h-1zM14 29h1v1h-1zM44 29h1v1h-1zM56 29h1v1h-1zM60 29h2v1h-2zM78 29h1v1h-1zM80 29h1v1h-1zM85 29h2v1h-2zM0 30h2v1h-2zM5 30h1v1h-1zM10 30h1v1h-1zM14 30h1v1h-1zM42 30h1v1h-1zM72 30h2v1h-2zM81 30h2v1h-2zM84 30h1v1h-1zM86 30h1v1h-1zM100 30h1v1h-1zM2 31h1v1h-1zM6 31h3v1h-3zM47 31h1v1h-1zM71 31h2v1h-2zM77 31h1v1h-1zM87 31h1v1h-1zM3 32h1v1h-1zM10 32h1v1h-1zM12 32h1v1h-1zM15 32h1v1h-1zM40 32h1v1h-1zM44 32h1v1h-1zM47 32h1v1h-1zM51 32h1v1h-1zM71 32h1v1h-1zM81 32h1v1h-1zM88 32h2v1h-2zM6 33h1v1h-1zM8 33h1v1h-1zM53 33h1v1h-1zM65 33h1v1h-1zM71 33h2v1h-2zM81 33h1v1h-1zM91 33h1v1h-1zM99 33h1v1h-1zM6 34h1v1h-1zM10 34h2v1h-2zM33 34h1v1h-1zM39 34h1v1h-1zM77 34h1v1h-1zM81 34h2v1h-2zM88 34h1v1h-1zM91 34h2v1h-2zM5 35h1v1h-1zM10 35h1v1h-1zM16 35h1v1h-1zM33 35h1v1h-1zM52 35h2v1h-2zM72 35h1v1h-1zM74 35h1v1h-1zM80 35h1v1h-1zM88 35h1v1h-1zM123 35h1v1h-1zM14 36h2v1h-2zM34 36h1v1h-1zM37 36h1v1h-1zM89 36h1v1h-1zM93 36h2v1h-2zM14 37h2v1h-2zM34 37h1v1h-1zM37 37h1v1h-1zM89 37h1v1h-1zM93 37h2v1h-2z"/><path fill="#addc30" d="M55 0h2v1h-2zM69 0h1v1h-1zM106 0h2v1h-2zM55 1h2v1h-2zM69 1h1v1h-1zM106 1h2v1h-2zM8 2h1v1h-1zM25 2h1v1h-1zM56 2h1v1h-1zM62 2h2v1h-2zM69 2h1v1h-1zM78 2h1v1h-1zM54 3h1v1h-1zM61 3h1v1h-1zM63 3h1v1h-1zM107 3h1v1h-1zM0 4h2v1h-2zM25 4h1v1h-1zM64 4h1v1h-1zM97 4h1v1h-1zM0 5h2v1h-2zM54 5h1v1h-1zM65 5h1v1h-1zM69 5h2v1h-2zM74 5h1v1h-1zM64 7h1v1h-1zM68 7h1v1h-1zM83 7h1v1h-1zM96 7h1v1h-1zM5 8h1v1h-1zM30 8h1v1h-1zM38 8h1v1h-1zM9 9h1v1h-1zM61 9h1v1h-1zM45 10h1v1h-1zM96 10h1v1h-1zM62 11h1v1h-1zM84 11h1v1h-1zM8 12h1v1h-1zM56 12h1v1h-1zM74 12h1v1h-1zM8 13h1v1h-1zM42 13h1v1h-1zM70 13h2v1h-2zM40 14h1v1h-1zM42 14h1v1h-1zM21 15h1v1h-1zM42 15h1v1h-1zM20 16h1v1h-1zM41 16h1v1h-1zM20 17h1v1h-1zM41 17h1v1h-1zM21 18h1v1h-1zM47 18h2v1h-2zM47 19h1v1h-1zM49 19h1v1h-1zM69 20h1v1h-1zM46 21h1v1h-1zM48 21h1v1h-1zM16 22h1v1h-1zM27 22h2v1h-2zM35 22h1v1h-1zM43 22h1v1h-1zM46 22h1v1h-1zM51 22h1v1h-1zM69 22h1v1h-1zM73 22h2v1h-2zM4 23h1v1h-1zM16 23h1v1h-1zM35 23h1v1h-1zM42 23h1v1h-1zM52 23h1v1h-1zM58 23h1v1h-1zM73 23h2v1h-2zM26 24h1v1h-1zM35 24h1v1h-1zM49 24h2v1h-2zM60 24h1v1h-1zM30 25h1v1h-1zM33 25h1v1h-1zM37 25h1v1h-1zM54 25h1v1h-1zM58 25h1v1h-1zM72 25h1v1h-1zM11 26h2v1h-2zM30 26h1v1h-1zM40 26h1v1h-1zM54 26h1v1h-1zM12 27h1v1h-1zM56 27h1v1h-1zM59 27h1v1h-1zM72 27h1v1h-1zM82 27h1v1h-1zM89 27h1v1h-1zM111 27h1v1h-1zM3 28h1v1h-1zM12 28h1v1h-1zM16 28h1v1h-1zM18 28h1v1h-1zM25 28h2v1h-2zM61 28h1v1h-1zM65 28h1v1h-1zM72 28h1v1h-1zM81 28h1v1h-1zM110 28h1v1h-1zM12 29h1v1h-1zM42 29h1v1h-1zM76 29h1v1h-1zM8 30h1v1h-1zM11 30h1v1h-1zM46 30h1v1h-1zM75 30h1v1h-1zM77 30h1v1h-1zM83 30h1v1h-1zM3 31h1v1h-1zM9 31h1v1h-1zM13 31h1v1h-1zM33 31h1v1h-1zM36 31h1v1h-1zM73 31h2v1h-2zM78 31h1v1h-1zM82 31h1v1h-1zM85 31h2v1h-2zM9 32h1v1h-1zM13 32h2v1h-2zM72 32h1v1h-1zM74 32h1v1h-1zM76 32h1v1h-1zM79 32h1v1h-1zM7 33h1v1h-1zM39 33h1v1h-1zM74 33h1v1h-1zM79 33h1v1h-1zM83 33h2v1h-2zM9 34h1v1h-1zM14 34h1v1h-1zM46 34h1v1h-1zM72 34h1v1h-1zM107 34h1v1h-1zM6 35h1v1h-1zM9 35h1v1h-1zM15 35h1v1h-1zM17 35h2v1h-2zM31 35h1v1h-1zM75 35h1v1h-1zM79 35h1v1h-1zM81 35h1v1h-1zM5 36h1v1h-1zM16 36h2v1h-2zM30 36h1v1h-1zM38 36h1v1h-1zM48 36h1v1h-1zM5 37h1v1h-1zM16 37h2v1h-2zM30 37h1v1h-1zM38 37h1v1h-1zM48 37h1v1h-1z"/><path fill="#bade28" d="M57 0h1v1h-1zM72 0h1v1h-1zM57 1h1v1h-1zM72 1h1v1h-1zM55 2h1v1h-1zM107 2h1v1h-1zM56 3h1v1h-1zM66 5h2v1h-2zM0 6h3v1h-3zM63 6h3v1h-3zM2 7h1v1h-1zM6 7h2v1h-2zM88 7h1v1h-1zM5 9h1v1h-1zM7 9h1v1h-1zM5 10h1v1h-1zM45 11h1v1h-1zM44 12h1v1h-1zM57 12h1v1h-1zM63 12h1v1h-1zM8 14h1v1h-1zM69 14h1v1h-1zM71 14h1v1h-1zM76 14h1v1h-1zM43 16h1v1h-1zM43 18h1v1h-1zM50 18h1v1h-1zM46 19h1v1h-1zM47 21h1v1h-1zM48 22h1v1h-1zM34 25h1v1h-1zM38 25h1v1h-1zM50 25h1v1h-1zM59 25h1v1h-1zM13 26h1v1h-1zM28 26h1v1h-1zM63 26h1v1h-1zM74 26h1v1h-1zM32 27h1v1h-1zM58 27h1v1h-1zM13 28h1v1h-1zM33 28h1v1h-1zM56 28h1v1h-1zM73 28h2v1h-2zM78 28h1v1h-1zM0 29h3v1h-3zM9 29h1v1h-1zM13 29h1v1h-1zM75 29h1v1h-1zM82 29h1v1h-1zM13 30h1v1h-1zM76 30h1v1h-1zM79 30h1v1h-1zM5 31h1v1h-1zM14 31h1v1h-1zM88 31h1v1h-1zM39 32h1v1h-1zM46 32h1v1h-1zM78 32h1v1h-1zM87 32h1v1h-1zM16 33h1v1h-1zM38 33h1v1h-1zM46 33h1v1h-1zM77 33h1v1h-1zM15 34h1v1h-1zM18 34h1v1h-1zM32 34h1v1h-1zM74 34h3v1h-3zM80 34h1v1h-1zM32 35h1v1h-1zM76 35h1v1h-1zM11 36h1v1h-1zM76 36h2v1h-2zM92 36h1v1h-1zM11 37h1v1h-1zM76 37h2v1h-2zM92 37h1v1h-1z"/><path fill="#cae11f" d="M71 0h1v1h-1zM71 1h1v1h-1zM61 2h1v1h-1zM66 6h1v1h-1zM3 7h1v1h-1zM3 8h2v1h-2zM8 8h2v1h-2zM51 20h1v1h-1zM25 21h1v1h-1zM51 21h1v1h-1zM49 22h1v1h-1zM60 25h1v1h-1zM55 26h1v1h-1zM59 26h1v1h-1zM71 26h1v1h-1zM73 26h1v1h-1zM75 26h1v1h-1zM73 27h1v1h-1zM75 27h1v1h-1zM80 27h2v1h-2zM0 28h2v1h-2zM83 28h1v1h-1zM83 29h2v1h-2zM4 30h1v1h-1zM78 30h1v1h-1zM75 31h1v1h-1zM79 31h1v1h-1zM34 32h1v1h-1zM77 32h1v1h-1zM8 34h1v1h-1zM16 34h2v1h-2zM78 34h1v1h-1zM11 35h1v1h-1zM73 35h1v1h-1zM73 36h1v1h-1zM78 36h1v1h-1zM73 37h1v1h-1zM78 37h1v1h-1z"/><path fill="#d8e219" d="M70 0h1v1h-1zM70 1h1v1h-1zM2 4h1v1h-1zM67 4h1v1h-1zM67 6h1v1h-1zM5 7h1v1h-1zM7 8h1v1h-1zM8 9h1v1h-1zM47 22h1v1h-1zM80 26h1v1h-1zM13 27h1v1h-1zM74 27h1v1h-1zM57 28h1v1h-1zM82 28h1v1h-1zM88 28h1v1h-1zM9 30h1v1h-1zM76 31h1v1h-1zM8 32h1v1h-1zM9 33h1v1h-1zM33 33h1v1h-1zM76 33h1v1h-1zM77 35h1v1h-1z"/><path fill="#e5e419" d="M0 7h2v1h-2zM6 9h1v1h-1zM57 27h1v1h-1zM7 34h1v1h-1z"/><path fill="#f1e51d" d="M6 8h1v1h-1z"/></g></g>
<path d="M103 8H662V349.5H103Z M108.5 13.8V171.4H657V13.8Z M108.5 185V343.2H657V185Z" fill="#000" fill-rule="evenodd"/>
<line x1="103" y1="74.8" x2="662" y2="74.8" stroke="#ffff00" stroke-width="4" stroke-dasharray="21.8 4.62" stroke-dashoffset="1.7"/>
<line x1="103" y1="239.8" x2="662" y2="239.8" stroke="#0000ff" stroke-width="4" stroke-dasharray="21.9 4.5" stroke-dashoffset="0.6"/>
<line x1="458" y1="113" x2="413" y2="176" stroke="#000" stroke-width="3.8" stroke-dasharray="20.5 5.3"/>
<line x1="458.3" y1="284" x2="404" y2="351" stroke="#000" stroke-width="3.8" stroke-dasharray="13 4.8 21.5 4.8 21.5 4.8 40"/>
<text transform="translate(96.3,22.7) scale(0.93,1)" font-family="Liberation Serif" font-size="32" text-anchor="end">0</text>
<text transform="translate(96.3,85.5) scale(0.93,1)" font-family="Liberation Serif" font-size="32" text-anchor="end">25</text>
<text transform="translate(96.3,150.1) scale(0.93,1)" font-family="Liberation Serif" font-size="32" text-anchor="end">50</text>
<text transform="translate(96.3,195.7) scale(0.93,1)" font-family="Liberation Serif" font-size="32" text-anchor="end">0</text>
<text transform="translate(96.3,251.5) scale(0.93,1)" font-family="Liberation Serif" font-size="32" text-anchor="end">25</text>
<text transform="translate(96.3,306.6) scale(0.93,1)" font-family="Liberation Serif" font-size="32" text-anchor="end">50</text>
<text transform="translate(96.3,362.5) scale(0.93,1)" font-family="Liberation Serif" font-size="32" text-anchor="end">75</text>
<text transform="translate(104.5,385.8) scale(0.93,1)" font-family="Liberation Serif" font-size="32" text-anchor="middle">0</text>
<text transform="translate(216.4,385.8) scale(0.93,1)" font-family="Liberation Serif" font-size="32" text-anchor="middle">50</text>
<text transform="translate(328.5,385.8) scale(0.93,1)" font-family="Liberation Serif" font-size="32" text-anchor="middle">100</text>
<text transform="translate(439.5,385.8) scale(0.93,1)" font-family="Liberation Serif" font-size="32" text-anchor="middle">150</text>
<text transform="translate(549.8,385.8) scale(0.93,1)" font-family="Liberation Serif" font-size="32" text-anchor="middle">200</text>
<text transform="translate(661.4,385.8) scale(0.93,1)" font-family="Liberation Serif" font-size="32" text-anchor="middle">250</text>
<text transform="translate(30.5,190) rotate(-90)" font-family="Liberation Serif" font-size="41">Z (μm)</text>
<text transform="translate(30.5,352) rotate(-90)" font-family="Liberation Serif" font-size="41">Z (μm)</text>
<text transform="translate(238,60.5)" font-family="Liberation Serif" font-size="40">φ</text>
<text transform="translate(260.8,65) scale(1.05,1)" font-family="Liberation Serif" font-size="22">Q</text>
<text transform="translate(288,60.5) scale(1.12,1)" font-family="Liberation Serif" font-size="40">=</text>
<text transform="translate(323.6,60.8)" font-family="Liberation Serif" font-size="41">0.5</text>
<text transform="translate(374.6,60.5)" font-family="Liberation Serif" font-size="40">(</text>
<text transform="translate(389.7,60.8)" font-family="Liberation Serif" font-size="40">1</text>
<text transform="translate(417.2,61.5) scale(1.05,1)" font-family="Liberation Serif" font-size="44">+</text>
<text transform="translate(452.3,60.5)" font-family="Liberation Serif" font-size="40">[</text>
<text transform="translate(466.8,60.8)" font-family="Liberation Serif" font-size="40">1</text>
<text transform="translate(486.5,60.5) scale(1.15,1)" font-family="Liberation Serif" font-size="40">-</text>
<text transform="translate(497.5,60.5)" font-family="Liberation Serif" font-size="40">4</text>
<text transform="translate(515.8,60.5)" font-family="Liberation Serif" font-size="40">Q</text>
<text transform="translate(544.8,60.5)" font-family="Liberation Serif" font-size="40">/</text>
<text transform="translate(556.1,60.5) scale(1.1,1)" font-family="Liberation Serif" font-size="40">k</text>
<text transform="translate(582.4,60.5)" font-family="Liberation Serif" font-size="40">]</text>
<text transform="translate(594.9,42.5)" font-family="Liberation Serif" font-size="24">0.5</text>
<text transform="translate(626.2,60.5)" font-family="Liberation Serif" font-size="40">)</text>
<text transform="translate(419.8,225)" font-family="Liberation Serif" font-size="40">φ</text>
<text transform="translate(442.8,229.7)" font-family="Liberation Serif" font-size="24">qyqz</text>
<text transform="translate(491.6,218.7)" font-family="Liberation Serif" font-size="12">2</text>
<text transform="translate(507,225) scale(1.15,1)" font-family="Liberation Serif" font-size="40">=</text>
<text transform="translate(542,224.5)" font-family="Liberation Serif" font-size="40">k</text>
<text transform="translate(563.1,225)" font-family="Liberation Serif" font-size="40">(</text>
<text transform="translate(576.9,225) scale(0.95,1)" font-family="Liberation Serif" font-size="40">q</text>
<text transform="translate(597.3,229.7)" font-family="Liberation Serif" font-size="24">y</text>
<text transform="translate(609.2,225) scale(0.95,1)" font-family="Liberation Serif" font-size="40">q</text>
<text transform="translate(629.1,205.6)" font-family="Liberation Serif" font-size="22">2</text>
<text transform="translate(630.1,229.7)" font-family="Liberation Serif" font-size="24">z</text>
<text transform="translate(641.9,225)" font-family="Liberation Serif" font-size="40">)</text>
<rect x="109.5" y="408" width="552" height="347" fill="none" stroke="#000" stroke-width="3"/>
<path d="M109.5 755V746.5M109.5 408V416.5M131.6 755V750.5M131.6 408V412.5M153.7 755V750.5M153.7 408V412.5M175.7 755V750.5M175.7 408V412.5M197.8 755V750.5M197.8 408V412.5M219.9 755V746.5M219.9 408V416.5M242.0 755V750.5M242.0 408V412.5M264.1 755V750.5M264.1 408V412.5M286.1 755V750.5M286.1 408V412.5M308.2 755V750.5M308.2 408V412.5M330.3 755V746.5M330.3 408V416.5M352.4 755V750.5M352.4 408V412.5M374.5 755V750.5M374.5 408V412.5M396.5 755V750.5M396.5 408V412.5M418.6 755V750.5M418.6 408V412.5M440.7 755V746.5M440.7 408V416.5M462.8 755V750.5M462.8 408V412.5M484.9 755V750.5M484.9 408V412.5M506.9 755V750.5M506.9 408V412.5M529.0 755V750.5M529.0 408V412.5M551.1 755V746.5M551.1 408V416.5M573.2 755V750.5M573.2 408V412.5M595.3 755V750.5M595.3 408V412.5M617.3 755V750.5M617.3 408V412.5M639.4 755V750.5M639.4 408V412.5M661.5 755V746.5M661.5 408V416.5M109.5 748.2H114.0M661.5 748.2H657.0M109.5 735.6H114.0M661.5 735.6H657.0M109.5 723.0H118.5M661.5 723.0H652.5M109.5 710.4H114.0M661.5 710.4H657.0M109.5 697.8H114.0M661.5 697.8H657.0M109.5 685.2H114.0M661.5 685.2H657.0M109.5 672.6H114.0M661.5 672.6H657.0M109.5 660.0H118.5M661.5 660.0H652.5M109.5 647.4H114.0M661.5 647.4H657.0M109.5 634.8H114.0M661.5 634.8H657.0M109.5 622.2H114.0M661.5 622.2H657.0M109.5 609.6H114.0M661.5 609.6H657.0M109.5 597.0H118.5M661.5 597.0H652.5M109.5 584.4H114.0M661.5 584.4H657.0M109.5 571.8H114.0M661.5 571.8H657.0M109.5 559.2H114.0M661.5 559.2H657.0M109.5 546.6H114.0M661.5 546.6H657.0M109.5 534.0H118.5M661.5 534.0H652.5M109.5 521.4H114.0M661.5 521.4H657.0M109.5 508.8H114.0M661.5 508.8H657.0M109.5 496.2H114.0M661.5 496.2H657.0M109.5 483.6H114.0M661.5 483.6H657.0M109.5 471.0H118.5M661.5 471.0H652.5M109.5 458.4H114.0M661.5 458.4H657.0M109.5 445.8H114.0M661.5 445.8H657.0M109.5 433.2H114.0M661.5 433.2H657.0M109.5 420.6H114.0M661.5 420.6H657.0" stroke="#000" stroke-width="2.6" fill="none"/>
<text transform="translate(102,419) scale(0.93,1)" font-family="Liberation Serif" font-size="32" text-anchor="end">0.69</text>
<text transform="translate(102,482) scale(0.93,1)" font-family="Liberation Serif" font-size="32" text-anchor="end">0.68</text>
<text transform="translate(102,545) scale(0.93,1)" font-family="Liberation Serif" font-size="32" text-anchor="end">0.67</text>
<text transform="translate(102,608) scale(0.93,1)" font-family="Liberation Serif" font-size="32" text-anchor="end">0.66</text>
<text transform="translate(102,671) scale(0.93,1)" font-family="Liberation Serif" font-size="32" text-anchor="end">0.65</text>
<text transform="translate(102,734) scale(0.93,1)" font-family="Liberation Serif" font-size="32" text-anchor="end">0.64</text>
<text transform="translate(108.9,790.5) scale(0.93,1)" font-family="Liberation Serif" font-size="32" text-anchor="middle">0</text>
<text transform="translate(220.3,790.5) scale(0.93,1)" font-family="Liberation Serif" font-size="32" text-anchor="middle">50</text>
<text transform="translate(331.1,790.5) scale(0.93,1)" font-family="Liberation Serif" font-size="32" text-anchor="middle">100</text>
<text transform="translate(441.9,790.5) scale(0.93,1)" font-family="Liberation Serif" font-size="32" text-anchor="middle">150</text>
<text transform="translate(551.5,790.5) scale(0.93,1)" font-family="Liberation Serif" font-size="32" text-anchor="middle">200</text>
<text transform="translate(661.4,790.5) scale(0.93,1)" font-family="Liberation Serif" font-size="32" text-anchor="middle">250</text>
<text transform="translate(33.5,761.5) rotate(-90) scale(0.955,1)" font-family="Liberation Serif" font-size="46">Volume Fraction (φ)</text>
<text transform="translate(386.5,849.3) scale(0.945,1)" font-family="Liberation Serif" font-size="46" text-anchor="middle">Y(μm)</text>
<text transform="translate(126.8,737.5) scale(1.025,1)" font-family="Liberation Serif" font-size="40">Shear Band</text>
<line x1="155" y1="700" x2="178" y2="650" stroke="#000" stroke-width="4.5"/>
<path d="M191 628 L168.8 643.4 L192.9 654 Z" fill="#000"/>
<clipPath id="pc"><rect x="110.5" y="409" width="550" height="345"/></clipPath>
<g clip-path="url(#pc)"><g fill="#0000ff" stroke="#000" stroke-width="1.9"><circle cx="157.6" cy="468.2" r="5.7"/><circle cx="161.9" cy="488.2" r="5.7"/><circle cx="166.3" cy="514.2" r="5.7"/><circle cx="114.5" cy="522.3" r="5.7"/><circle cx="131.3" cy="526.2" r="5.7"/><circle cx="126.6" cy="532.5" r="5.7"/><circle cx="144.0" cy="526.6" r="5.7"/><circle cx="153.2" cy="521.8" r="5.7"/><circle cx="148.8" cy="533.3" r="5.7"/><circle cx="139.0" cy="534.2" r="5.7"/><circle cx="135.6" cy="542.7" r="5.7"/><circle cx="118.1" cy="543.8" r="5.7"/><circle cx="175.1" cy="525.5" r="5.7"/><circle cx="179.0" cy="530.7" r="5.7"/><circle cx="183.8" cy="547.0" r="5.7"/><circle cx="113.0" cy="530.5" r="5.7"/><circle cx="122.5" cy="552.4" r="5.7"/><circle cx="169.2" cy="571.1" r="5.7"/><circle cx="187.5" cy="577.7" r="5.7"/><circle cx="192.3" cy="577.7" r="5.7"/><circle cx="196.5" cy="572.3" r="5.7"/><circle cx="200.7" cy="598.7" r="5.7"/><circle cx="205.0" cy="554.5" r="5.7"/><circle cx="235.9" cy="475.8" r="5.7"/><circle cx="230.8" cy="480.9" r="5.7"/><circle cx="244.6" cy="485.3" r="5.7"/><circle cx="253.4" cy="488.9" r="5.7"/><circle cx="240.3" cy="494.6" r="5.7"/><circle cx="266.2" cy="505.0" r="5.7"/><circle cx="209.4" cy="508.0" r="5.7"/><circle cx="224.2" cy="510.5" r="5.7"/><circle cx="227.2" cy="525.0" r="5.7"/><circle cx="218.2" cy="534.0" r="5.7"/><circle cx="291.8" cy="508.6" r="5.7"/><circle cx="295.5" cy="514.5" r="5.7"/><circle cx="214.0" cy="567.7" r="5.7"/><circle cx="262.2" cy="554.8" r="5.7"/><circle cx="256.3" cy="569.4" r="5.7"/><circle cx="274.6" cy="576.7" r="5.7"/><circle cx="288.5" cy="569.0" r="5.7"/><circle cx="282.6" cy="565.0" r="5.7"/><circle cx="301.1" cy="484.5" r="5.7"/><circle cx="340.2" cy="487.0" r="5.7"/><circle cx="366.0" cy="470.4" r="5.7"/><circle cx="370.8" cy="485.3" r="5.7"/><circle cx="361.6" cy="494.0" r="5.7"/><circle cx="355.1" cy="497.7" r="5.7"/><circle cx="376.0" cy="497.7" r="5.7"/><circle cx="318.3" cy="503.8" r="5.7"/><circle cx="314.2" cy="511.1" r="5.7"/><circle cx="331.7" cy="532.0" r="5.7"/><circle cx="336.5" cy="541.5" r="5.7"/><circle cx="304.0" cy="535.0" r="5.7"/><circle cx="344.6" cy="548.5" r="5.7"/><circle cx="352.9" cy="556.5" r="5.7"/><circle cx="322.7" cy="564.5" r="5.7"/><circle cx="327.0" cy="596.2" r="5.7"/><circle cx="348.9" cy="595.3" r="5.7"/><circle cx="378.0" cy="508.5" r="5.7"/><circle cx="383.0" cy="508.6" r="5.7"/><circle cx="387.8" cy="511.5" r="5.7"/><circle cx="396.6" cy="510.8" r="5.7"/><circle cx="392.0" cy="536.2" r="5.7"/><circle cx="401.2" cy="538.7" r="5.7"/><circle cx="444.3" cy="514.5" r="5.7"/><circle cx="457.5" cy="514.2" r="5.7"/><circle cx="431.2" cy="524.2" r="5.7"/><circle cx="440.0" cy="525.6" r="5.7"/><circle cx="435.6" cy="533.6" r="5.7"/><circle cx="453.1" cy="530.0" r="5.7"/><circle cx="448.0" cy="534.7" r="5.7"/><circle cx="409.3" cy="563.1" r="5.7"/><circle cx="413.7" cy="568.9" r="5.7"/><circle cx="422.4" cy="568.9" r="5.7"/><circle cx="426.8" cy="563.8" r="5.7"/><circle cx="462.3" cy="555.0" r="5.7"/><circle cx="466.5" cy="562.8" r="5.7"/><circle cx="406.4" cy="599.6" r="5.7"/><circle cx="418.4" cy="621.0" r="5.7"/><circle cx="479.3" cy="512.6" r="5.7"/><circle cx="474.6" cy="529.9" r="5.7"/><circle cx="500.8" cy="496.9" r="5.7"/><circle cx="496.6" cy="520.7" r="5.7"/><circle cx="492.3" cy="532.2" r="5.7"/><circle cx="548.9" cy="485.3" r="5.7"/><circle cx="531.4" cy="507.2" r="5.7"/><circle cx="535.8" cy="502.0" r="5.7"/><circle cx="544.6" cy="500.6" r="5.7"/><circle cx="553.3" cy="505.0" r="5.7"/><circle cx="540.2" cy="527.8" r="5.7"/><circle cx="526.3" cy="547.7" r="5.7"/><circle cx="505.1" cy="559.4" r="5.7"/><circle cx="509.5" cy="569.3" r="5.7"/><circle cx="522.7" cy="576.9" r="5.7"/><circle cx="488.4" cy="582.8" r="5.7"/><circle cx="518.5" cy="597.4" r="5.7"/><circle cx="513.9" cy="609.3" r="5.7"/><circle cx="558.4" cy="550.7" r="5.7"/><circle cx="562.2" cy="562.3" r="5.7"/><circle cx="575.0" cy="522.4" r="5.7"/><circle cx="579.2" cy="535.2" r="5.7"/><circle cx="566.1" cy="544.4" r="5.7"/><circle cx="570.4" cy="560.6" r="5.7"/><circle cx="583.8" cy="551.4" r="5.7"/><circle cx="587.6" cy="561.4" r="5.7"/><circle cx="596.0" cy="554.5" r="5.7"/><circle cx="600.6" cy="552.2" r="5.7"/><circle cx="592.2" cy="576.7" r="5.7"/><circle cx="609.8" cy="572.1" r="5.7"/><circle cx="613.6" cy="539.8" r="5.7"/><circle cx="622.5" cy="543.5" r="5.7"/><circle cx="626.7" cy="531.8" r="5.7"/><circle cx="631.3" cy="522.5" r="5.7"/><circle cx="635.1" cy="541.0" r="5.7"/><circle cx="639.7" cy="544.5" r="5.7"/><circle cx="644.3" cy="514.8" r="5.7"/><circle cx="657.3" cy="517.4" r="5.7"/><circle cx="659.6" cy="518.9" r="5.7"/><circle cx="648.1" cy="559.1" r="5.7"/><circle cx="652.7" cy="563.7" r="5.7"/><circle cx="605.2" cy="619.6" r="5.7"/><circle cx="618.1" cy="618.2" r="5.7"/></g>
<g fill="#fff" stroke="#000" stroke-width="1.9"><rect x="106.3" y="469.3" width="11.4" height="11.4"/></g>
<g fill="#ffff00" stroke="#000" stroke-width="1.9"><rect x="108.8" y="478.6" width="11.4" height="11.4"/><rect x="113.0" y="478.6" width="11.4" height="11.4"/><rect x="116.9" y="469.5" width="11.4" height="11.4"/><rect x="121.3" y="470.3" width="11.4" height="11.4"/><rect x="123.8" y="483.7" width="11.4" height="11.4"/><rect x="130.0" y="475.7" width="11.4" height="11.4"/><rect x="134.3" y="480.1" width="11.4" height="11.4"/><rect x="138.0" y="487.4" width="11.4" height="11.4"/><rect x="141.6" y="491.0" width="11.4" height="11.4"/><rect x="146.0" y="494.7" width="11.4" height="11.4"/><rect x="151.1" y="489.6" width="11.4" height="11.4"/><rect x="156.2" y="502.7" width="11.4" height="11.4"/><rect x="159.9" y="518.8" width="11.4" height="11.4"/><rect x="189.6" y="521.5" width="11.4" height="11.4"/><rect x="193.9" y="513.6" width="11.4" height="11.4"/><rect x="199.2" y="524.1" width="11.4" height="11.4"/><rect x="186.6" y="547.9" width="11.4" height="11.4"/><rect x="164.3" y="553.4" width="11.4" height="11.4"/><rect x="173.8" y="556.9" width="11.4" height="11.4"/><rect x="168.6" y="571.2" width="11.4" height="11.4"/><rect x="178.1" y="594.3" width="11.4" height="11.4"/><rect x="182.2" y="600.7" width="11.4" height="11.4"/><rect x="221.3" y="485.1" width="11.4" height="11.4"/><rect x="215.8" y="494.7" width="11.4" height="11.4"/><rect x="225.6" y="494.8" width="11.4" height="11.4"/><rect x="228.9" y="505.0" width="11.4" height="11.4"/><rect x="238.8" y="504.3" width="11.4" height="11.4"/><rect x="202.7" y="510.6" width="11.4" height="11.4"/><rect x="206.2" y="509.7" width="11.4" height="11.4"/><rect x="212.3" y="511.4" width="11.4" height="11.4"/><rect x="234.0" y="518.9" width="11.4" height="11.4"/><rect x="242.3" y="516.9" width="11.4" height="11.4"/><rect x="247.0" y="549.8" width="11.4" height="11.4"/><rect x="264.9" y="552.8" width="11.4" height="11.4"/><rect x="258.6" y="559.3" width="11.4" height="11.4"/><rect x="268.9" y="563.7" width="11.4" height="11.4"/><rect x="277.6" y="566.6" width="11.4" height="11.4"/><rect x="251.3" y="569.6" width="11.4" height="11.4"/><rect x="256.2" y="568.1" width="11.4" height="11.4"/><rect x="273.7" y="583.4" width="11.4" height="11.4"/><rect x="279.8" y="536.7" width="11.4" height="11.4"/><rect x="284.2" y="536.7" width="11.4" height="11.4"/><rect x="288.6" y="538.2" width="11.4" height="11.4"/><rect x="303.9" y="522.8" width="11.4" height="11.4"/><rect x="312.9" y="527.9" width="11.4" height="11.4"/><rect x="317.3" y="531.2" width="11.4" height="11.4"/><rect x="298.3" y="539.1" width="11.4" height="11.4"/><rect x="307.8" y="538.4" width="11.4" height="11.4"/><rect x="321.6" y="539.1" width="11.4" height="11.4"/><rect x="295.4" y="552.3" width="11.4" height="11.4"/><rect x="326.0" y="550.1" width="11.4" height="11.4"/><rect x="329.7" y="569.8" width="11.4" height="11.4"/><rect x="343.5" y="572.7" width="11.4" height="11.4"/><rect x="334.3" y="600.5" width="11.4" height="11.4"/><rect x="338.7" y="613.8" width="11.4" height="11.4"/><rect x="346.9" y="526.5" width="11.4" height="11.4"/><rect x="351.6" y="517.3" width="11.4" height="11.4"/><rect x="360.3" y="497.8" width="11.4" height="11.4"/><rect x="354.5" y="501.5" width="11.4" height="11.4"/><rect x="361.8" y="511.7" width="11.4" height="11.4"/><rect x="369.8" y="512.3" width="11.4" height="11.4"/><rect x="373.3" y="535.3" width="11.4" height="11.4"/><rect x="377.3" y="547.3" width="11.4" height="11.4"/><rect x="380.3" y="555.3" width="11.4" height="11.4"/><rect x="386.1" y="575.6" width="11.4" height="11.4"/><rect x="390.5" y="575.6" width="11.4" height="11.4"/><rect x="395.3" y="592.7" width="11.4" height="11.4"/><rect x="401.8" y="582.3" width="11.4" height="11.4"/><rect x="407.3" y="583.8" width="11.4" height="11.4"/><rect x="421.1" y="582.9" width="11.4" height="11.4"/><rect x="416.9" y="592.3" width="11.4" height="11.4"/><rect x="412.8" y="602.9" width="11.4" height="11.4"/><rect x="399.2" y="608.8" width="11.4" height="11.4"/><rect x="425.5" y="553.0" width="11.4" height="11.4"/><rect x="427.7" y="550.1" width="11.4" height="11.4"/><rect x="434.3" y="542.8" width="11.4" height="11.4"/><rect x="437.9" y="557.4" width="11.4" height="11.4"/><rect x="443.8" y="554.4" width="11.4" height="11.4"/><rect x="447.4" y="561.0" width="11.4" height="11.4"/><rect x="451.8" y="568.3" width="11.4" height="11.4"/><rect x="456.2" y="572.7" width="11.4" height="11.4"/><rect x="463.5" y="577.8" width="11.4" height="11.4"/><rect x="460.5" y="593.0" width="11.4" height="11.4"/><rect x="469.5" y="578.5" width="11.4" height="11.4"/><rect x="472.4" y="584.4" width="11.4" height="11.4"/><rect x="477.5" y="589.5" width="11.4" height="11.4"/><rect x="482.1" y="609.3" width="11.4" height="11.4"/><rect x="486.6" y="614.3" width="11.4" height="11.4"/><rect x="490.7" y="628.6" width="11.4" height="11.4"/><rect x="495.5" y="625.7" width="11.4" height="11.4"/><rect x="499.4" y="638.1" width="11.4" height="11.4"/><rect x="503.8" y="644.7" width="11.4" height="11.4"/><rect x="512.6" y="632.0" width="11.4" height="11.4"/><rect x="508.2" y="681.9" width="11.4" height="11.4"/><rect x="517.0" y="563.2" width="11.4" height="11.4"/><rect x="519.2" y="548.6" width="11.4" height="11.4"/><rect x="522.8" y="547.1" width="11.4" height="11.4"/><rect x="530.1" y="548.6" width="11.4" height="11.4"/><rect x="533.8" y="536.2" width="11.4" height="11.4"/><rect x="538.9" y="536.2" width="11.4" height="11.4"/><rect x="543.2" y="545.7" width="11.4" height="11.4"/><rect x="546.9" y="580.7" width="11.4" height="11.4"/><rect x="551.3" y="584.4" width="11.4" height="11.4"/><rect x="556.4" y="581.5" width="11.4" height="11.4"/><rect x="560.4" y="584.0" width="11.4" height="11.4"/><rect x="564.3" y="596.8" width="11.4" height="11.4"/><rect x="621.0" y="558.8" width="11.4" height="11.4"/><rect x="625.1" y="564.9" width="11.4" height="11.4"/><rect x="617.1" y="589.4" width="11.4" height="11.4"/><rect x="630.2" y="586.3" width="11.4" height="11.4"/><rect x="634.0" y="585.6" width="11.4" height="11.4"/><rect x="638.6" y="592.8" width="11.4" height="11.4"/><rect x="643.5" y="619.6" width="11.4" height="11.4"/><rect x="569.2" y="642.6" width="11.4" height="11.4"/><rect x="612.6" y="657.5" width="11.4" height="11.4"/><rect x="581.8" y="678.7" width="11.4" height="11.4"/><rect x="586.4" y="688.1" width="11.4" height="11.4"/><rect x="598.9" y="678.7" width="11.4" height="11.4"/><rect x="603.4" y="683.8" width="11.4" height="11.4"/><rect x="608.4" y="677.5" width="11.4" height="11.4"/><rect x="646.3" y="644.1" width="11.4" height="11.4"/><rect x="650.1" y="647.2" width="11.4" height="11.4"/><rect x="655.8" y="659.3" width="11.4" height="11.4"/><rect x="572.6" y="707.2" width="11.4" height="11.4"/><rect x="578.1" y="711.2" width="11.4" height="11.4"/><rect x="589.0" y="713.6" width="11.4" height="11.4"/><rect x="594.5" y="714.5" width="11.4" height="11.4"/></g></g>
<rect x="109.5" y="408" width="552" height="347" fill="none" stroke="#000" stroke-width="3"/></svg></body></html>
